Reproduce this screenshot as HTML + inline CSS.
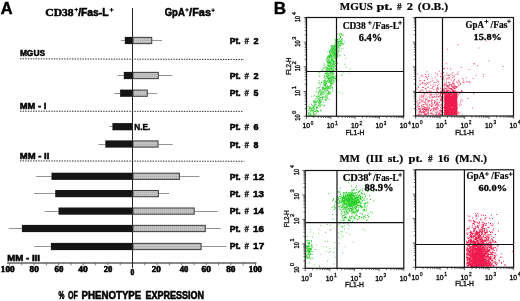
<!DOCTYPE html>
<html><head><meta charset="utf-8"><style>
html,body{margin:0;padding:0;background:#fff;}
body{width:520px;height:301px;overflow:hidden;position:relative;}
svg{position:absolute;left:0;top:0;filter:blur(0.3px);}
text{white-space:pre;}
</style></head><body>
<svg width="520" height="301" viewBox="0 0 520 301">
<defs><pattern id="hatch" width="2" height="2" patternUnits="userSpaceOnUse"><rect width="2" height="2" fill="#c4c4c4"/><rect width="1" height="1" fill="#acacac"/></pattern></defs>
<line x1="20" y1="58.8" x2="244" y2="59.5" stroke="#2a2a2a" stroke-width="1" stroke-dasharray="1.4 1.2"/>
<line x1="20" y1="111.2" x2="243.5" y2="111.4" stroke="#2a2a2a" stroke-width="1" stroke-dasharray="1.4 1.2"/>
<line x1="20" y1="160.9" x2="244.2" y2="161.3" stroke="#2a2a2a" stroke-width="1" stroke-dasharray="1.4 1.2"/>
<line x1="120.8" y1="40.5" x2="124.8" y2="40.5" stroke="#7a7a7a" stroke-width="0.8"/>
<line x1="152.2" y1="40.5" x2="162.0" y2="40.5" stroke="#7a7a7a" stroke-width="0.8"/>
<rect x="124.8" y="36.9" width="7.700000000000003" height="7.2" fill="#151515"/>
<rect x="133.0" y="37.4" width="18.69999999999999" height="6.2" fill="url(#hatch)" stroke="#484848" stroke-width="1.1"/>
<line x1="117.4" y1="75.5" x2="123.8" y2="75.5" stroke="#7a7a7a" stroke-width="0.8"/>
<line x1="158.8" y1="75.5" x2="172.3" y2="75.5" stroke="#7a7a7a" stroke-width="0.8"/>
<rect x="123.8" y="71.9" width="8.700000000000003" height="7.2" fill="#151515"/>
<rect x="133.0" y="72.4" width="25.30000000000001" height="6.2" fill="url(#hatch)" stroke="#484848" stroke-width="1.1"/>
<line x1="114.2" y1="93.5" x2="120.1" y2="93.5" stroke="#7a7a7a" stroke-width="0.8"/>
<line x1="147.8" y1="93.5" x2="157.2" y2="93.5" stroke="#7a7a7a" stroke-width="0.8"/>
<rect x="120.1" y="89.60000000000001" width="12.400000000000006" height="7.2" fill="#151515"/>
<rect x="133.0" y="90.10000000000001" width="14.300000000000011" height="6.2" fill="url(#hatch)" stroke="#484848" stroke-width="1.1"/>
<line x1="109.2" y1="126.5" x2="112.4" y2="126.5" stroke="#7a7a7a" stroke-width="0.8"/>
<rect x="112.4" y="123.10000000000001" width="20.099999999999994" height="7.2" fill="#151515"/>
<line x1="98.4" y1="144.5" x2="105.3" y2="144.5" stroke="#7a7a7a" stroke-width="0.8"/>
<line x1="158.5" y1="144.5" x2="172.7" y2="144.5" stroke="#7a7a7a" stroke-width="0.8"/>
<rect x="105.3" y="140.4" width="27.200000000000003" height="7.2" fill="#151515"/>
<rect x="133.0" y="140.9" width="25.0" height="6.2" fill="url(#hatch)" stroke="#484848" stroke-width="1.1"/>
<line x1="36.2" y1="176.5" x2="51.5" y2="176.5" stroke="#7a7a7a" stroke-width="0.8"/>
<line x1="179.9" y1="176.5" x2="199.5" y2="176.5" stroke="#7a7a7a" stroke-width="0.8"/>
<rect x="51.5" y="172.70000000000002" width="81.0" height="7.2" fill="#151515"/>
<rect x="133.0" y="173.20000000000002" width="46.400000000000006" height="6.2" fill="url(#hatch)" stroke="#484848" stroke-width="1.1"/>
<line x1="34.1" y1="193.5" x2="55.2" y2="193.5" stroke="#7a7a7a" stroke-width="0.8"/>
<line x1="158.9" y1="193.5" x2="169.3" y2="193.5" stroke="#7a7a7a" stroke-width="0.8"/>
<rect x="55.2" y="190.0" width="77.3" height="7.2" fill="#151515"/>
<rect x="133.0" y="190.5" width="25.400000000000006" height="6.2" fill="url(#hatch)" stroke="#484848" stroke-width="1.1"/>
<line x1="44.6" y1="211.5" x2="58.5" y2="211.5" stroke="#7a7a7a" stroke-width="0.8"/>
<line x1="194.7" y1="211.5" x2="217.8" y2="211.5" stroke="#7a7a7a" stroke-width="0.8"/>
<rect x="58.5" y="207.5" width="74.0" height="7.2" fill="#151515"/>
<rect x="133.0" y="208.0" width="61.19999999999999" height="6.2" fill="url(#hatch)" stroke="#484848" stroke-width="1.1"/>
<line x1="8.7" y1="228.5" x2="21.9" y2="228.5" stroke="#7a7a7a" stroke-width="0.8"/>
<line x1="205.8" y1="228.5" x2="220.8" y2="228.5" stroke="#7a7a7a" stroke-width="0.8"/>
<rect x="21.9" y="224.9" width="110.6" height="7.2" fill="#151515"/>
<rect x="133.0" y="225.4" width="72.30000000000001" height="6.2" fill="url(#hatch)" stroke="#484848" stroke-width="1.1"/>
<line x1="34.3" y1="246.5" x2="50.9" y2="246.5" stroke="#7a7a7a" stroke-width="0.8"/>
<line x1="201.6" y1="246.5" x2="226.5" y2="246.5" stroke="#7a7a7a" stroke-width="0.8"/>
<rect x="50.9" y="242.9" width="81.6" height="7.2" fill="#151515"/>
<rect x="133.0" y="243.4" width="68.1" height="6.2" fill="url(#hatch)" stroke="#484848" stroke-width="1.1"/>
<line x1="132.5" y1="8" x2="132.5" y2="268" stroke="#222" stroke-width="1"/>
<line x1="7" y1="263" x2="256.5" y2="263" stroke="#111" stroke-width="1.15"/>
<line x1="9.5" y1="263" x2="9.5" y2="265.3" stroke="#555" stroke-width="0.8"/>
<line x1="21.8" y1="263" x2="21.8" y2="265.3" stroke="#555" stroke-width="0.8"/>
<line x1="34.1" y1="263" x2="34.1" y2="265.3" stroke="#555" stroke-width="0.8"/>
<line x1="46.4" y1="263" x2="46.4" y2="265.3" stroke="#555" stroke-width="0.8"/>
<line x1="58.7" y1="263" x2="58.7" y2="265.3" stroke="#555" stroke-width="0.8"/>
<line x1="71.0" y1="263" x2="71.0" y2="265.3" stroke="#555" stroke-width="0.8"/>
<line x1="83.3" y1="263" x2="83.3" y2="265.3" stroke="#555" stroke-width="0.8"/>
<line x1="95.6" y1="263" x2="95.6" y2="265.3" stroke="#555" stroke-width="0.8"/>
<line x1="107.9" y1="263" x2="107.9" y2="265.3" stroke="#555" stroke-width="0.8"/>
<line x1="120.2" y1="263" x2="120.2" y2="265.3" stroke="#555" stroke-width="0.8"/>
<line x1="144.8" y1="263" x2="144.8" y2="265.3" stroke="#555" stroke-width="0.8"/>
<line x1="157.1" y1="263" x2="157.1" y2="265.3" stroke="#555" stroke-width="0.8"/>
<line x1="169.4" y1="263" x2="169.4" y2="265.3" stroke="#555" stroke-width="0.8"/>
<line x1="181.7" y1="263" x2="181.7" y2="265.3" stroke="#555" stroke-width="0.8"/>
<line x1="194.0" y1="263" x2="194.0" y2="265.3" stroke="#555" stroke-width="0.8"/>
<line x1="206.3" y1="263" x2="206.3" y2="265.3" stroke="#555" stroke-width="0.8"/>
<line x1="218.6" y1="263" x2="218.6" y2="265.3" stroke="#555" stroke-width="0.8"/>
<line x1="230.9" y1="263" x2="230.9" y2="265.3" stroke="#555" stroke-width="0.8"/>
<line x1="243.2" y1="263" x2="243.2" y2="265.3" stroke="#555" stroke-width="0.8"/>
<line x1="255.5" y1="263" x2="255.5" y2="265.3" stroke="#555" stroke-width="0.8"/>
<text x="0.84" y="14.40" fill="#000" style="font-family:'Liberation Sans',sans-serif;font-size:17.3px;font-weight:bold;stroke:#000;stroke-width:0.5px;" textLength="11.84" lengthAdjust="spacingAndGlyphs">A</text>
<text x="45.39" y="16.20" fill="#000" style="font-family:'Liberation Serif',serif;font-size:10.5px;font-weight:bold;stroke:#000;stroke-width:0.5px;" textLength="28.14" lengthAdjust="spacingAndGlyphs">CD38</text>
<path d="M74.50 9.60H78.10M76.30 7.80V11.40" stroke="#000" stroke-width="1.0"/>
<text x="78.15" y="16.20" fill="#000" style="font-family:'Liberation Sans',sans-serif;font-size:10px;font-weight:bold;stroke:#000;stroke-width:0.5px;" textLength="30.42" lengthAdjust="spacingAndGlyphs">/Fas-L</text>
<path d="M109.70 9.90H113.50M111.60 8.00V11.80" stroke="#000" stroke-width="1.0"/>
<text x="164.66" y="16.20" fill="#000" style="font-family:'Liberation Sans',sans-serif;font-size:10px;font-weight:bold;stroke:#000;stroke-width:0.5px;" textLength="20.14" lengthAdjust="spacingAndGlyphs">GpA</text>
<path d="M185.20 9.90H188.80M187.00 8.10V11.70" stroke="#000" stroke-width="1.0"/>
<text x="189.14" y="16.20" fill="#000" style="font-family:'Liberation Sans',sans-serif;font-size:10px;font-weight:bold;stroke:#000;stroke-width:0.5px;" textLength="21.85" lengthAdjust="spacingAndGlyphs">/Fas</text>
<path d="M211.30 10.20H214.90M213.10 8.40V12.00" stroke="#000" stroke-width="1.0"/>
<text x="229.68" y="44.00" fill="#000" style="font-family:'Liberation Sans',sans-serif;font-size:8.7px;font-weight:bold;stroke:#000;stroke-width:0.5px;" textLength="10.96" lengthAdjust="spacingAndGlyphs">Pt.</text>
<text x="244.51" y="44.00" fill="#000" style="font-family:'Liberation Sans',sans-serif;font-size:8.7px;font-weight:bold;stroke:#000;stroke-width:0.3px;" textLength="4.47" lengthAdjust="spacingAndGlyphs">#</text>
<text x="253.43" y="44.00" fill="#000" style="font-family:'Liberation Sans',sans-serif;font-size:8.7px;font-weight:bold;stroke:#000;stroke-width:0.5px;" textLength="5.08" lengthAdjust="spacingAndGlyphs">2</text>
<text x="229.68" y="78.80" fill="#000" style="font-family:'Liberation Sans',sans-serif;font-size:8.7px;font-weight:bold;stroke:#000;stroke-width:0.5px;" textLength="10.96" lengthAdjust="spacingAndGlyphs">Pt.</text>
<text x="244.51" y="78.80" fill="#000" style="font-family:'Liberation Sans',sans-serif;font-size:8.7px;font-weight:bold;stroke:#000;stroke-width:0.3px;" textLength="4.47" lengthAdjust="spacingAndGlyphs">#</text>
<text x="253.43" y="78.80" fill="#000" style="font-family:'Liberation Sans',sans-serif;font-size:8.7px;font-weight:bold;stroke:#000;stroke-width:0.5px;" textLength="5.08" lengthAdjust="spacingAndGlyphs">2</text>
<text x="229.68" y="96.00" fill="#000" style="font-family:'Liberation Sans',sans-serif;font-size:8.7px;font-weight:bold;stroke:#000;stroke-width:0.5px;" textLength="10.96" lengthAdjust="spacingAndGlyphs">Pt.</text>
<text x="244.51" y="96.00" fill="#000" style="font-family:'Liberation Sans',sans-serif;font-size:8.7px;font-weight:bold;stroke:#000;stroke-width:0.3px;" textLength="4.47" lengthAdjust="spacingAndGlyphs">#</text>
<text x="253.48" y="96.00" fill="#000" style="font-family:'Liberation Sans',sans-serif;font-size:8.7px;font-weight:bold;stroke:#000;stroke-width:0.5px;" textLength="4.92" lengthAdjust="spacingAndGlyphs">5</text>
<text x="229.68" y="129.50" fill="#000" style="font-family:'Liberation Sans',sans-serif;font-size:8.7px;font-weight:bold;stroke:#000;stroke-width:0.5px;" textLength="10.96" lengthAdjust="spacingAndGlyphs">Pt.</text>
<text x="244.51" y="129.50" fill="#000" style="font-family:'Liberation Sans',sans-serif;font-size:8.7px;font-weight:bold;stroke:#000;stroke-width:0.3px;" textLength="4.47" lengthAdjust="spacingAndGlyphs">#</text>
<text x="253.42" y="129.50" fill="#000" style="font-family:'Liberation Sans',sans-serif;font-size:8.7px;font-weight:bold;stroke:#000;stroke-width:0.5px;" textLength="5.06" lengthAdjust="spacingAndGlyphs">6</text>
<text x="134.35" y="130.40" fill="#000" style="font-family:'Liberation Sans',sans-serif;font-size:8.7px;font-weight:bold;stroke:#000;stroke-width:0.4px;" textLength="15.91" lengthAdjust="spacingAndGlyphs">N.E.</text>
<text x="229.68" y="147.70" fill="#000" style="font-family:'Liberation Sans',sans-serif;font-size:8.7px;font-weight:bold;stroke:#000;stroke-width:0.5px;" textLength="10.96" lengthAdjust="spacingAndGlyphs">Pt.</text>
<text x="244.51" y="147.70" fill="#000" style="font-family:'Liberation Sans',sans-serif;font-size:8.7px;font-weight:bold;stroke:#000;stroke-width:0.3px;" textLength="4.47" lengthAdjust="spacingAndGlyphs">#</text>
<text x="253.47" y="147.70" fill="#000" style="font-family:'Liberation Sans',sans-serif;font-size:8.7px;font-weight:bold;stroke:#000;stroke-width:0.5px;" textLength="4.96" lengthAdjust="spacingAndGlyphs">8</text>
<text x="229.68" y="179.50" fill="#000" style="font-family:'Liberation Sans',sans-serif;font-size:8.7px;font-weight:bold;stroke:#000;stroke-width:0.5px;" textLength="10.96" lengthAdjust="spacingAndGlyphs">Pt.</text>
<text x="244.51" y="179.50" fill="#000" style="font-family:'Liberation Sans',sans-serif;font-size:8.7px;font-weight:bold;stroke:#000;stroke-width:0.3px;" textLength="4.47" lengthAdjust="spacingAndGlyphs">#</text>
<text x="253.13" y="179.50" fill="#000" style="font-family:'Liberation Sans',sans-serif;font-size:8.7px;font-weight:bold;stroke:#000;stroke-width:0.5px;" textLength="11.02" lengthAdjust="spacingAndGlyphs">12</text>
<text x="229.68" y="197.20" fill="#000" style="font-family:'Liberation Sans',sans-serif;font-size:8.7px;font-weight:bold;stroke:#000;stroke-width:0.5px;" textLength="10.96" lengthAdjust="spacingAndGlyphs">Pt.</text>
<text x="244.51" y="197.20" fill="#000" style="font-family:'Liberation Sans',sans-serif;font-size:8.7px;font-weight:bold;stroke:#000;stroke-width:0.3px;" textLength="4.47" lengthAdjust="spacingAndGlyphs">#</text>
<text x="253.13" y="197.20" fill="#000" style="font-family:'Liberation Sans',sans-serif;font-size:8.7px;font-weight:bold;stroke:#000;stroke-width:0.5px;" textLength="10.98" lengthAdjust="spacingAndGlyphs">13</text>
<text x="229.68" y="214.40" fill="#000" style="font-family:'Liberation Sans',sans-serif;font-size:8.7px;font-weight:bold;stroke:#000;stroke-width:0.5px;" textLength="10.96" lengthAdjust="spacingAndGlyphs">Pt.</text>
<text x="244.51" y="214.40" fill="#000" style="font-family:'Liberation Sans',sans-serif;font-size:8.7px;font-weight:bold;stroke:#000;stroke-width:0.3px;" textLength="4.47" lengthAdjust="spacingAndGlyphs">#</text>
<text x="253.15" y="214.40" fill="#000" style="font-family:'Liberation Sans',sans-serif;font-size:8.7px;font-weight:bold;stroke:#000;stroke-width:0.5px;" textLength="10.65" lengthAdjust="spacingAndGlyphs">14</text>
<text x="229.68" y="231.60" fill="#000" style="font-family:'Liberation Sans',sans-serif;font-size:8.7px;font-weight:bold;stroke:#000;stroke-width:0.5px;" textLength="10.96" lengthAdjust="spacingAndGlyphs">Pt.</text>
<text x="244.51" y="231.60" fill="#000" style="font-family:'Liberation Sans',sans-serif;font-size:8.7px;font-weight:bold;stroke:#000;stroke-width:0.3px;" textLength="4.47" lengthAdjust="spacingAndGlyphs">#</text>
<text x="253.13" y="231.60" fill="#000" style="font-family:'Liberation Sans',sans-serif;font-size:8.7px;font-weight:bold;stroke:#000;stroke-width:0.5px;" textLength="10.98" lengthAdjust="spacingAndGlyphs">16</text>
<text x="229.68" y="249.00" fill="#000" style="font-family:'Liberation Sans',sans-serif;font-size:8.7px;font-weight:bold;stroke:#000;stroke-width:0.5px;" textLength="10.96" lengthAdjust="spacingAndGlyphs">Pt.</text>
<text x="244.51" y="249.00" fill="#000" style="font-family:'Liberation Sans',sans-serif;font-size:8.7px;font-weight:bold;stroke:#000;stroke-width:0.3px;" textLength="4.47" lengthAdjust="spacingAndGlyphs">#</text>
<text x="253.12" y="249.00" fill="#000" style="font-family:'Liberation Sans',sans-serif;font-size:8.7px;font-weight:bold;stroke:#000;stroke-width:0.5px;" textLength="11.06" lengthAdjust="spacingAndGlyphs">17</text>
<text x="19.89" y="56.30" fill="#000" style="font-family:'Liberation Sans',sans-serif;font-size:8.7px;font-weight:bold;stroke:#000;stroke-width:0.5px;" textLength="25.19" lengthAdjust="spacingAndGlyphs">MGUS</text>
<text x="19.83" y="108.60" fill="#000" style="font-family:'Liberation Sans',sans-serif;font-size:8.7px;font-weight:bold;stroke:#000;stroke-width:0.5px;" textLength="26.45" lengthAdjust="spacingAndGlyphs">MM - I</text>
<text x="19.81" y="158.60" fill="#000" style="font-family:'Liberation Sans',sans-serif;font-size:8.7px;font-weight:bold;stroke:#000;stroke-width:0.5px;" textLength="29.57" lengthAdjust="spacingAndGlyphs">MM - II</text>
<text x="7.33" y="261.00" fill="#000" style="font-family:'Liberation Sans',sans-serif;font-size:8.9px;font-weight:bold;stroke:#000;stroke-width:0.55px;" textLength="32.64" lengthAdjust="spacingAndGlyphs">MM - III</text>
<text x="0.76" y="271.60" fill="#000" style="font-family:'Liberation Serif',serif;font-size:8.8px;font-weight:bold;stroke:#000;stroke-width:0.6px;" textLength="13.89" lengthAdjust="spacingAndGlyphs">100</text>
<text x="29.60" y="271.60" fill="#000" style="font-family:'Liberation Serif',serif;font-size:8.8px;font-weight:bold;stroke:#000;stroke-width:0.6px;" textLength="9.15" lengthAdjust="spacingAndGlyphs">80</text>
<text x="54.50" y="271.60" fill="#000" style="font-family:'Liberation Serif',serif;font-size:8.8px;font-weight:bold;stroke:#000;stroke-width:0.6px;" textLength="8.84" lengthAdjust="spacingAndGlyphs">60</text>
<text x="78.37" y="271.60" fill="#000" style="font-family:'Liberation Serif',serif;font-size:8.8px;font-weight:bold;stroke:#000;stroke-width:0.6px;" textLength="9.39" lengthAdjust="spacingAndGlyphs">40</text>
<text x="103.74" y="271.60" fill="#000" style="font-family:'Liberation Serif',serif;font-size:8.8px;font-weight:bold;stroke:#000;stroke-width:0.6px;" textLength="8.59" lengthAdjust="spacingAndGlyphs">20</text>
<text x="151.72" y="271.60" fill="#000" style="font-family:'Liberation Serif',serif;font-size:8.8px;font-weight:bold;stroke:#000;stroke-width:0.6px;" textLength="9.13" lengthAdjust="spacingAndGlyphs">20</text>
<text x="179.68" y="271.60" fill="#000" style="font-family:'Liberation Serif',serif;font-size:8.8px;font-weight:bold;stroke:#000;stroke-width:0.6px;" textLength="8.54" lengthAdjust="spacingAndGlyphs">40</text>
<text x="201.48" y="271.60" fill="#000" style="font-family:'Liberation Serif',serif;font-size:8.8px;font-weight:bold;stroke:#000;stroke-width:0.6px;" textLength="9.38" lengthAdjust="spacingAndGlyphs">60</text>
<text x="226.19" y="271.60" fill="#000" style="font-family:'Liberation Serif',serif;font-size:8.8px;font-weight:bold;stroke:#000;stroke-width:0.6px;" textLength="9.26" lengthAdjust="spacingAndGlyphs">80</text>
<text x="248.79" y="271.60" fill="#000" style="font-family:'Liberation Serif',serif;font-size:8.8px;font-weight:bold;stroke:#000;stroke-width:0.6px;" textLength="13.24" lengthAdjust="spacingAndGlyphs">100</text>
<text x="130.51" y="274.60" fill="#000" style="font-family:'Liberation Serif',serif;font-size:8.8px;font-weight:bold;stroke:#000;stroke-width:0.6px;" textLength="3.78" lengthAdjust="spacingAndGlyphs">0</text>
<text x="58.51" y="298.60" fill="#000" style="font-family:'Liberation Sans',sans-serif;font-size:10.3px;font-weight:bold;stroke:#000;stroke-width:0.55px;" textLength="5.89" lengthAdjust="spacingAndGlyphs">%</text>
<text x="67.99" y="298.60" fill="#000" style="font-family:'Liberation Sans',sans-serif;font-size:10.3px;font-weight:bold;stroke:#000;stroke-width:0.55px;" textLength="9.80" lengthAdjust="spacingAndGlyphs">OF</text>
<text x="81.53" y="298.60" fill="#000" style="font-family:'Liberation Sans',sans-serif;font-size:10.3px;font-weight:bold;stroke:#000;stroke-width:0.55px;" textLength="59.78" lengthAdjust="spacingAndGlyphs">PHENOTYPE</text>
<text x="145.47" y="298.60" fill="#000" style="font-family:'Liberation Sans',sans-serif;font-size:10.3px;font-weight:bold;stroke:#000;stroke-width:0.55px;" textLength="58.66" lengthAdjust="spacingAndGlyphs">EXPRESSION</text>
<path d="M340.8 33.4h1v1h-1zM341.8 34.8h1v1h-1zM339.0 35.2h1v1h-1zM339.2 33.5h1v1h-1zM340.7 34.1h1v1h-1zM340.8 37.7h1v1h-1zM339.3 33.2h1v1h-1zM343.3 34.4h1v1h-1zM340.0 37.1h1v1h-1zM340.1 35.9h1v1h-1zM336.4 40.1h1v1h-1zM340.1 42.9h1v1h-1zM335.8 44.1h1v1h-1zM339.7 40.0h1v1h-1zM342.5 43.3h1v1h-1zM336.6 41.4h1v1h-1zM334.6 42.0h1v1h-1zM339.9 40.2h1v1h-1zM339.0 41.2h1v1h-1zM340.3 44.6h1v1h-1zM338.2 42.9h1v1h-1zM339.3 45.0h1v1h-1zM340.6 42.7h1v1h-1zM335.9 41.2h1v1h-1zM336.4 43.4h1v1h-1zM336.1 39.7h1v1h-1zM338.0 41.1h1v1h-1zM338.6 44.2h1v1h-1zM341.2 40.9h1v1h-1zM337.0 44.2h1v1h-1zM342.0 39.6h1v1h-1zM337.0 41.4h1v1h-1zM339.1 40.9h1v1h-1zM337.7 42.0h1v1h-1zM341.3 42.3h1v1h-1zM338.8 38.4h1v1h-1zM341.6 43.6h1v1h-1zM336.1 40.8h1v1h-1zM335.5 38.5h1v1h-1zM336.2 39.1h1v1h-1zM337.4 39.1h1v1h-1zM335.7 40.5h1v1h-1zM336.0 39.0h1v1h-1zM336.0 40.4h1v1h-1zM338.7 45.0h1v1h-1zM339.3 41.4h1v1h-1zM336.2 39.9h1v1h-1zM341.2 39.1h1v1h-1zM336.1 39.0h1v1h-1zM338.5 38.2h1v1h-1zM340.3 42.9h1v1h-1zM336.6 40.6h1v1h-1zM336.3 43.5h1v1h-1zM336.3 39.6h1v1h-1zM342.2 43.6h1v1h-1zM340.6 43.2h1v1h-1zM335.8 38.2h1v1h-1zM335.1 40.0h1v1h-1zM336.1 41.1h1v1h-1zM339.7 44.9h1v1h-1zM341.3 39.6h1v1h-1zM336.8 39.4h1v1h-1zM340.6 41.4h1v1h-1zM338.7 43.6h1v1h-1zM334.7 43.5h1v1h-1zM332.0 47.7h1v1h-1zM334.0 48.2h1v1h-1zM334.9 49.7h1v1h-1zM335.1 46.1h1v1h-1zM331.7 46.5h1v1h-1zM332.2 47.1h1v1h-1zM331.6 49.6h1v1h-1zM332.5 49.5h1v1h-1zM334.2 49.6h1v1h-1zM333.6 45.1h1v1h-1zM333.9 45.9h1v1h-1zM331.2 47.4h1v1h-1zM335.6 47.8h1v1h-1zM332.3 48.9h1v1h-1zM331.6 47.8h1v1h-1zM332.5 47.5h1v1h-1zM336.3 48.8h1v1h-1zM336.4 47.5h1v1h-1zM335.0 48.5h1v1h-1zM333.3 49.7h1v1h-1zM335.7 49.4h1v1h-1zM337.5 49.7h1v1h-1zM337.9 45.7h1v1h-1zM331.6 46.2h1v1h-1zM331.6 48.3h1v1h-1zM336.9 48.6h1v1h-1zM335.3 45.7h1v1h-1zM337.7 49.8h1v1h-1zM333.7 47.4h1v1h-1zM338.2 47.2h1v1h-1zM334.2 46.7h1v1h-1zM331.8 45.1h1v1h-1zM336.0 47.2h1v1h-1zM330.6 47.6h1v1h-1zM332.4 49.9h1v1h-1zM336.9 46.3h1v1h-1zM331.2 48.9h1v1h-1zM333.5 49.6h1v1h-1zM337.3 46.3h1v1h-1zM333.0 48.5h1v1h-1zM331.1 45.3h1v1h-1zM335.5 49.7h1v1h-1zM335.6 49.0h1v1h-1zM331.8 49.3h1v1h-1zM333.9 46.7h1v1h-1zM335.4 45.6h1v1h-1zM334.4 46.2h1v1h-1zM331.9 46.0h1v1h-1zM333.4 46.5h1v1h-1zM336.1 45.9h1v1h-1zM334.3 45.1h1v1h-1zM334.0 47.8h1v1h-1zM332.5 47.4h1v1h-1zM338.7 47.2h1v1h-1zM335.4 49.2h1v1h-1zM331.6 51.8h1v1h-1zM328.9 51.9h1v1h-1zM332.3 52.5h1v1h-1zM329.0 51.3h1v1h-1zM329.5 50.1h1v1h-1zM331.6 51.2h1v1h-1zM332.4 53.3h1v1h-1zM334.5 54.4h1v1h-1zM331.1 50.7h1v1h-1zM336.8 53.2h1v1h-1zM330.2 53.1h1v1h-1zM333.4 54.1h1v1h-1zM329.2 54.2h1v1h-1zM335.3 54.1h1v1h-1zM334.6 53.5h1v1h-1zM330.1 50.2h1v1h-1zM329.8 54.2h1v1h-1zM333.8 53.1h1v1h-1zM333.6 50.0h1v1h-1zM334.5 53.7h1v1h-1zM331.9 50.3h1v1h-1zM334.6 51.3h1v1h-1zM329.5 51.0h1v1h-1zM336.2 54.9h1v1h-1zM332.3 53.4h1v1h-1zM335.8 53.1h1v1h-1zM334.5 51.3h1v1h-1zM335.2 51.5h1v1h-1zM333.8 51.3h1v1h-1zM334.4 53.5h1v1h-1zM334.2 52.3h1v1h-1zM333.7 50.6h1v1h-1zM336.8 54.7h1v1h-1zM331.2 52.3h1v1h-1zM336.4 51.3h1v1h-1zM330.5 54.7h1v1h-1zM330.3 52.6h1v1h-1zM336.4 50.7h1v1h-1zM333.9 53.5h1v1h-1zM330.8 54.5h1v1h-1zM333.0 52.5h1v1h-1zM332.6 51.5h1v1h-1zM329.7 54.2h1v1h-1zM329.6 53.8h1v1h-1zM337.0 53.6h1v1h-1zM337.5 51.4h1v1h-1zM329.7 52.9h1v1h-1zM333.7 52.1h1v1h-1zM331.6 54.2h1v1h-1zM331.4 54.7h1v1h-1zM330.9 50.9h1v1h-1zM332.9 54.8h1v1h-1zM336.5 54.6h1v1h-1zM335.5 52.7h1v1h-1zM336.0 52.3h1v1h-1zM335.4 53.2h1v1h-1zM333.0 50.6h1v1h-1zM333.3 51.7h1v1h-1zM331.2 51.3h1v1h-1zM332.1 51.5h1v1h-1zM330.4 56.1h1v1h-1zM328.3 56.2h1v1h-1zM328.7 59.2h1v1h-1zM335.5 55.1h1v1h-1zM326.9 57.4h1v1h-1zM330.6 55.0h1v1h-1zM331.9 59.3h1v1h-1zM335.1 56.2h1v1h-1zM328.5 58.4h1v1h-1zM336.3 58.6h1v1h-1zM332.9 57.8h1v1h-1zM326.5 58.9h1v1h-1zM330.1 56.5h1v1h-1zM327.6 56.3h1v1h-1zM332.6 55.4h1v1h-1zM331.3 57.9h1v1h-1zM330.7 55.1h1v1h-1zM330.8 57.3h1v1h-1zM334.6 57.4h1v1h-1zM327.8 56.2h1v1h-1zM335.5 55.1h1v1h-1zM330.8 58.4h1v1h-1zM330.7 59.6h1v1h-1zM330.2 55.2h1v1h-1zM329.0 56.0h1v1h-1zM334.8 58.7h1v1h-1zM332.1 56.6h1v1h-1zM336.4 56.2h1v1h-1zM329.0 59.8h1v1h-1zM330.8 55.9h1v1h-1zM328.0 59.7h1v1h-1zM328.9 57.0h1v1h-1zM329.4 55.3h1v1h-1zM327.5 57.0h1v1h-1zM336.1 60.0h1v1h-1zM334.5 56.6h1v1h-1zM329.9 55.2h1v1h-1zM332.5 56.9h1v1h-1zM330.1 55.0h1v1h-1zM329.9 56.8h1v1h-1zM337.1 56.0h1v1h-1zM331.7 59.1h1v1h-1zM334.2 57.4h1v1h-1zM330.5 59.6h1v1h-1zM327.6 55.2h1v1h-1zM332.0 59.1h1v1h-1zM334.1 55.3h1v1h-1zM335.3 56.3h1v1h-1zM334.3 56.4h1v1h-1zM335.2 58.1h1v1h-1zM329.2 56.4h1v1h-1zM326.4 58.8h1v1h-1zM334.0 55.1h1v1h-1zM327.7 57.4h1v1h-1zM336.4 56.3h1v1h-1zM330.6 57.5h1v1h-1zM335.9 58.7h1v1h-1zM335.7 58.9h1v1h-1zM332.1 56.8h1v1h-1zM334.7 55.4h1v1h-1zM328.8 55.3h1v1h-1zM326.7 57.8h1v1h-1zM331.6 59.9h1v1h-1zM329.2 55.4h1v1h-1zM326.6 57.2h1v1h-1zM333.7 64.6h1v1h-1zM327.2 60.9h1v1h-1zM335.2 62.9h1v1h-1zM333.3 62.2h1v1h-1zM330.2 63.9h1v1h-1zM335.4 63.1h1v1h-1zM329.4 61.8h1v1h-1zM328.3 63.0h1v1h-1zM332.8 61.0h1v1h-1zM326.5 60.9h1v1h-1zM330.6 61.0h1v1h-1zM333.1 60.5h1v1h-1zM330.1 62.8h1v1h-1zM332.5 63.5h1v1h-1zM330.5 61.4h1v1h-1zM330.1 62.8h1v1h-1zM329.7 62.1h1v1h-1zM334.7 61.0h1v1h-1zM332.8 61.0h1v1h-1zM327.7 64.1h1v1h-1zM329.8 64.4h1v1h-1zM330.8 62.8h1v1h-1zM332.2 64.5h1v1h-1zM327.2 62.5h1v1h-1zM327.6 61.4h1v1h-1zM331.5 62.5h1v1h-1zM333.3 64.8h1v1h-1zM329.9 64.9h1v1h-1zM332.2 60.3h1v1h-1zM333.1 63.1h1v1h-1zM334.7 60.8h1v1h-1zM333.4 64.2h1v1h-1zM334.4 60.9h1v1h-1zM328.0 61.9h1v1h-1zM328.6 61.2h1v1h-1zM333.0 62.8h1v1h-1zM332.9 60.2h1v1h-1zM334.5 62.8h1v1h-1zM332.7 61.5h1v1h-1zM329.6 63.3h1v1h-1zM330.2 62.2h1v1h-1zM326.5 61.2h1v1h-1zM332.5 63.9h1v1h-1zM331.1 60.5h1v1h-1zM328.8 62.2h1v1h-1zM326.8 60.2h1v1h-1zM332.4 60.4h1v1h-1zM333.0 60.3h1v1h-1zM330.1 61.9h1v1h-1zM335.6 65.0h1v1h-1zM334.0 64.1h1v1h-1zM329.5 64.8h1v1h-1zM334.2 60.8h1v1h-1zM333.6 61.8h1v1h-1zM332.9 60.8h1v1h-1zM333.9 60.7h1v1h-1zM332.5 64.6h1v1h-1zM328.6 61.6h1v1h-1zM328.2 60.9h1v1h-1zM329.4 64.5h1v1h-1zM328.3 65.0h1v1h-1zM327.0 67.6h1v1h-1zM331.5 70.4h1v1h-1zM327.4 65.1h1v1h-1zM327.2 67.1h1v1h-1zM326.6 68.5h1v1h-1zM331.7 66.2h1v1h-1zM331.2 70.6h1v1h-1zM328.3 65.9h1v1h-1zM325.8 69.7h1v1h-1zM328.4 66.6h1v1h-1zM325.5 67.1h1v1h-1zM331.0 67.7h1v1h-1zM334.4 70.4h1v1h-1zM325.8 68.2h1v1h-1zM329.7 69.7h1v1h-1zM326.4 68.3h1v1h-1zM334.8 68.6h1v1h-1zM331.0 68.8h1v1h-1zM333.6 66.8h1v1h-1zM327.0 70.3h1v1h-1zM333.0 70.1h1v1h-1zM332.6 67.8h1v1h-1zM332.1 65.6h1v1h-1zM328.3 65.2h1v1h-1zM329.0 70.1h1v1h-1zM331.2 66.6h1v1h-1zM329.7 68.1h1v1h-1zM328.9 68.9h1v1h-1zM335.0 65.1h1v1h-1zM330.0 66.4h1v1h-1zM333.9 67.0h1v1h-1zM333.5 67.0h1v1h-1zM329.1 69.2h1v1h-1zM331.4 70.9h1v1h-1zM330.9 70.1h1v1h-1zM328.9 69.3h1v1h-1zM330.9 68.7h1v1h-1zM327.2 70.5h1v1h-1zM327.7 70.6h1v1h-1zM329.2 65.9h1v1h-1zM327.4 68.8h1v1h-1zM332.6 69.4h1v1h-1zM326.0 69.9h1v1h-1zM333.0 70.3h1v1h-1zM327.8 70.7h1v1h-1zM325.7 66.2h1v1h-1zM328.5 69.9h1v1h-1zM332.0 70.0h1v1h-1zM331.6 65.6h1v1h-1zM333.2 66.2h1v1h-1zM328.7 66.5h1v1h-1zM328.6 69.3h1v1h-1zM328.4 68.0h1v1h-1zM335.5 68.7h1v1h-1zM325.5 69.6h1v1h-1zM329.6 69.2h1v1h-1zM331.2 65.5h1v1h-1zM334.9 66.0h1v1h-1zM326.4 70.9h1v1h-1zM327.3 67.9h1v1h-1zM330.6 68.0h1v1h-1zM328.6 70.0h1v1h-1zM329.0 66.3h1v1h-1zM332.1 68.0h1v1h-1zM324.6 73.1h1v1h-1zM327.3 73.7h1v1h-1zM332.3 72.4h1v1h-1zM327.1 73.9h1v1h-1zM330.6 72.7h1v1h-1zM335.4 77.6h1v1h-1zM326.4 74.5h1v1h-1zM334.8 78.2h1v1h-1zM331.8 76.7h1v1h-1zM326.3 72.9h1v1h-1zM329.7 78.1h1v1h-1zM332.1 75.5h1v1h-1zM330.9 76.4h1v1h-1zM329.1 77.7h1v1h-1zM333.1 77.7h1v1h-1zM329.7 73.1h1v1h-1zM333.2 77.3h1v1h-1zM332.6 77.1h1v1h-1zM330.8 76.7h1v1h-1zM326.2 74.8h1v1h-1zM332.6 73.3h1v1h-1zM328.1 75.1h1v1h-1zM330.2 79.4h1v1h-1zM327.5 76.9h1v1h-1zM332.1 79.8h1v1h-1zM326.0 75.9h1v1h-1zM327.0 75.7h1v1h-1zM324.1 76.2h1v1h-1zM330.2 76.8h1v1h-1zM332.4 75.7h1v1h-1zM329.6 77.2h1v1h-1zM328.7 77.9h1v1h-1zM327.0 71.5h1v1h-1zM327.7 74.6h1v1h-1zM324.4 77.3h1v1h-1zM328.9 73.4h1v1h-1zM327.1 75.7h1v1h-1zM325.3 78.2h1v1h-1zM329.0 78.0h1v1h-1zM333.5 76.7h1v1h-1zM329.2 79.7h1v1h-1zM328.3 76.7h1v1h-1zM333.6 73.6h1v1h-1zM329.7 72.1h1v1h-1zM332.4 73.4h1v1h-1zM330.0 73.3h1v1h-1zM329.3 77.5h1v1h-1zM327.9 73.2h1v1h-1zM327.2 76.7h1v1h-1zM331.7 74.3h1v1h-1zM334.5 78.5h1v1h-1zM333.8 78.1h1v1h-1zM327.0 71.1h1v1h-1zM324.1 79.6h1v1h-1zM331.6 72.3h1v1h-1zM327.7 78.0h1v1h-1zM329.5 78.1h1v1h-1zM328.1 79.0h1v1h-1zM331.3 79.0h1v1h-1zM331.7 78.5h1v1h-1zM326.6 77.7h1v1h-1zM328.5 78.9h1v1h-1zM330.5 72.3h1v1h-1zM330.5 71.5h1v1h-1zM330.2 75.5h1v1h-1zM331.1 78.8h1v1h-1zM325.6 76.1h1v1h-1zM330.9 78.6h1v1h-1zM327.0 71.7h1v1h-1zM332.4 76.7h1v1h-1zM324.3 79.4h1v1h-1zM327.5 79.8h1v1h-1zM328.4 71.3h1v1h-1zM332.3 76.6h1v1h-1zM328.9 75.3h1v1h-1zM329.7 77.9h1v1h-1zM326.3 76.0h1v1h-1zM333.6 73.6h1v1h-1zM332.5 73.4h1v1h-1zM330.6 79.8h1v1h-1zM331.7 73.9h1v1h-1zM327.3 76.3h1v1h-1zM331.4 77.5h1v1h-1zM333.6 75.9h1v1h-1zM325.5 72.7h1v1h-1zM323.8 80.1h1v1h-1zM321.9 87.7h1v1h-1zM322.6 87.0h1v1h-1zM324.7 81.9h1v1h-1zM330.2 81.5h1v1h-1zM322.7 86.8h1v1h-1zM328.8 80.7h1v1h-1zM328.7 87.5h1v1h-1zM323.9 87.7h1v1h-1zM330.0 85.2h1v1h-1zM331.0 80.6h1v1h-1zM325.4 86.9h1v1h-1zM326.9 80.5h1v1h-1zM325.3 85.4h1v1h-1zM323.2 86.4h1v1h-1zM325.3 83.3h1v1h-1zM325.4 86.3h1v1h-1zM332.6 82.3h1v1h-1zM321.7 87.8h1v1h-1zM330.1 84.8h1v1h-1zM332.1 86.7h1v1h-1zM328.3 87.1h1v1h-1zM326.9 85.5h1v1h-1zM329.8 82.3h1v1h-1zM321.1 82.1h1v1h-1zM325.4 87.1h1v1h-1zM321.7 86.7h1v1h-1zM331.6 82.2h1v1h-1zM330.6 86.5h1v1h-1zM330.2 80.7h1v1h-1zM327.7 86.4h1v1h-1zM324.2 81.9h1v1h-1zM326.8 85.4h1v1h-1zM327.3 86.0h1v1h-1zM331.3 83.7h1v1h-1zM323.4 81.9h1v1h-1zM327.1 87.2h1v1h-1zM330.8 84.7h1v1h-1zM324.0 81.5h1v1h-1zM323.8 84.5h1v1h-1zM325.7 84.1h1v1h-1zM326.3 83.0h1v1h-1zM323.9 85.1h1v1h-1zM331.3 82.8h1v1h-1zM328.6 80.2h1v1h-1zM324.0 83.9h1v1h-1zM328.1 82.1h1v1h-1zM328.8 86.1h1v1h-1zM331.9 87.7h1v1h-1zM325.3 81.4h1v1h-1zM323.0 80.4h1v1h-1zM328.7 87.6h1v1h-1zM331.4 80.5h1v1h-1zM328.3 87.7h1v1h-1zM325.1 84.5h1v1h-1zM330.2 83.1h1v1h-1zM326.6 81.3h1v1h-1zM333.2 80.3h1v1h-1zM324.8 82.8h1v1h-1zM333.2 80.4h1v1h-1zM329.8 85.7h1v1h-1zM329.4 81.2h1v1h-1zM330.3 87.5h1v1h-1zM329.1 86.1h1v1h-1zM324.2 82.6h1v1h-1zM325.5 81.3h1v1h-1zM325.3 81.1h1v1h-1zM330.7 81.6h1v1h-1zM322.5 87.4h1v1h-1zM325.9 87.1h1v1h-1zM322.9 83.6h1v1h-1zM324.5 85.0h1v1h-1zM326.3 82.7h1v1h-1zM329.9 81.1h1v1h-1zM324.6 80.5h1v1h-1zM326.6 88.5h1v1h-1zM325.6 91.0h1v1h-1zM321.6 92.2h1v1h-1zM328.8 91.5h1v1h-1zM321.6 90.4h1v1h-1zM327.2 88.3h1v1h-1zM326.9 93.2h1v1h-1zM325.2 88.1h1v1h-1zM327.3 89.6h1v1h-1zM320.5 93.0h1v1h-1zM322.8 91.6h1v1h-1zM318.7 91.1h1v1h-1zM322.9 92.3h1v1h-1zM327.8 93.2h1v1h-1zM321.7 92.5h1v1h-1zM318.0 93.2h1v1h-1zM328.5 91.2h1v1h-1zM324.5 88.1h1v1h-1zM329.7 88.6h1v1h-1zM321.5 92.9h1v1h-1zM319.4 89.2h1v1h-1zM318.9 91.6h1v1h-1zM323.7 88.6h1v1h-1zM328.3 92.3h1v1h-1zM319.2 91.0h1v1h-1zM322.0 88.7h1v1h-1zM323.6 93.2h1v1h-1zM320.6 91.4h1v1h-1zM327.7 93.6h1v1h-1zM323.9 90.5h1v1h-1zM327.3 93.6h1v1h-1zM327.2 90.0h1v1h-1zM320.4 93.9h1v1h-1zM328.4 93.5h1v1h-1zM327.9 91.1h1v1h-1zM329.3 93.6h1v1h-1zM320.0 90.2h1v1h-1zM324.9 88.4h1v1h-1zM323.0 88.8h1v1h-1zM329.6 92.7h1v1h-1zM328.3 93.3h1v1h-1zM327.5 88.2h1v1h-1zM325.6 89.6h1v1h-1zM325.7 93.5h1v1h-1zM325.5 90.6h1v1h-1zM316.1 96.1h1v1h-1zM324.6 96.9h1v1h-1zM319.2 99.9h1v1h-1zM318.3 94.4h1v1h-1zM324.1 96.6h1v1h-1zM315.0 98.4h1v1h-1zM316.8 95.4h1v1h-1zM325.5 96.0h1v1h-1zM318.4 98.1h1v1h-1zM322.7 97.1h1v1h-1zM321.9 98.5h1v1h-1zM322.0 98.3h1v1h-1zM325.3 94.8h1v1h-1zM325.9 97.5h1v1h-1zM320.5 99.8h1v1h-1zM320.1 99.2h1v1h-1zM322.4 96.3h1v1h-1zM318.7 95.8h1v1h-1zM319.6 97.3h1v1h-1zM318.6 99.1h1v1h-1zM321.8 96.7h1v1h-1zM316.9 97.5h1v1h-1zM321.8 94.5h1v1h-1zM324.4 99.0h1v1h-1zM326.9 95.2h1v1h-1zM319.8 94.3h1v1h-1zM321.2 97.0h1v1h-1zM325.3 100.0h1v1h-1zM319.7 97.1h1v1h-1zM322.0 97.6h1v1h-1zM319.3 99.7h1v1h-1zM322.1 96.2h1v1h-1zM319.4 97.4h1v1h-1zM322.8 96.9h1v1h-1zM318.4 97.7h1v1h-1zM325.4 98.9h1v1h-1zM317.7 95.9h1v1h-1zM319.7 103.3h1v1h-1zM315.8 103.9h1v1h-1zM318.9 102.5h1v1h-1zM313.3 100.9h1v1h-1zM320.6 101.0h1v1h-1zM318.0 104.9h1v1h-1zM318.8 100.1h1v1h-1zM320.2 101.9h1v1h-1zM319.6 101.6h1v1h-1zM313.5 105.4h1v1h-1zM317.9 102.3h1v1h-1zM313.3 105.3h1v1h-1zM319.2 103.7h1v1h-1zM314.5 100.3h1v1h-1zM322.7 105.4h1v1h-1zM320.4 101.8h1v1h-1zM319.5 105.7h1v1h-1zM314.4 102.3h1v1h-1zM320.0 105.3h1v1h-1zM318.0 104.8h1v1h-1zM315.0 101.1h1v1h-1zM323.4 101.7h1v1h-1zM318.9 102.3h1v1h-1zM317.1 100.4h1v1h-1zM313.7 101.5h1v1h-1zM313.4 101.7h1v1h-1zM315.8 102.0h1v1h-1zM314.0 104.2h1v1h-1zM312.8 100.8h1v1h-1zM318.4 105.0h1v1h-1zM321.3 104.3h1v1h-1zM316.8 105.8h1v1h-1zM315.2 101.4h1v1h-1zM316.7 100.8h1v1h-1zM319.7 103.5h1v1h-1zM317.8 101.5h1v1h-1zM319.1 100.7h1v1h-1zM311.9 107.7h1v1h-1zM308.8 108.1h1v1h-1zM312.1 110.0h1v1h-1zM316.0 108.1h1v1h-1zM316.8 107.1h1v1h-1zM311.3 110.3h1v1h-1zM308.7 106.2h1v1h-1zM310.8 108.3h1v1h-1zM310.0 107.9h1v1h-1zM316.0 109.4h1v1h-1zM317.5 107.5h1v1h-1zM313.1 106.0h1v1h-1zM316.7 110.7h1v1h-1zM313.4 109.6h1v1h-1zM309.9 107.5h1v1h-1zM310.3 111.5h1v1h-1zM316.0 106.5h1v1h-1zM314.9 111.0h1v1h-1zM312.6 106.5h1v1h-1zM316.8 110.1h1v1h-1zM317.2 111.0h1v1h-1zM315.0 110.2h1v1h-1zM313.4 109.1h1v1h-1zM319.2 106.3h1v1h-1zM317.0 110.8h1v1h-1zM309.6 109.8h1v1h-1zM313.8 107.5h1v1h-1zM309.1 107.2h1v1h-1zM312.7 106.8h1v1h-1zM315.8 107.5h1v1h-1zM313.6 108.7h1v1h-1zM318.0 111.3h1v1h-1zM311.0 109.4h1v1h-1zM312.7 110.6h1v1h-1zM309.8 110.0h1v1h-1zM313.7 111.0h1v1h-1zM310.5 107.7h1v1h-1zM312.7 107.7h1v1h-1zM313.6 114.2h1v1h-1zM308.7 114.6h1v1h-1zM308.1 112.6h1v1h-1zM313.3 113.9h1v1h-1zM310.6 114.9h1v1h-1zM309.9 114.2h1v1h-1zM313.8 114.5h1v1h-1zM315.1 113.7h1v1h-1zM307.9 113.0h1v1h-1zM312.7 112.6h1v1h-1zM308.6 112.7h1v1h-1zM313.0 112.0h1v1h-1zM314.6 113.5h1v1h-1zM308.2 114.3h1v1h-1zM310.5 113.5h1v1h-1zM312.7 114.9h1v1h-1zM314.6 113.6h1v1h-1z" fill="#2ad02a"/>
<path d="M341.5 34.9h1v1h-1zM340.8 33.3h1v1h-1zM337.4 34.0h1v1h-1zM341.8 35.1h1v1h-1zM341.3 41.3h1v1h-1zM335.0 43.5h1v1h-1zM336.7 43.6h1v1h-1zM343.7 40.8h1v1h-1zM337.4 44.6h1v1h-1zM341.0 39.2h1v1h-1zM334.4 39.1h1v1h-1zM343.0 43.6h1v1h-1zM334.6 43.8h1v1h-1zM343.8 42.6h1v1h-1zM334.5 47.5h1v1h-1zM338.6 49.9h1v1h-1zM333.8 49.2h1v1h-1zM338.9 48.2h1v1h-1zM334.7 46.7h1v1h-1zM329.8 45.6h1v1h-1zM330.0 48.7h1v1h-1zM332.6 45.8h1v1h-1zM330.2 49.2h1v1h-1zM341.2 48.4h1v1h-1zM332.9 46.2h1v1h-1zM333.1 47.3h1v1h-1zM331.2 47.2h1v1h-1zM332.7 49.8h1v1h-1zM342.6 47.7h1v1h-1zM334.4 52.0h1v1h-1zM328.5 50.8h1v1h-1zM329.1 54.5h1v1h-1zM333.5 51.1h1v1h-1zM339.6 55.0h1v1h-1zM332.7 50.7h1v1h-1zM328.9 50.5h1v1h-1zM331.1 50.5h1v1h-1zM329.6 51.3h1v1h-1zM334.5 54.4h1v1h-1zM337.2 52.1h1v1h-1zM332.2 52.6h1v1h-1zM331.7 51.7h1v1h-1zM326.9 51.4h1v1h-1zM340.5 50.6h1v1h-1zM326.7 57.1h1v1h-1zM332.9 58.4h1v1h-1zM335.0 59.2h1v1h-1zM333.6 55.6h1v1h-1zM336.5 56.5h1v1h-1zM332.1 56.9h1v1h-1zM334.8 56.0h1v1h-1zM327.0 56.2h1v1h-1zM325.5 59.4h1v1h-1zM332.3 56.6h1v1h-1zM329.3 60.0h1v1h-1zM331.1 56.2h1v1h-1zM335.9 58.3h1v1h-1zM338.9 55.5h1v1h-1zM330.6 59.1h1v1h-1zM324.5 63.9h1v1h-1zM323.7 62.7h1v1h-1zM331.5 61.8h1v1h-1zM335.1 62.8h1v1h-1zM330.7 64.4h1v1h-1zM323.6 65.0h1v1h-1zM331.4 62.0h1v1h-1zM334.0 61.3h1v1h-1zM336.9 62.9h1v1h-1zM327.4 63.8h1v1h-1zM328.6 60.9h1v1h-1zM333.2 60.2h1v1h-1zM334.3 61.3h1v1h-1zM331.6 64.9h1v1h-1zM330.8 63.3h1v1h-1zM321.9 68.8h1v1h-1zM321.4 69.7h1v1h-1zM331.9 69.7h1v1h-1zM330.7 67.1h1v1h-1zM326.8 67.4h1v1h-1zM335.1 65.5h1v1h-1zM335.1 65.2h1v1h-1zM323.5 66.6h1v1h-1zM335.3 68.0h1v1h-1zM326.4 70.3h1v1h-1zM324.0 67.8h1v1h-1zM329.0 69.5h1v1h-1zM332.8 68.9h1v1h-1zM325.9 67.0h1v1h-1zM322.6 70.1h1v1h-1zM331.3 69.5h1v1h-1zM322.9 67.6h1v1h-1zM333.1 68.5h1v1h-1zM335.5 76.5h1v1h-1zM330.5 78.1h1v1h-1zM335.3 76.5h1v1h-1zM329.7 76.6h1v1h-1zM331.2 76.4h1v1h-1zM330.9 72.9h1v1h-1zM330.7 75.1h1v1h-1zM332.5 71.9h1v1h-1zM321.4 71.3h1v1h-1zM332.7 79.2h1v1h-1zM330.5 74.3h1v1h-1zM333.6 78.1h1v1h-1zM328.7 73.3h1v1h-1zM323.7 74.8h1v1h-1zM324.1 74.9h1v1h-1zM330.2 79.4h1v1h-1zM319.0 76.1h1v1h-1zM318.7 72.1h1v1h-1zM333.4 76.2h1v1h-1zM335.5 75.0h1v1h-1zM318.3 74.5h1v1h-1zM329.2 79.4h1v1h-1zM336.6 75.3h1v1h-1zM325.8 71.9h1v1h-1zM330.2 72.9h1v1h-1zM330.3 84.4h1v1h-1zM318.9 87.0h1v1h-1zM321.3 83.3h1v1h-1zM319.1 82.2h1v1h-1zM332.8 82.7h1v1h-1zM319.4 83.9h1v1h-1zM322.4 87.2h1v1h-1zM318.3 87.8h1v1h-1zM317.1 87.2h1v1h-1zM329.4 81.7h1v1h-1zM325.5 82.3h1v1h-1zM321.2 81.6h1v1h-1zM323.3 87.9h1v1h-1zM336.0 87.4h1v1h-1zM318.0 82.3h1v1h-1zM333.9 80.5h1v1h-1zM330.5 82.3h1v1h-1zM335.6 80.1h1v1h-1zM332.1 82.7h1v1h-1zM318.8 80.0h1v1h-1zM332.6 84.2h1v1h-1zM319.7 83.5h1v1h-1zM334.2 81.7h1v1h-1zM327.4 81.1h1v1h-1zM319.6 86.2h1v1h-1zM332.1 89.7h1v1h-1zM319.8 91.9h1v1h-1zM316.3 91.6h1v1h-1zM332.2 91.1h1v1h-1zM319.1 90.8h1v1h-1zM324.1 88.9h1v1h-1zM316.4 88.8h1v1h-1zM319.6 90.4h1v1h-1zM319.5 89.5h1v1h-1zM315.7 91.3h1v1h-1zM330.0 91.7h1v1h-1zM324.8 91.9h1v1h-1zM317.8 92.3h1v1h-1zM322.8 91.3h1v1h-1zM325.6 90.8h1v1h-1zM319.9 89.5h1v1h-1zM318.2 91.1h1v1h-1zM321.3 91.5h1v1h-1zM328.6 99.0h1v1h-1zM320.2 94.7h1v1h-1zM327.1 98.1h1v1h-1zM325.8 99.9h1v1h-1zM327.0 96.5h1v1h-1zM313.8 95.7h1v1h-1zM320.2 97.0h1v1h-1zM314.4 95.1h1v1h-1zM322.3 97.6h1v1h-1zM317.4 100.0h1v1h-1zM322.5 94.3h1v1h-1zM318.4 98.7h1v1h-1zM316.5 98.1h1v1h-1zM311.1 95.8h1v1h-1zM326.2 97.5h1v1h-1zM317.7 103.3h1v1h-1zM313.6 104.6h1v1h-1zM315.5 103.9h1v1h-1zM318.7 101.9h1v1h-1zM315.6 100.5h1v1h-1zM312.0 105.1h1v1h-1zM314.5 104.0h1v1h-1zM310.9 103.4h1v1h-1zM315.1 103.0h1v1h-1zM314.0 100.4h1v1h-1zM314.3 101.4h1v1h-1zM311.1 104.3h1v1h-1zM313.8 102.4h1v1h-1zM324.5 104.6h1v1h-1zM324.0 105.2h1v1h-1zM309.8 110.2h1v1h-1zM313.3 106.7h1v1h-1zM311.5 108.8h1v1h-1zM312.1 107.0h1v1h-1zM308.0 106.1h1v1h-1zM320.9 110.5h1v1h-1zM308.2 110.3h1v1h-1zM320.7 109.4h1v1h-1zM308.5 108.9h1v1h-1zM313.1 107.1h1v1h-1zM314.6 106.0h1v1h-1zM319.9 109.9h1v1h-1zM315.8 111.6h1v1h-1zM316.1 107.5h1v1h-1zM310.4 106.8h1v1h-1zM313.2 113.2h1v1h-1zM309.1 112.3h1v1h-1zM310.6 113.6h1v1h-1zM317.6 114.2h1v1h-1zM315.9 112.2h1v1h-1zM314.4 114.1h1v1h-1zM340.9 74.3h1v1h-1zM349.4 68.8h1v1h-1zM345.4 58.0h1v1h-1zM341.5 93.1h1v1h-1zM337.4 51.3h1v1h-1zM345.8 66.8h1v1h-1zM338.1 79.6h1v1h-1zM341.8 74.8h1v1h-1zM342.4 71.8h1v1h-1zM344.3 63.8h1v1h-1zM338.5 50.8h1v1h-1zM348.6 72.9h1v1h-1zM338.5 91.7h1v1h-1zM340.3 45.7h1v1h-1zM343.9 55.1h1v1h-1z" fill="#6cd46c"/>
<rect x="306.5" y="17.5" width="97.19999999999999" height="98.7" fill="none" stroke="#111" stroke-width="1.2"/>
<line x1="336.5" y1="17.5" x2="336.5" y2="116.2" stroke="#111" stroke-width="1.2"/>
<line x1="306.5" y1="71.5" x2="403.7" y2="71.5" stroke="#111" stroke-width="1.2"/>
<path d="M306.50 116.2v2.8M313.82 116.2v1.8M318.09 116.2v1.8M321.13 116.2v1.8M323.48 116.2v1.8M325.41 116.2v1.8M327.04 116.2v1.8M328.45 116.2v1.8M329.69 116.2v1.8M330.80 116.2v2.8M338.12 116.2v1.8M342.39 116.2v1.8M345.43 116.2v1.8M347.78 116.2v1.8M349.71 116.2v1.8M351.34 116.2v1.8M352.75 116.2v1.8M353.99 116.2v1.8M355.10 116.2v2.8M362.42 116.2v1.8M366.69 116.2v1.8M369.73 116.2v1.8M372.08 116.2v1.8M374.01 116.2v1.8M375.64 116.2v1.8M377.05 116.2v1.8M378.29 116.2v1.8M379.40 116.2v2.8M386.72 116.2v1.8M390.99 116.2v1.8M394.03 116.2v1.8M396.38 116.2v1.8M398.31 116.2v1.8M399.94 116.2v1.8M401.35 116.2v1.8M402.59 116.2v1.8M403.70 116.2v2.8M306.5 116.20h-2.8M306.5 108.77h-1.8M306.5 104.43h-1.8M306.5 101.34h-1.8M306.5 98.95h-1.8M306.5 97.00h-1.8M306.5 95.35h-1.8M306.5 93.92h-1.8M306.5 92.65h-1.8M306.5 91.53h-2.8M306.5 84.10h-1.8M306.5 79.75h-1.8M306.5 76.67h-1.8M306.5 74.28h-1.8M306.5 72.32h-1.8M306.5 70.67h-1.8M306.5 69.24h-1.8M306.5 67.98h-1.8M306.5 66.85h-2.8M306.5 59.42h-1.8M306.5 55.08h-1.8M306.5 51.99h-1.8M306.5 49.60h-1.8M306.5 47.65h-1.8M306.5 46.00h-1.8M306.5 44.57h-1.8M306.5 43.30h-1.8M306.5 42.17h-2.8M306.5 34.75h-1.8M306.5 30.40h-1.8M306.5 27.32h-1.8M306.5 24.93h-1.8M306.5 22.97h-1.8M306.5 21.32h-1.8M306.5 19.89h-1.8M306.5 18.63h-1.8M306.5 17.50h-2.8" stroke="#222" stroke-width="0.7"/>
<text x="302.48" y="128.40" fill="#111" style="font-family:'Liberation Sans',sans-serif;font-size:7px;font-weight:normal;stroke:#111;stroke-width:0.4px;" textLength="7.59" lengthAdjust="spacingAndGlyphs">10</text>
<text x="310.87" y="124.50" fill="#111" style="font-family:'Liberation Sans',sans-serif;font-size:5.2px;font-weight:normal;stroke:#111;stroke-width:0.3px;" textLength="2.56" lengthAdjust="spacingAndGlyphs">0</text>
<text x="326.78" y="128.40" fill="#111" style="font-family:'Liberation Sans',sans-serif;font-size:7px;font-weight:normal;stroke:#111;stroke-width:0.4px;" textLength="7.59" lengthAdjust="spacingAndGlyphs">10</text>
<text x="334.96" y="124.50" fill="#111" style="font-family:'Liberation Sans',sans-serif;font-size:5.2px;font-weight:normal;stroke:#111;stroke-width:0.3px;" textLength="2.84" lengthAdjust="spacingAndGlyphs">1</text>
<text x="351.08" y="128.40" fill="#111" style="font-family:'Liberation Sans',sans-serif;font-size:7px;font-weight:normal;stroke:#111;stroke-width:0.4px;" textLength="7.59" lengthAdjust="spacingAndGlyphs">10</text>
<text x="359.41" y="124.50" fill="#111" style="font-family:'Liberation Sans',sans-serif;font-size:5.2px;font-weight:normal;stroke:#111;stroke-width:0.3px;" textLength="2.69" lengthAdjust="spacingAndGlyphs">2</text>
<text x="375.38" y="128.40" fill="#111" style="font-family:'Liberation Sans',sans-serif;font-size:7px;font-weight:normal;stroke:#111;stroke-width:0.4px;" textLength="7.59" lengthAdjust="spacingAndGlyphs">10</text>
<text x="383.77" y="124.50" fill="#111" style="font-family:'Liberation Sans',sans-serif;font-size:5.2px;font-weight:normal;stroke:#111;stroke-width:0.3px;" textLength="2.58" lengthAdjust="spacingAndGlyphs">3</text>
<text x="399.68" y="128.40" fill="#111" style="font-family:'Liberation Sans',sans-serif;font-size:7px;font-weight:normal;stroke:#111;stroke-width:0.4px;" textLength="7.59" lengthAdjust="spacingAndGlyphs">10</text>
<text x="408.15" y="124.50" fill="#111" style="font-family:'Liberation Sans',sans-serif;font-size:5.2px;font-weight:normal;stroke:#111;stroke-width:0.3px;" textLength="2.43" lengthAdjust="spacingAndGlyphs">4</text>
<text x="345.72" y="135.00" fill="#111" style="font-family:'Liberation Sans',sans-serif;font-size:6.5px;font-weight:normal;stroke:#111;stroke-width:0.35px;" textLength="18.65" lengthAdjust="spacingAndGlyphs">FL1-H</text>
<g transform="translate(300.0,120.5) rotate(-90)">
<text x="-0.23" y="0.00" fill="#111" style="font-family:'Liberation Sans',sans-serif;font-size:6.6px;font-weight:normal;stroke:#111;stroke-width:0.4px;" textLength="6.25" lengthAdjust="spacingAndGlyphs">10</text>
<text x="6.73" y="-4.40" fill="#111" style="font-family:'Liberation Sans',sans-serif;font-size:5.2px;font-weight:normal;stroke:#111;stroke-width:0.3px;" textLength="3.14" lengthAdjust="spacingAndGlyphs">0</text>
</g>
<g transform="translate(300.0,95.8) rotate(-90)">
<text x="-0.23" y="0.00" fill="#111" style="font-family:'Liberation Sans',sans-serif;font-size:6.6px;font-weight:normal;stroke:#111;stroke-width:0.4px;" textLength="6.25" lengthAdjust="spacingAndGlyphs">10</text>
<text x="6.47" y="-4.40" fill="#111" style="font-family:'Liberation Sans',sans-serif;font-size:5.2px;font-weight:normal;stroke:#111;stroke-width:0.3px;" textLength="3.48" lengthAdjust="spacingAndGlyphs">1</text>
</g>
<g transform="translate(300.0,71.1) rotate(-90)">
<text x="-0.23" y="0.00" fill="#111" style="font-family:'Liberation Sans',sans-serif;font-size:6.6px;font-weight:normal;stroke:#111;stroke-width:0.4px;" textLength="6.25" lengthAdjust="spacingAndGlyphs">10</text>
<text x="6.65" y="-4.40" fill="#111" style="font-family:'Liberation Sans',sans-serif;font-size:5.2px;font-weight:normal;stroke:#111;stroke-width:0.3px;" textLength="3.30" lengthAdjust="spacingAndGlyphs">2</text>
</g>
<g transform="translate(300.0,46.5) rotate(-90)">
<text x="-0.23" y="0.00" fill="#111" style="font-family:'Liberation Sans',sans-serif;font-size:6.6px;font-weight:normal;stroke:#111;stroke-width:0.4px;" textLength="6.25" lengthAdjust="spacingAndGlyphs">10</text>
<text x="6.73" y="-4.40" fill="#111" style="font-family:'Liberation Sans',sans-serif;font-size:5.2px;font-weight:normal;stroke:#111;stroke-width:0.3px;" textLength="3.17" lengthAdjust="spacingAndGlyphs">3</text>
</g>
<g transform="translate(300.0,21.8) rotate(-90)">
<text x="-0.23" y="0.00" fill="#111" style="font-family:'Liberation Sans',sans-serif;font-size:6.6px;font-weight:normal;stroke:#111;stroke-width:0.4px;" textLength="6.25" lengthAdjust="spacingAndGlyphs">10</text>
<text x="6.83" y="-4.40" fill="#111" style="font-family:'Liberation Sans',sans-serif;font-size:5.2px;font-weight:normal;stroke:#111;stroke-width:0.3px;" textLength="2.98" lengthAdjust="spacingAndGlyphs">4</text>
</g>
<g transform="translate(290.5,74.8) rotate(-90)">
<text x="0.15" y="0.00" fill="#111" style="font-family:'Liberation Sans',sans-serif;font-size:6.4px;font-weight:normal;stroke:#111;stroke-width:0.3px;" textLength="17.00" lengthAdjust="spacingAndGlyphs">FL2-H</text>
</g>
<path d="M450.1 106.0h1v1h-1zM446.8 106.4h1v1h-1zM445.4 105.0h1v1h-1zM451.4 95.3h1v1h-1zM449.1 95.2h1v1h-1zM449.5 112.9h1v1h-1zM450.9 109.6h1v1h-1zM453.5 96.1h1v1h-1zM456.4 109.7h1v1h-1zM445.3 112.2h1v1h-1zM448.9 97.4h1v1h-1zM456.0 106.2h1v1h-1zM453.7 96.6h1v1h-1zM453.7 94.8h1v1h-1zM447.0 101.9h1v1h-1zM444.2 106.9h1v1h-1zM446.7 100.2h1v1h-1zM452.8 103.1h1v1h-1zM455.1 107.5h1v1h-1zM454.9 106.2h1v1h-1zM455.5 113.1h1v1h-1zM446.1 110.3h1v1h-1zM448.3 110.7h1v1h-1zM452.5 112.1h1v1h-1zM445.5 101.9h1v1h-1zM453.0 94.5h1v1h-1zM451.5 95.7h1v1h-1zM450.9 111.6h1v1h-1zM445.4 114.3h1v1h-1zM452.4 99.2h1v1h-1zM446.4 103.6h1v1h-1zM454.5 106.6h1v1h-1zM445.4 94.0h1v1h-1zM445.4 111.5h1v1h-1zM446.3 106.0h1v1h-1zM447.6 109.0h1v1h-1zM448.8 96.7h1v1h-1zM454.9 105.6h1v1h-1zM452.6 111.7h1v1h-1zM455.9 93.8h1v1h-1zM448.3 96.9h1v1h-1zM450.3 113.1h1v1h-1zM454.0 94.3h1v1h-1zM446.3 111.9h1v1h-1zM452.5 102.3h1v1h-1zM449.9 97.1h1v1h-1zM454.6 102.4h1v1h-1zM454.9 107.2h1v1h-1zM444.9 100.9h1v1h-1zM446.7 113.6h1v1h-1zM451.4 94.5h1v1h-1zM446.1 101.6h1v1h-1zM449.8 106.5h1v1h-1zM448.8 101.5h1v1h-1zM444.1 106.5h1v1h-1zM448.2 94.0h1v1h-1zM444.6 96.8h1v1h-1zM452.4 99.6h1v1h-1zM447.4 104.8h1v1h-1zM447.3 106.3h1v1h-1zM456.4 94.3h1v1h-1zM451.0 110.8h1v1h-1zM454.9 110.9h1v1h-1zM451.9 107.8h1v1h-1zM448.5 99.8h1v1h-1zM453.9 113.1h1v1h-1zM455.7 108.8h1v1h-1zM447.8 110.7h1v1h-1zM453.2 105.0h1v1h-1zM451.9 101.4h1v1h-1zM450.9 102.6h1v1h-1zM444.8 101.1h1v1h-1zM450.0 101.8h1v1h-1zM447.0 98.8h1v1h-1zM448.4 96.6h1v1h-1zM444.1 113.1h1v1h-1zM449.7 103.5h1v1h-1zM451.1 100.3h1v1h-1zM446.1 95.0h1v1h-1zM447.8 100.4h1v1h-1zM453.1 105.9h1v1h-1zM455.7 101.2h1v1h-1zM455.5 106.6h1v1h-1zM445.0 97.5h1v1h-1zM448.5 110.9h1v1h-1zM449.4 113.0h1v1h-1zM444.8 104.4h1v1h-1zM455.2 99.7h1v1h-1zM447.2 94.0h1v1h-1zM446.1 99.5h1v1h-1zM452.8 98.4h1v1h-1zM449.0 98.0h1v1h-1zM451.5 112.9h1v1h-1zM452.1 97.9h1v1h-1zM451.5 95.3h1v1h-1zM454.1 113.2h1v1h-1zM448.3 96.6h1v1h-1zM446.4 105.6h1v1h-1zM454.9 107.9h1v1h-1zM455.5 98.3h1v1h-1zM448.1 110.4h1v1h-1zM452.1 102.6h1v1h-1zM452.5 101.1h1v1h-1zM444.7 102.8h1v1h-1zM444.6 107.6h1v1h-1zM448.2 104.6h1v1h-1zM451.5 99.3h1v1h-1zM449.8 93.8h1v1h-1zM455.6 106.2h1v1h-1zM456.3 94.8h1v1h-1zM451.7 109.8h1v1h-1zM448.1 95.6h1v1h-1zM446.0 96.7h1v1h-1zM453.6 95.5h1v1h-1zM454.2 103.0h1v1h-1zM450.7 106.7h1v1h-1zM450.9 108.3h1v1h-1zM451.5 100.9h1v1h-1zM453.3 99.3h1v1h-1zM452.9 110.7h1v1h-1zM453.7 100.5h1v1h-1zM449.7 99.8h1v1h-1zM445.6 93.7h1v1h-1zM449.9 108.2h1v1h-1zM453.7 101.7h1v1h-1zM456.4 98.6h1v1h-1zM453.5 95.5h1v1h-1zM444.3 96.5h1v1h-1zM444.8 104.8h1v1h-1zM450.9 97.6h1v1h-1zM455.7 101.7h1v1h-1zM445.9 97.5h1v1h-1zM453.2 114.2h1v1h-1zM446.0 94.2h1v1h-1zM453.7 99.0h1v1h-1zM456.3 104.7h1v1h-1zM452.0 101.2h1v1h-1zM454.0 103.9h1v1h-1zM448.0 113.8h1v1h-1zM445.3 110.0h1v1h-1zM444.8 108.0h1v1h-1zM449.0 112.9h1v1h-1zM444.7 106.2h1v1h-1zM449.1 114.2h1v1h-1zM455.8 107.6h1v1h-1zM446.8 99.2h1v1h-1zM447.3 103.3h1v1h-1zM446.9 98.1h1v1h-1zM453.5 108.0h1v1h-1zM446.7 106.3h1v1h-1zM446.0 112.9h1v1h-1zM454.9 99.5h1v1h-1zM453.4 112.0h1v1h-1zM447.5 101.0h1v1h-1zM450.1 113.5h1v1h-1zM446.0 108.9h1v1h-1zM451.5 103.7h1v1h-1zM451.2 113.4h1v1h-1zM446.6 113.4h1v1h-1zM448.5 111.0h1v1h-1zM454.8 97.6h1v1h-1zM447.7 94.0h1v1h-1zM444.1 114.0h1v1h-1zM445.9 110.1h1v1h-1zM445.2 97.3h1v1h-1zM452.5 95.5h1v1h-1zM448.2 114.2h1v1h-1zM453.0 113.3h1v1h-1zM456.2 94.2h1v1h-1zM446.9 111.3h1v1h-1zM452.6 94.4h1v1h-1zM450.3 98.7h1v1h-1zM449.4 95.9h1v1h-1zM448.0 113.3h1v1h-1zM445.5 104.5h1v1h-1zM445.7 103.1h1v1h-1zM446.2 108.9h1v1h-1zM445.8 110.1h1v1h-1zM450.3 96.0h1v1h-1zM448.4 104.7h1v1h-1zM455.5 101.4h1v1h-1zM455.0 110.0h1v1h-1zM447.4 97.5h1v1h-1zM447.3 95.1h1v1h-1zM444.5 104.9h1v1h-1zM449.1 106.0h1v1h-1zM448.5 93.7h1v1h-1zM452.6 108.2h1v1h-1zM450.8 105.8h1v1h-1zM454.9 109.6h1v1h-1zM449.0 100.7h1v1h-1zM448.8 102.2h1v1h-1zM449.1 96.7h1v1h-1zM456.5 93.6h1v1h-1zM451.6 114.3h1v1h-1zM447.2 107.2h1v1h-1zM448.7 98.9h1v1h-1zM446.5 96.1h1v1h-1zM454.5 111.1h1v1h-1zM455.4 94.6h1v1h-1zM452.7 100.8h1v1h-1zM452.1 105.9h1v1h-1zM444.0 110.3h1v1h-1zM454.7 105.0h1v1h-1zM446.9 107.7h1v1h-1zM453.3 102.0h1v1h-1zM452.9 102.4h1v1h-1zM450.6 107.3h1v1h-1zM452.5 100.7h1v1h-1zM451.9 105.7h1v1h-1zM446.8 107.3h1v1h-1zM447.3 113.9h1v1h-1zM449.9 109.7h1v1h-1zM450.5 104.2h1v1h-1zM446.8 96.7h1v1h-1zM455.6 105.4h1v1h-1zM450.5 105.4h1v1h-1zM454.2 98.9h1v1h-1zM446.2 112.0h1v1h-1zM449.8 107.9h1v1h-1zM454.3 113.6h1v1h-1zM454.8 94.5h1v1h-1zM448.8 112.2h1v1h-1zM454.2 96.3h1v1h-1zM445.9 99.2h1v1h-1zM445.3 101.5h1v1h-1zM454.0 105.2h1v1h-1zM449.7 95.5h1v1h-1zM452.7 103.6h1v1h-1zM450.0 111.5h1v1h-1zM453.5 96.9h1v1h-1zM452.5 101.8h1v1h-1zM450.5 98.8h1v1h-1zM448.6 101.2h1v1h-1zM448.8 93.9h1v1h-1zM446.5 106.3h1v1h-1zM444.7 97.5h1v1h-1zM453.0 99.7h1v1h-1zM448.1 98.9h1v1h-1zM454.4 95.6h1v1h-1zM452.0 112.8h1v1h-1zM446.5 103.0h1v1h-1zM453.9 107.4h1v1h-1zM448.6 94.5h1v1h-1zM449.5 101.8h1v1h-1zM452.9 100.1h1v1h-1zM449.1 108.1h1v1h-1zM454.1 101.4h1v1h-1zM448.8 106.5h1v1h-1zM455.6 97.8h1v1h-1zM456.1 109.5h1v1h-1zM448.7 108.5h1v1h-1zM448.1 95.1h1v1h-1zM453.5 102.0h1v1h-1zM450.6 104.7h1v1h-1zM455.3 110.5h1v1h-1zM444.3 106.8h1v1h-1zM449.8 103.9h1v1h-1zM454.5 102.8h1v1h-1zM449.9 113.5h1v1h-1zM449.5 104.6h1v1h-1zM450.4 112.1h1v1h-1zM452.4 110.2h1v1h-1zM449.0 94.4h1v1h-1zM452.5 106.0h1v1h-1zM453.6 110.8h1v1h-1zM445.5 98.5h1v1h-1zM445.0 111.9h1v1h-1zM445.3 95.5h1v1h-1zM453.4 106.2h1v1h-1zM444.7 108.8h1v1h-1zM452.9 104.4h1v1h-1zM444.7 109.0h1v1h-1zM449.2 106.6h1v1h-1zM456.5 111.9h1v1h-1zM454.9 96.8h1v1h-1zM448.2 105.2h1v1h-1zM447.4 99.4h1v1h-1zM447.9 99.2h1v1h-1zM454.7 106.0h1v1h-1zM450.4 103.0h1v1h-1zM444.6 100.4h1v1h-1zM454.8 111.5h1v1h-1zM454.7 99.3h1v1h-1zM446.5 94.7h1v1h-1zM450.7 101.9h1v1h-1zM449.8 104.5h1v1h-1zM451.3 101.7h1v1h-1zM454.0 98.0h1v1h-1zM455.5 106.0h1v1h-1zM444.6 100.6h1v1h-1zM450.7 102.7h1v1h-1zM451.1 100.8h1v1h-1zM447.4 111.4h1v1h-1zM447.6 109.5h1v1h-1zM454.0 106.8h1v1h-1zM449.6 113.3h1v1h-1zM444.7 103.3h1v1h-1zM452.0 94.6h1v1h-1zM454.8 95.1h1v1h-1zM451.5 97.6h1v1h-1zM455.5 106.1h1v1h-1zM454.0 104.7h1v1h-1zM452.4 108.7h1v1h-1zM447.7 98.2h1v1h-1zM454.5 96.8h1v1h-1zM455.5 98.2h1v1h-1zM445.3 95.6h1v1h-1zM449.2 108.3h1v1h-1zM447.2 113.9h1v1h-1zM452.6 97.0h1v1h-1zM444.7 109.2h1v1h-1zM444.5 112.3h1v1h-1zM447.7 98.7h1v1h-1zM451.3 100.7h1v1h-1zM451.0 97.0h1v1h-1zM455.4 100.8h1v1h-1zM454.5 96.9h1v1h-1zM448.9 94.2h1v1h-1zM448.7 107.9h1v1h-1zM446.8 105.8h1v1h-1zM445.2 104.0h1v1h-1zM453.1 103.2h1v1h-1zM452.5 96.1h1v1h-1zM454.4 96.2h1v1h-1zM455.7 105.3h1v1h-1zM447.6 101.3h1v1h-1zM453.4 104.7h1v1h-1zM455.6 95.6h1v1h-1zM450.1 112.9h1v1h-1zM451.5 105.7h1v1h-1zM445.1 96.6h1v1h-1zM447.4 113.6h1v1h-1zM454.6 98.6h1v1h-1zM455.6 94.2h1v1h-1zM452.2 94.6h1v1h-1zM448.2 103.6h1v1h-1zM447.1 110.2h1v1h-1zM446.2 111.2h1v1h-1zM447.7 95.1h1v1h-1zM451.0 95.7h1v1h-1zM450.9 111.2h1v1h-1zM451.4 103.9h1v1h-1zM444.4 105.1h1v1h-1zM445.2 108.1h1v1h-1zM445.6 106.5h1v1h-1zM448.4 101.9h1v1h-1zM452.3 97.2h1v1h-1zM448.1 112.5h1v1h-1zM454.9 104.3h1v1h-1zM445.9 95.6h1v1h-1zM455.0 96.1h1v1h-1zM450.2 105.6h1v1h-1zM445.5 104.0h1v1h-1zM446.1 105.5h1v1h-1zM450.3 101.8h1v1h-1zM446.5 102.6h1v1h-1zM446.5 96.4h1v1h-1zM447.0 113.1h1v1h-1zM450.3 113.5h1v1h-1zM450.1 111.3h1v1h-1zM451.1 109.0h1v1h-1zM446.9 110.4h1v1h-1zM445.9 99.4h1v1h-1zM444.4 102.3h1v1h-1zM450.5 100.1h1v1h-1zM455.1 95.4h1v1h-1zM451.2 98.8h1v1h-1zM451.4 111.1h1v1h-1zM452.9 94.9h1v1h-1zM447.1 107.0h1v1h-1zM456.3 94.4h1v1h-1zM451.7 109.1h1v1h-1zM454.2 101.2h1v1h-1zM454.1 103.9h1v1h-1zM455.5 93.7h1v1h-1zM455.8 102.8h1v1h-1zM449.1 95.5h1v1h-1zM447.1 110.0h1v1h-1zM452.5 96.9h1v1h-1zM448.3 96.7h1v1h-1zM446.5 98.4h1v1h-1zM456.5 111.3h1v1h-1zM450.0 104.7h1v1h-1zM453.7 113.9h1v1h-1zM453.4 107.8h1v1h-1zM446.5 107.6h1v1h-1zM454.6 111.2h1v1h-1zM445.2 109.6h1v1h-1zM448.4 97.2h1v1h-1zM456.1 108.6h1v1h-1zM453.3 96.5h1v1h-1zM455.3 110.3h1v1h-1zM454.4 111.5h1v1h-1zM451.4 103.3h1v1h-1zM454.3 111.1h1v1h-1zM454.9 100.2h1v1h-1zM456.0 105.5h1v1h-1zM455.8 96.1h1v1h-1zM456.1 111.2h1v1h-1zM447.2 112.4h1v1h-1zM446.9 98.0h1v1h-1zM449.7 98.8h1v1h-1zM450.2 113.9h1v1h-1zM452.6 109.5h1v1h-1zM448.9 111.1h1v1h-1zM453.9 108.9h1v1h-1zM455.8 112.1h1v1h-1zM449.1 95.5h1v1h-1zM452.2 112.3h1v1h-1zM448.2 106.9h1v1h-1zM454.5 111.3h1v1h-1zM444.1 104.5h1v1h-1zM444.2 96.0h1v1h-1zM454.2 102.9h1v1h-1zM451.6 103.8h1v1h-1zM448.2 98.3h1v1h-1zM448.4 112.5h1v1h-1zM451.7 100.1h1v1h-1zM445.1 99.6h1v1h-1zM452.8 103.4h1v1h-1zM452.3 111.7h1v1h-1zM445.5 108.9h1v1h-1zM444.5 112.0h1v1h-1zM446.3 99.6h1v1h-1zM456.0 101.7h1v1h-1zM446.8 113.5h1v1h-1zM451.6 113.6h1v1h-1zM448.9 104.7h1v1h-1zM455.9 104.9h1v1h-1zM456.4 97.8h1v1h-1zM454.4 97.1h1v1h-1zM450.6 93.5h1v1h-1zM449.7 111.7h1v1h-1zM447.1 101.4h1v1h-1zM445.3 105.9h1v1h-1zM454.8 105.1h1v1h-1zM448.7 114.4h1v1h-1zM455.2 108.5h1v1h-1zM444.9 107.5h1v1h-1zM448.5 108.4h1v1h-1zM451.9 102.0h1v1h-1zM450.5 108.7h1v1h-1zM455.3 104.7h1v1h-1zM444.7 112.3h1v1h-1zM452.5 106.0h1v1h-1zM449.6 110.4h1v1h-1zM455.1 109.9h1v1h-1zM453.4 94.3h1v1h-1zM448.1 96.6h1v1h-1zM455.9 113.6h1v1h-1zM445.8 106.7h1v1h-1zM451.2 94.6h1v1h-1zM448.9 110.3h1v1h-1zM452.0 99.8h1v1h-1zM453.5 100.1h1v1h-1zM450.8 103.0h1v1h-1zM456.2 108.1h1v1h-1zM454.1 108.7h1v1h-1zM452.9 109.0h1v1h-1zM447.5 97.1h1v1h-1zM451.2 112.1h1v1h-1zM453.9 101.3h1v1h-1zM445.7 105.1h1v1h-1zM455.0 97.1h1v1h-1zM453.2 97.3h1v1h-1zM447.9 94.7h1v1h-1zM447.7 102.1h1v1h-1zM446.3 100.5h1v1h-1zM455.8 97.9h1v1h-1zM448.0 103.4h1v1h-1zM445.4 99.4h1v1h-1zM448.9 102.2h1v1h-1zM456.0 99.5h1v1h-1zM446.5 113.9h1v1h-1zM449.6 112.3h1v1h-1zM452.0 111.0h1v1h-1zM447.9 96.9h1v1h-1zM453.5 104.1h1v1h-1zM451.0 108.6h1v1h-1zM453.4 99.7h1v1h-1zM448.5 114.1h1v1h-1zM450.6 100.0h1v1h-1zM451.9 99.3h1v1h-1zM453.6 94.4h1v1h-1zM454.3 106.2h1v1h-1zM447.3 99.0h1v1h-1zM444.9 105.8h1v1h-1zM453.4 108.8h1v1h-1zM449.2 111.7h1v1h-1zM445.4 100.4h1v1h-1zM451.9 109.1h1v1h-1zM453.7 102.4h1v1h-1zM455.8 110.2h1v1h-1zM448.3 102.3h1v1h-1zM454.1 101.4h1v1h-1zM446.3 113.1h1v1h-1zM450.6 105.2h1v1h-1zM452.4 113.8h1v1h-1zM445.7 101.1h1v1h-1zM444.8 102.8h1v1h-1zM450.3 112.7h1v1h-1zM452.3 106.5h1v1h-1zM449.0 106.4h1v1h-1zM447.4 112.5h1v1h-1zM453.9 112.4h1v1h-1zM445.9 108.6h1v1h-1zM453.4 104.8h1v1h-1zM455.2 113.7h1v1h-1zM453.3 112.0h1v1h-1zM452.1 113.3h1v1h-1zM445.6 109.3h1v1h-1zM452.8 107.3h1v1h-1zM447.4 95.0h1v1h-1zM451.5 112.0h1v1h-1zM447.4 98.3h1v1h-1zM446.8 95.6h1v1h-1zM454.0 101.6h1v1h-1zM452.7 95.1h1v1h-1zM454.5 100.8h1v1h-1zM444.0 107.7h1v1h-1zM445.7 99.7h1v1h-1zM444.7 103.5h1v1h-1zM450.9 111.7h1v1h-1zM444.5 112.1h1v1h-1zM445.4 98.6h1v1h-1zM451.9 101.2h1v1h-1zM448.1 106.3h1v1h-1zM446.7 111.4h1v1h-1zM446.6 112.4h1v1h-1zM454.1 105.6h1v1h-1zM444.4 111.0h1v1h-1zM444.4 104.9h1v1h-1zM449.3 94.9h1v1h-1zM451.9 109.8h1v1h-1zM451.3 102.5h1v1h-1zM450.4 106.7h1v1h-1zM446.8 113.0h1v1h-1zM456.4 111.6h1v1h-1zM456.0 100.9h1v1h-1zM456.3 95.1h1v1h-1zM450.0 96.5h1v1h-1zM449.7 108.9h1v1h-1zM452.9 103.7h1v1h-1zM448.3 97.8h1v1h-1zM449.0 99.9h1v1h-1zM446.4 110.1h1v1h-1zM450.5 103.4h1v1h-1zM446.5 109.3h1v1h-1zM446.5 99.5h1v1h-1zM451.0 109.3h1v1h-1zM456.2 110.3h1v1h-1zM455.9 114.2h1v1h-1zM453.0 109.7h1v1h-1zM444.8 98.1h1v1h-1zM444.2 112.9h1v1h-1zM453.0 107.7h1v1h-1zM447.3 101.5h1v1h-1zM446.0 107.7h1v1h-1zM456.4 100.4h1v1h-1zM444.6 97.4h1v1h-1zM448.4 113.7h1v1h-1zM454.1 103.7h1v1h-1zM445.3 95.9h1v1h-1zM445.9 111.0h1v1h-1zM455.4 111.4h1v1h-1zM450.0 112.0h1v1h-1zM445.6 95.9h1v1h-1zM451.0 104.9h1v1h-1zM446.6 99.2h1v1h-1zM444.3 113.9h1v1h-1zM456.3 103.3h1v1h-1zM453.2 102.1h1v1h-1zM454.1 112.4h1v1h-1zM445.7 93.8h1v1h-1zM446.7 106.7h1v1h-1zM448.7 93.7h1v1h-1zM454.4 111.2h1v1h-1zM449.8 94.5h1v1h-1zM455.1 105.5h1v1h-1zM444.9 100.8h1v1h-1zM451.8 113.4h1v1h-1zM450.1 107.9h1v1h-1zM446.6 99.0h1v1h-1zM455.3 102.1h1v1h-1zM445.3 106.8h1v1h-1zM445.6 98.0h1v1h-1zM449.7 106.7h1v1h-1zM452.0 109.4h1v1h-1zM449.5 95.0h1v1h-1zM453.1 94.7h1v1h-1zM449.9 102.5h1v1h-1zM452.4 109.6h1v1h-1zM447.0 108.1h1v1h-1zM452.7 104.1h1v1h-1zM445.8 114.0h1v1h-1zM451.5 94.9h1v1h-1zM446.9 102.3h1v1h-1zM453.9 112.0h1v1h-1zM451.9 110.2h1v1h-1zM444.5 95.6h1v1h-1zM456.2 111.6h1v1h-1zM444.5 94.6h1v1h-1zM447.0 114.4h1v1h-1zM446.7 108.6h1v1h-1zM455.6 107.9h1v1h-1zM455.5 99.4h1v1h-1zM445.9 93.9h1v1h-1zM453.5 95.8h1v1h-1zM456.2 109.5h1v1h-1zM446.3 111.7h1v1h-1zM446.0 105.0h1v1h-1zM445.3 111.2h1v1h-1zM455.1 114.1h1v1h-1zM444.0 112.7h1v1h-1zM450.9 112.0h1v1h-1zM450.3 107.4h1v1h-1zM451.4 111.5h1v1h-1zM445.0 94.7h1v1h-1zM450.8 100.0h1v1h-1zM449.0 93.7h1v1h-1zM453.3 94.0h1v1h-1zM454.4 111.8h1v1h-1zM449.7 96.2h1v1h-1zM452.1 98.2h1v1h-1zM449.4 96.0h1v1h-1zM456.2 105.8h1v1h-1zM448.4 95.6h1v1h-1zM453.1 112.6h1v1h-1zM454.6 95.8h1v1h-1zM448.6 100.3h1v1h-1zM453.5 96.8h1v1h-1zM453.6 93.7h1v1h-1zM444.9 96.1h1v1h-1zM452.7 107.0h1v1h-1zM450.5 103.8h1v1h-1zM449.1 107.2h1v1h-1zM452.1 114.1h1v1h-1zM453.2 111.4h1v1h-1zM455.4 112.3h1v1h-1zM453.0 94.2h1v1h-1zM452.5 112.6h1v1h-1zM449.4 113.3h1v1h-1zM449.5 109.4h1v1h-1zM447.2 100.3h1v1h-1zM448.4 100.8h1v1h-1zM445.2 103.5h1v1h-1zM456.3 108.2h1v1h-1zM455.7 110.7h1v1h-1zM453.4 99.7h1v1h-1zM447.1 102.8h1v1h-1zM444.3 98.7h1v1h-1zM455.1 114.2h1v1h-1zM448.1 110.8h1v1h-1zM453.7 113.5h1v1h-1zM453.9 105.5h1v1h-1zM445.3 112.1h1v1h-1zM447.9 107.6h1v1h-1zM448.6 105.6h1v1h-1zM456.1 97.1h1v1h-1zM450.6 108.1h1v1h-1zM449.1 114.1h1v1h-1zM445.1 98.3h1v1h-1zM447.6 113.9h1v1h-1zM444.2 99.4h1v1h-1zM446.2 103.4h1v1h-1zM452.6 109.0h1v1h-1zM453.3 110.4h1v1h-1zM447.1 99.3h1v1h-1zM444.3 109.1h1v1h-1zM446.6 99.3h1v1h-1zM456.1 108.0h1v1h-1zM451.4 108.3h1v1h-1zM451.5 109.1h1v1h-1zM447.8 94.9h1v1h-1zM444.8 93.8h1v1h-1zM448.5 96.7h1v1h-1zM445.4 104.6h1v1h-1zM456.1 109.0h1v1h-1zM447.4 110.8h1v1h-1zM446.2 95.8h1v1h-1zM447.8 102.7h1v1h-1zM452.6 103.5h1v1h-1zM453.1 95.6h1v1h-1zM455.7 101.2h1v1h-1zM454.4 94.2h1v1h-1zM454.4 98.6h1v1h-1zM454.7 111.6h1v1h-1zM452.4 99.7h1v1h-1zM444.1 97.8h1v1h-1zM455.3 97.1h1v1h-1zM452.2 106.7h1v1h-1zM452.3 97.6h1v1h-1zM445.8 95.7h1v1h-1zM456.3 102.1h1v1h-1zM452.2 106.3h1v1h-1zM446.8 95.0h1v1h-1zM444.2 112.7h1v1h-1zM448.5 109.8h1v1h-1zM445.7 111.2h1v1h-1zM447.1 101.7h1v1h-1zM450.5 96.0h1v1h-1zM447.1 111.4h1v1h-1zM447.6 102.1h1v1h-1zM453.6 98.5h1v1h-1zM446.4 98.4h1v1h-1zM448.8 101.7h1v1h-1zM452.0 104.1h1v1h-1zM454.9 94.6h1v1h-1zM452.3 112.3h1v1h-1zM446.9 94.2h1v1h-1zM449.5 96.1h1v1h-1zM449.7 109.5h1v1h-1zM445.2 96.1h1v1h-1zM450.0 97.4h1v1h-1zM446.9 103.4h1v1h-1zM445.5 95.0h1v1h-1zM448.5 104.1h1v1h-1zM455.7 106.0h1v1h-1zM444.9 98.5h1v1h-1zM453.3 106.2h1v1h-1zM454.7 96.0h1v1h-1zM455.8 105.3h1v1h-1zM447.0 97.3h1v1h-1zM454.8 98.3h1v1h-1zM445.0 99.5h1v1h-1zM455.6 103.9h1v1h-1zM453.1 95.2h1v1h-1zM449.7 100.7h1v1h-1zM446.6 108.4h1v1h-1zM448.5 96.2h1v1h-1zM456.3 104.3h1v1h-1zM446.2 93.7h1v1h-1zM452.2 105.1h1v1h-1zM444.3 104.1h1v1h-1zM453.3 105.6h1v1h-1zM446.9 104.7h1v1h-1zM451.6 108.2h1v1h-1zM445.8 111.6h1v1h-1zM455.8 110.2h1v1h-1zM454.7 101.8h1v1h-1zM455.3 97.6h1v1h-1zM446.8 107.0h1v1h-1zM455.3 95.3h1v1h-1zM446.7 94.3h1v1h-1zM449.5 96.7h1v1h-1zM446.4 110.4h1v1h-1zM449.0 108.8h1v1h-1zM446.9 104.2h1v1h-1zM451.8 98.4h1v1h-1zM454.4 98.0h1v1h-1zM456.5 103.8h1v1h-1zM448.0 102.7h1v1h-1zM448.3 108.5h1v1h-1zM444.3 101.9h1v1h-1zM446.0 112.1h1v1h-1zM444.0 107.2h1v1h-1zM447.2 103.7h1v1h-1zM451.0 109.5h1v1h-1zM445.7 98.9h1v1h-1zM445.9 96.6h1v1h-1zM450.5 106.6h1v1h-1zM455.1 94.8h1v1h-1zM446.9 97.3h1v1h-1zM451.3 103.7h1v1h-1zM449.1 113.5h1v1h-1zM452.3 112.9h1v1h-1zM456.0 99.6h1v1h-1zM455.8 102.7h1v1h-1zM444.6 114.1h1v1h-1zM445.3 93.9h1v1h-1zM447.6 100.0h1v1h-1zM456.1 113.1h1v1h-1zM449.3 105.4h1v1h-1zM454.6 111.7h1v1h-1zM452.2 105.0h1v1h-1zM445.5 99.0h1v1h-1zM452.2 106.7h1v1h-1zM454.0 113.7h1v1h-1zM456.0 97.8h1v1h-1zM445.0 113.7h1v1h-1zM451.1 97.6h1v1h-1zM452.7 99.3h1v1h-1zM447.0 101.7h1v1h-1zM450.5 108.7h1v1h-1zM444.9 110.2h1v1h-1zM451.8 104.1h1v1h-1zM452.4 111.5h1v1h-1zM444.1 104.2h1v1h-1zM452.5 109.5h1v1h-1zM452.1 97.6h1v1h-1zM456.0 111.2h1v1h-1zM446.9 103.2h1v1h-1zM456.0 98.2h1v1h-1zM455.3 98.7h1v1h-1zM453.2 101.6h1v1h-1zM452.3 110.8h1v1h-1zM445.6 98.5h1v1h-1zM446.7 99.5h1v1h-1zM444.4 96.6h1v1h-1zM449.1 103.0h1v1h-1zM445.0 106.6h1v1h-1zM455.8 106.5h1v1h-1zM448.4 109.3h1v1h-1zM449.5 97.4h1v1h-1zM450.0 93.9h1v1h-1zM452.4 97.1h1v1h-1zM453.6 112.3h1v1h-1zM452.0 107.8h1v1h-1zM446.5 110.7h1v1h-1zM447.8 99.3h1v1h-1zM454.3 107.0h1v1h-1zM454.6 113.2h1v1h-1zM451.4 98.0h1v1h-1zM444.2 105.5h1v1h-1zM453.1 99.6h1v1h-1zM444.9 93.6h1v1h-1zM446.2 109.2h1v1h-1zM444.0 98.7h1v1h-1zM447.3 109.5h1v1h-1zM456.3 93.9h1v1h-1zM456.1 96.8h1v1h-1zM448.2 105.3h1v1h-1zM448.0 102.9h1v1h-1zM450.0 99.3h1v1h-1zM444.7 95.4h1v1h-1zM446.0 95.6h1v1h-1zM451.8 109.2h1v1h-1zM447.3 111.3h1v1h-1zM453.1 101.2h1v1h-1zM450.1 97.7h1v1h-1zM455.6 106.1h1v1h-1zM444.6 97.0h1v1h-1zM452.7 102.2h1v1h-1zM453.0 98.7h1v1h-1zM454.0 111.5h1v1h-1zM445.2 106.7h1v1h-1zM446.4 109.4h1v1h-1zM454.1 111.3h1v1h-1zM446.9 95.6h1v1h-1zM452.3 106.2h1v1h-1zM445.7 97.8h1v1h-1zM451.3 95.9h1v1h-1zM451.9 98.9h1v1h-1zM447.2 103.0h1v1h-1zM450.7 109.8h1v1h-1zM444.4 109.8h1v1h-1zM446.8 100.0h1v1h-1zM452.0 109.1h1v1h-1zM451.7 113.8h1v1h-1zM446.6 100.5h1v1h-1zM452.3 99.4h1v1h-1zM446.0 98.6h1v1h-1zM453.6 112.1h1v1h-1zM453.9 100.5h1v1h-1zM447.9 109.7h1v1h-1zM444.7 107.2h1v1h-1zM445.1 94.6h1v1h-1zM450.4 96.9h1v1h-1zM455.6 113.2h1v1h-1zM449.8 97.9h1v1h-1zM445.5 104.9h1v1h-1zM450.5 101.7h1v1h-1zM453.0 105.4h1v1h-1zM453.7 95.9h1v1h-1zM444.9 102.2h1v1h-1zM450.0 99.2h1v1h-1zM452.4 98.5h1v1h-1zM448.0 104.2h1v1h-1zM452.9 110.8h1v1h-1zM448.6 103.6h1v1h-1zM451.7 95.9h1v1h-1zM449.7 107.8h1v1h-1zM447.5 94.3h1v1h-1zM456.3 114.0h1v1h-1zM445.6 104.0h1v1h-1zM451.7 100.2h1v1h-1zM444.9 110.4h1v1h-1zM453.6 103.3h1v1h-1zM445.1 102.4h1v1h-1zM444.6 100.0h1v1h-1zM453.6 96.5h1v1h-1zM445.3 95.1h1v1h-1zM446.0 105.5h1v1h-1zM454.4 97.3h1v1h-1zM446.2 110.7h1v1h-1zM449.3 101.1h1v1h-1zM445.5 99.0h1v1h-1zM456.1 96.1h1v1h-1zM447.2 110.2h1v1h-1zM455.1 113.8h1v1h-1zM451.6 100.0h1v1h-1zM449.8 109.6h1v1h-1zM453.2 96.4h1v1h-1zM445.3 111.8h1v1h-1zM448.2 99.1h1v1h-1zM447.2 104.1h1v1h-1zM456.4 96.8h1v1h-1zM454.7 100.7h1v1h-1zM446.2 110.3h1v1h-1zM448.3 97.7h1v1h-1zM449.2 112.0h1v1h-1zM454.8 106.4h1v1h-1zM444.1 110.7h1v1h-1zM451.6 113.7h1v1h-1zM455.9 100.9h1v1h-1zM454.6 111.9h1v1h-1zM447.3 101.7h1v1h-1zM448.7 101.4h1v1h-1zM448.7 96.0h1v1h-1zM446.8 114.0h1v1h-1zM449.1 107.8h1v1h-1zM455.1 110.5h1v1h-1zM447.1 114.2h1v1h-1zM453.1 110.5h1v1h-1zM454.2 99.2h1v1h-1zM452.2 102.1h1v1h-1zM454.5 96.5h1v1h-1zM450.7 101.1h1v1h-1zM454.3 101.3h1v1h-1zM454.5 112.6h1v1h-1zM455.0 96.6h1v1h-1zM455.7 110.2h1v1h-1zM452.5 108.2h1v1h-1zM444.6 113.1h1v1h-1zM450.8 103.8h1v1h-1zM448.2 111.1h1v1h-1zM453.8 113.1h1v1h-1zM446.7 101.2h1v1h-1zM447.1 95.8h1v1h-1zM448.1 94.1h1v1h-1zM454.0 98.6h1v1h-1zM444.9 95.0h1v1h-1zM453.3 98.0h1v1h-1zM449.8 102.5h1v1h-1zM447.9 107.7h1v1h-1zM455.2 104.1h1v1h-1zM455.2 110.0h1v1h-1zM447.9 113.2h1v1h-1zM451.2 95.9h1v1h-1zM451.3 112.2h1v1h-1zM450.5 104.4h1v1h-1zM449.2 113.3h1v1h-1zM452.3 98.2h1v1h-1zM448.5 101.7h1v1h-1zM456.0 109.2h1v1h-1zM445.6 114.1h1v1h-1zM444.4 106.8h1v1h-1zM449.4 109.6h1v1h-1zM449.4 95.6h1v1h-1zM450.5 112.0h1v1h-1zM453.9 101.5h1v1h-1zM446.8 110.3h1v1h-1zM454.0 98.4h1v1h-1zM449.4 102.1h1v1h-1zM452.9 114.4h1v1h-1zM446.5 100.3h1v1h-1zM448.1 110.0h1v1h-1zM446.3 105.8h1v1h-1zM450.3 108.5h1v1h-1zM456.5 106.1h1v1h-1zM453.9 97.6h1v1h-1zM455.4 105.9h1v1h-1zM453.5 113.0h1v1h-1zM448.5 114.3h1v1h-1zM446.6 94.0h1v1h-1zM450.3 113.7h1v1h-1zM450.4 114.5h1v1h-1zM451.0 96.7h1v1h-1zM451.9 111.6h1v1h-1zM449.3 107.0h1v1h-1zM447.2 99.7h1v1h-1zM449.3 105.0h1v1h-1zM449.9 95.6h1v1h-1zM444.1 101.2h1v1h-1zM453.0 110.3h1v1h-1zM447.0 99.3h1v1h-1zM450.5 97.4h1v1h-1zM451.5 113.8h1v1h-1zM446.5 106.7h1v1h-1zM453.0 110.4h1v1h-1zM452.9 109.5h1v1h-1zM447.4 112.4h1v1h-1zM455.6 94.7h1v1h-1zM455.8 103.5h1v1h-1zM445.1 95.1h1v1h-1zM454.0 108.7h1v1h-1zM445.8 103.8h1v1h-1zM448.2 110.7h1v1h-1zM447.1 98.0h1v1h-1zM446.0 102.7h1v1h-1zM451.7 100.3h1v1h-1zM446.0 98.4h1v1h-1zM445.1 97.8h1v1h-1zM447.9 104.9h1v1h-1zM446.3 104.3h1v1h-1zM449.9 98.0h1v1h-1zM451.4 96.8h1v1h-1zM446.1 95.1h1v1h-1zM449.0 101.5h1v1h-1zM449.3 101.4h1v1h-1zM452.6 102.3h1v1h-1zM445.9 112.9h1v1h-1zM451.2 93.6h1v1h-1zM454.6 109.9h1v1h-1zM448.4 107.7h1v1h-1zM455.5 102.5h1v1h-1zM449.4 100.2h1v1h-1zM450.9 108.4h1v1h-1zM445.8 101.7h1v1h-1zM454.6 111.3h1v1h-1zM451.4 108.7h1v1h-1zM450.9 102.6h1v1h-1zM446.3 96.1h1v1h-1zM455.2 111.5h1v1h-1zM444.3 100.8h1v1h-1zM450.0 104.7h1v1h-1zM448.5 113.6h1v1h-1zM448.4 105.5h1v1h-1zM455.6 107.9h1v1h-1zM450.0 101.0h1v1h-1zM448.8 107.2h1v1h-1zM453.8 99.4h1v1h-1zM448.6 102.2h1v1h-1zM448.5 114.0h1v1h-1zM450.7 99.7h1v1h-1zM448.2 112.0h1v1h-1zM446.0 109.0h1v1h-1zM444.3 97.8h1v1h-1zM444.7 111.6h1v1h-1zM445.8 98.6h1v1h-1zM444.7 99.4h1v1h-1zM453.2 109.7h1v1h-1zM450.9 114.2h1v1h-1zM445.1 114.3h1v1h-1zM449.4 97.8h1v1h-1zM453.4 112.8h1v1h-1zM448.8 95.6h1v1h-1zM454.9 110.5h1v1h-1zM444.5 94.8h1v1h-1zM445.6 94.0h1v1h-1zM452.9 107.7h1v1h-1zM445.4 97.1h1v1h-1zM446.3 107.2h1v1h-1zM449.4 102.3h1v1h-1zM447.2 98.7h1v1h-1zM452.8 97.4h1v1h-1zM446.2 96.9h1v1h-1zM448.4 110.1h1v1h-1zM444.7 105.4h1v1h-1zM452.5 94.3h1v1h-1zM449.5 111.3h1v1h-1zM451.2 103.7h1v1h-1zM455.0 107.0h1v1h-1zM448.2 102.4h1v1h-1zM455.8 112.8h1v1h-1zM455.4 106.1h1v1h-1zM445.8 97.4h1v1h-1zM448.8 109.0h1v1h-1zM444.1 111.5h1v1h-1zM453.8 105.1h1v1h-1zM444.1 111.5h1v1h-1zM449.2 108.6h1v1h-1zM451.1 109.9h1v1h-1zM455.9 114.4h1v1h-1zM451.7 100.6h1v1h-1zM448.7 99.6h1v1h-1zM455.3 111.3h1v1h-1zM453.9 112.0h1v1h-1zM456.4 109.0h1v1h-1zM448.0 110.5h1v1h-1zM447.3 107.2h1v1h-1zM446.0 112.8h1v1h-1zM450.1 99.7h1v1h-1zM455.5 95.4h1v1h-1zM455.6 110.5h1v1h-1zM445.9 110.6h1v1h-1zM451.2 113.9h1v1h-1zM451.3 103.1h1v1h-1zM455.7 95.5h1v1h-1zM453.7 95.8h1v1h-1zM447.5 96.1h1v1h-1zM454.9 103.4h1v1h-1zM453.1 99.3h1v1h-1zM453.1 108.1h1v1h-1zM445.2 104.6h1v1h-1zM453.0 98.3h1v1h-1zM452.2 99.8h1v1h-1zM448.6 114.2h1v1h-1zM449.3 106.4h1v1h-1zM454.1 110.6h1v1h-1zM449.7 112.9h1v1h-1zM449.9 96.2h1v1h-1zM453.4 96.8h1v1h-1zM452.5 94.7h1v1h-1zM456.4 105.7h1v1h-1zM453.3 96.5h1v1h-1zM452.0 102.0h1v1h-1zM447.1 111.8h1v1h-1zM444.4 104.3h1v1h-1zM445.1 112.7h1v1h-1zM455.2 94.3h1v1h-1zM449.8 104.1h1v1h-1zM453.0 109.9h1v1h-1zM448.3 114.5h1v1h-1zM446.3 96.6h1v1h-1zM454.2 96.2h1v1h-1zM446.3 104.8h1v1h-1zM448.2 97.2h1v1h-1zM455.6 104.2h1v1h-1zM453.8 99.1h1v1h-1zM455.4 98.5h1v1h-1zM455.3 107.3h1v1h-1zM456.1 110.9h1v1h-1zM451.9 105.5h1v1h-1zM454.7 103.5h1v1h-1zM445.2 114.1h1v1h-1zM454.1 108.8h1v1h-1zM453.3 98.7h1v1h-1zM449.8 112.0h1v1h-1zM456.0 114.3h1v1h-1zM446.0 108.9h1v1h-1zM450.9 102.6h1v1h-1zM446.1 96.6h1v1h-1zM449.9 104.6h1v1h-1zM447.3 101.8h1v1h-1zM450.9 110.6h1v1h-1zM451.4 97.1h1v1h-1zM455.1 101.8h1v1h-1zM445.8 106.6h1v1h-1zM456.1 102.2h1v1h-1zM450.8 100.6h1v1h-1zM444.4 98.1h1v1h-1zM445.5 99.9h1v1h-1zM451.9 106.2h1v1h-1zM455.9 108.9h1v1h-1zM451.9 105.7h1v1h-1zM454.8 108.6h1v1h-1zM448.5 107.1h1v1h-1zM444.8 93.7h1v1h-1zM450.9 98.1h1v1h-1zM450.3 96.2h1v1h-1zM454.5 108.6h1v1h-1zM452.6 114.4h1v1h-1zM456.4 108.8h1v1h-1zM452.9 93.5h1v1h-1zM444.6 103.1h1v1h-1zM456.1 100.5h1v1h-1zM451.1 93.7h1v1h-1zM449.2 113.8h1v1h-1zM451.4 112.0h1v1h-1zM444.2 98.1h1v1h-1zM446.2 112.2h1v1h-1zM445.3 114.5h1v1h-1zM447.3 113.3h1v1h-1zM450.4 100.8h1v1h-1zM456.1 102.6h1v1h-1zM452.7 95.0h1v1h-1zM445.4 110.3h1v1h-1zM447.4 96.8h1v1h-1zM448.6 108.4h1v1h-1zM456.4 107.5h1v1h-1zM452.2 97.1h1v1h-1zM453.1 105.9h1v1h-1zM448.5 113.8h1v1h-1zM447.2 96.7h1v1h-1zM446.0 96.9h1v1h-1zM451.4 111.5h1v1h-1zM446.0 104.8h1v1h-1zM451.2 106.1h1v1h-1zM449.2 105.7h1v1h-1zM444.2 94.8h1v1h-1zM449.3 98.8h1v1h-1zM453.5 98.9h1v1h-1zM454.3 98.9h1v1h-1zM445.2 104.2h1v1h-1zM448.8 101.0h1v1h-1zM453.6 98.5h1v1h-1zM452.4 112.3h1v1h-1zM449.7 104.8h1v1h-1zM455.5 107.1h1v1h-1zM446.3 95.1h1v1h-1zM445.0 101.0h1v1h-1zM445.1 108.1h1v1h-1zM449.3 100.4h1v1h-1zM447.1 97.0h1v1h-1zM447.8 100.8h1v1h-1zM455.4 109.4h1v1h-1zM449.4 97.2h1v1h-1zM444.6 96.3h1v1h-1zM454.6 108.1h1v1h-1zM446.0 107.6h1v1h-1zM444.7 104.9h1v1h-1zM448.2 95.8h1v1h-1zM453.3 109.6h1v1h-1zM450.4 97.3h1v1h-1zM452.4 103.2h1v1h-1zM452.3 95.6h1v1h-1zM455.3 93.6h1v1h-1zM446.8 102.5h1v1h-1zM446.5 95.5h1v1h-1zM448.2 99.5h1v1h-1zM452.4 98.5h1v1h-1zM449.0 109.0h1v1h-1zM449.4 97.0h1v1h-1zM444.9 105.7h1v1h-1zM456.4 114.2h1v1h-1zM445.2 104.8h1v1h-1zM450.1 97.9h1v1h-1zM452.4 104.7h1v1h-1zM453.6 85.2h1v1h-1zM447.0 85.1h1v1h-1zM461.3 90.3h1v1h-1zM453.6 92.8h1v1h-1zM454.5 87.7h1v1h-1zM447.9 74.8h1v1h-1zM443.8 93.3h1v1h-1zM448.1 92.9h1v1h-1zM441.2 91.6h1v1h-1zM456.2 87.1h1v1h-1zM452.2 91.4h1v1h-1zM448.4 87.3h1v1h-1zM445.5 91.9h1v1h-1zM455.3 93.5h1v1h-1zM449.3 93.0h1v1h-1zM448.5 88.4h1v1h-1zM440.1 92.7h1v1h-1zM455.5 92.9h1v1h-1zM444.3 91.1h1v1h-1zM449.8 93.3h1v1h-1zM449.6 91.3h1v1h-1zM461.8 91.6h1v1h-1zM438.1 81.5h1v1h-1zM452.2 89.1h1v1h-1zM440.2 76.1h1v1h-1zM442.5 89.3h1v1h-1zM440.4 92.4h1v1h-1zM444.3 91.4h1v1h-1zM449.3 91.2h1v1h-1zM443.4 92.2h1v1h-1zM449.6 91.9h1v1h-1zM444.1 90.8h1v1h-1zM449.9 88.0h1v1h-1zM452.4 91.9h1v1h-1zM455.7 86.2h1v1h-1zM447.5 89.9h1v1h-1zM441.7 92.1h1v1h-1zM455.3 91.1h1v1h-1zM447.3 91.8h1v1h-1zM443.6 85.0h1v1h-1zM454.5 90.2h1v1h-1zM449.6 90.5h1v1h-1zM446.6 91.3h1v1h-1zM448.4 86.5h1v1h-1zM454.4 86.9h1v1h-1zM451.0 85.8h1v1h-1zM453.5 88.2h1v1h-1zM446.8 87.6h1v1h-1zM443.6 91.9h1v1h-1zM454.4 93.3h1v1h-1zM451.8 77.2h1v1h-1zM442.6 76.5h1v1h-1zM448.8 85.3h1v1h-1zM450.6 92.9h1v1h-1zM454.5 85.6h1v1h-1zM449.5 91.2h1v1h-1zM444.2 91.9h1v1h-1zM442.1 82.2h1v1h-1zM450.6 84.1h1v1h-1zM453.6 90.8h1v1h-1zM446.0 91.6h1v1h-1zM453.1 92.6h1v1h-1zM449.5 91.9h1v1h-1zM458.6 91.5h1v1h-1zM445.4 84.0h1v1h-1zM454.1 92.4h1v1h-1zM446.7 86.1h1v1h-1zM448.2 81.8h1v1h-1zM451.8 90.6h1v1h-1zM444.6 92.0h1v1h-1zM454.0 93.4h1v1h-1zM446.2 93.4h1v1h-1zM453.1 91.2h1v1h-1zM450.3 87.8h1v1h-1zM445.5 88.6h1v1h-1zM450.4 87.9h1v1h-1zM450.9 88.8h1v1h-1zM449.1 83.8h1v1h-1zM453.2 81.5h1v1h-1zM450.7 89.2h1v1h-1zM456.6 91.6h1v1h-1zM454.3 88.3h1v1h-1zM451.0 88.9h1v1h-1zM447.5 92.3h1v1h-1zM449.8 91.6h1v1h-1zM445.9 81.9h1v1h-1zM452.4 92.9h1v1h-1zM453.7 83.8h1v1h-1zM449.7 92.1h1v1h-1zM445.8 93.3h1v1h-1zM447.5 85.5h1v1h-1zM451.5 86.0h1v1h-1zM446.3 90.2h1v1h-1zM451.7 91.1h1v1h-1zM449.9 92.2h1v1h-1zM443.9 84.3h1v1h-1zM443.9 89.5h1v1h-1zM443.2 92.9h1v1h-1zM455.8 92.0h1v1h-1zM450.1 68.7h1v1h-1zM444.6 93.0h1v1h-1zM446.6 93.5h1v1h-1zM450.8 93.0h1v1h-1zM454.0 90.7h1v1h-1zM452.6 90.0h1v1h-1zM448.1 89.9h1v1h-1zM457.5 73.5h1v1h-1zM452.9 90.1h1v1h-1zM455.2 91.2h1v1h-1zM452.2 83.0h1v1h-1zM447.4 91.3h1v1h-1zM446.5 89.4h1v1h-1zM455.9 91.8h1v1h-1zM460.7 91.2h1v1h-1zM456.3 92.9h1v1h-1zM446.6 91.5h1v1h-1zM444.9 91.5h1v1h-1zM452.6 90.8h1v1h-1zM446.2 77.8h1v1h-1zM446.7 92.6h1v1h-1zM453.9 88.1h1v1h-1zM447.2 90.9h1v1h-1zM445.3 92.2h1v1h-1zM451.4 84.6h1v1h-1zM444.6 91.2h1v1h-1zM449.9 92.3h1v1h-1zM448.8 77.3h1v1h-1zM446.9 90.1h1v1h-1zM443.2 90.3h1v1h-1zM451.0 88.3h1v1h-1zM422.0 108.3h1v1h-1zM427.8 108.8h1v1h-1zM420.8 111.6h1v1h-1zM419.5 109.6h1v1h-1zM426.7 112.9h1v1h-1zM433.4 110.3h1v1h-1zM427.9 110.3h1v1h-1zM440.7 111.5h1v1h-1zM431.8 113.4h1v1h-1zM435.3 109.0h1v1h-1zM418.4 107.7h1v1h-1zM436.0 113.8h1v1h-1zM427.8 111.9h1v1h-1zM419.1 108.6h1v1h-1zM432.6 107.9h1v1h-1zM428.5 106.6h1v1h-1zM433.5 107.2h1v1h-1zM441.9 113.7h1v1h-1zM427.5 110.5h1v1h-1zM420.2 110.3h1v1h-1zM441.9 113.8h1v1h-1zM418.7 113.9h1v1h-1zM418.8 108.8h1v1h-1zM432.7 108.0h1v1h-1zM438.9 113.5h1v1h-1zM424.2 111.1h1v1h-1zM438.6 110.4h1v1h-1zM418.8 110.9h1v1h-1zM437.3 114.5h1v1h-1zM426.3 110.4h1v1h-1zM424.2 109.0h1v1h-1zM437.6 108.0h1v1h-1zM423.6 114.2h1v1h-1zM425.4 108.4h1v1h-1zM436.3 107.3h1v1h-1zM434.0 107.9h1v1h-1zM422.5 111.2h1v1h-1zM418.8 106.0h1v1h-1zM430.0 109.7h1v1h-1zM420.6 113.7h1v1h-1zM422.8 106.0h1v1h-1zM442.4 106.7h1v1h-1zM425.3 114.2h1v1h-1zM430.5 113.0h1v1h-1zM440.8 114.0h1v1h-1zM430.9 108.8h1v1h-1zM421.0 112.0h1v1h-1zM439.7 114.2h1v1h-1zM430.4 112.8h1v1h-1zM425.3 114.2h1v1h-1zM422.8 106.1h1v1h-1zM424.7 112.9h1v1h-1zM440.3 113.4h1v1h-1zM425.9 114.1h1v1h-1zM440.8 110.4h1v1h-1zM424.9 109.4h1v1h-1zM430.3 110.4h1v1h-1zM436.7 109.3h1v1h-1zM441.2 108.0h1v1h-1zM419.7 111.2h1v1h-1zM417.5 114.5h1v1h-1zM419.9 108.2h1v1h-1zM427.3 107.8h1v1h-1zM435.7 111.7h1v1h-1zM425.3 106.9h1v1h-1zM426.0 108.9h1v1h-1zM435.5 107.4h1v1h-1zM428.1 114.5h1v1h-1zM422.9 109.8h1v1h-1zM441.1 109.9h1v1h-1zM432.8 108.4h1v1h-1zM424.3 113.8h1v1h-1zM423.1 107.7h1v1h-1zM426.7 106.6h1v1h-1zM423.3 112.6h1v1h-1zM425.1 110.0h1v1h-1zM421.7 109.1h1v1h-1zM423.6 109.0h1v1h-1zM423.0 111.4h1v1h-1z" fill="#ee1c4c"/>
<path d="M458.4 83.9h1v1h-1zM456.4 86.0h1v1h-1zM455.3 86.0h1v1h-1zM452.3 85.4h1v1h-1zM453.4 87.1h1v1h-1zM451.6 80.4h1v1h-1zM444.9 88.0h1v1h-1zM457.8 79.7h1v1h-1zM455.5 74.0h1v1h-1zM454.0 85.9h1v1h-1zM450.6 73.4h1v1h-1zM453.9 75.6h1v1h-1zM448.9 84.6h1v1h-1zM488.5 60.5h1v1h-1zM456.8 86.2h1v1h-1zM455.3 87.4h1v1h-1zM478.3 47.4h1v1h-1zM459.9 83.3h1v1h-1zM467.3 81.7h1v1h-1zM465.9 77.4h1v1h-1zM443.2 72.0h1v1h-1zM450.5 73.4h1v1h-1zM458.2 79.8h1v1h-1zM468.8 80.9h1v1h-1zM472.7 77.9h1v1h-1zM443.3 88.2h1v1h-1zM443.9 91.0h1v1h-1zM455.7 86.4h1v1h-1zM445.3 88.1h1v1h-1zM447.2 67.8h1v1h-1zM473.7 62.9h1v1h-1zM502.6 65.9h1v1h-1zM463.7 81.8h1v1h-1zM476.9 65.1h1v1h-1zM460.1 83.7h1v1h-1zM444.2 68.2h1v1h-1zM453.4 79.8h1v1h-1zM468.7 81.6h1v1h-1zM458.6 80.9h1v1h-1zM463.0 79.5h1v1h-1zM445.8 62.8h1v1h-1zM447.3 78.2h1v1h-1zM466.1 81.3h1v1h-1zM458.4 82.1h1v1h-1zM446.3 88.6h1v1h-1zM483.0 73.9h1v1h-1zM452.3 82.5h1v1h-1zM443.4 79.3h1v1h-1zM460.8 67.0h1v1h-1zM448.7 87.9h1v1h-1zM448.5 78.2h1v1h-1zM456.9 82.4h1v1h-1zM452.7 87.1h1v1h-1zM475.6 74.8h1v1h-1zM452.2 74.9h1v1h-1zM445.9 79.5h1v1h-1zM448.7 75.0h1v1h-1zM444.3 88.6h1v1h-1zM456.1 81.5h1v1h-1zM449.1 82.1h1v1h-1zM446.2 85.7h1v1h-1zM443.0 77.6h1v1h-1zM446.8 74.7h1v1h-1zM453.4 80.1h1v1h-1zM455.8 86.3h1v1h-1zM462.5 82.1h1v1h-1zM468.8 69.1h1v1h-1zM457.7 71.6h1v1h-1zM450.5 79.3h1v1h-1zM482.7 76.2h1v1h-1zM444.4 86.7h1v1h-1zM452.3 87.3h1v1h-1zM446.2 72.7h1v1h-1zM449.4 88.3h1v1h-1zM445.6 83.3h1v1h-1zM445.7 85.2h1v1h-1zM453.0 83.3h1v1h-1zM452.1 72.5h1v1h-1zM443.2 68.0h1v1h-1zM445.9 90.6h1v1h-1zM462.0 77.8h1v1h-1zM453.0 86.3h1v1h-1zM462.7 81.8h1v1h-1zM459.9 83.8h1v1h-1zM454.1 78.7h1v1h-1zM449.0 84.0h1v1h-1zM443.9 82.4h1v1h-1zM458.3 85.2h1v1h-1zM453.4 76.5h1v1h-1zM444.4 75.1h1v1h-1zM469.6 82.2h1v1h-1zM446.7 89.9h1v1h-1zM446.8 89.9h1v1h-1zM451.7 86.3h1v1h-1zM447.6 84.8h1v1h-1zM426.0 104.3h1v1h-1zM437.1 111.4h1v1h-1zM421.6 107.6h1v1h-1zM427.1 83.3h1v1h-1zM426.6 108.3h1v1h-1zM429.8 113.0h1v1h-1zM427.0 78.6h1v1h-1zM433.8 100.1h1v1h-1zM431.1 103.1h1v1h-1zM422.6 90.6h1v1h-1zM439.3 109.7h1v1h-1zM439.8 99.2h1v1h-1zM438.8 96.3h1v1h-1zM428.7 95.7h1v1h-1zM435.2 104.5h1v1h-1zM435.7 103.6h1v1h-1zM433.8 107.9h1v1h-1zM416.6 88.5h1v1h-1zM432.1 99.4h1v1h-1zM424.3 108.1h1v1h-1zM430.7 101.6h1v1h-1zM417.8 112.5h1v1h-1zM416.7 106.7h1v1h-1zM429.5 97.1h1v1h-1zM424.1 107.2h1v1h-1zM426.3 110.8h1v1h-1zM442.2 102.8h1v1h-1zM423.5 106.1h1v1h-1zM419.0 98.6h1v1h-1zM439.6 94.9h1v1h-1zM427.5 100.0h1v1h-1zM422.4 76.5h1v1h-1zM431.1 99.9h1v1h-1zM418.9 114.2h1v1h-1zM419.4 96.7h1v1h-1zM421.3 104.5h1v1h-1zM438.2 105.2h1v1h-1zM418.6 77.8h1v1h-1zM432.1 96.7h1v1h-1zM418.7 109.0h1v1h-1zM431.9 87.7h1v1h-1zM435.5 104.0h1v1h-1zM423.6 92.9h1v1h-1zM423.4 101.5h1v1h-1zM418.3 107.4h1v1h-1zM429.7 93.8h1v1h-1zM426.1 84.1h1v1h-1zM442.7 107.6h1v1h-1zM422.9 98.3h1v1h-1zM421.5 105.2h1v1h-1zM442.9 90.7h1v1h-1zM431.1 94.2h1v1h-1zM418.1 86.8h1v1h-1zM418.8 114.0h1v1h-1zM436.0 94.2h1v1h-1zM433.6 94.1h1v1h-1zM429.9 94.8h1v1h-1zM421.1 101.0h1v1h-1zM442.8 93.3h1v1h-1zM428.6 99.8h1v1h-1zM435.3 108.1h1v1h-1zM441.3 103.4h1v1h-1zM423.2 95.4h1v1h-1zM437.3 80.4h1v1h-1zM425.9 98.9h1v1h-1zM438.8 113.3h1v1h-1zM420.6 99.3h1v1h-1zM420.2 91.3h1v1h-1zM425.1 103.4h1v1h-1zM424.9 113.1h1v1h-1zM438.9 102.1h1v1h-1zM427.8 101.1h1v1h-1zM426.1 113.7h1v1h-1zM435.2 100.9h1v1h-1zM422.6 95.4h1v1h-1zM423.7 104.3h1v1h-1zM442.7 97.0h1v1h-1zM419.4 112.4h1v1h-1zM437.9 113.6h1v1h-1zM430.8 112.6h1v1h-1zM423.2 111.5h1v1h-1zM426.8 105.3h1v1h-1zM431.5 104.7h1v1h-1zM437.0 86.7h1v1h-1zM440.9 97.3h1v1h-1zM437.9 96.5h1v1h-1zM441.1 99.8h1v1h-1zM441.1 100.4h1v1h-1zM433.4 88.9h1v1h-1zM437.0 91.4h1v1h-1zM428.0 75.9h1v1h-1zM424.6 83.2h1v1h-1zM440.1 110.5h1v1h-1zM419.4 101.9h1v1h-1zM425.0 100.7h1v1h-1zM441.6 98.4h1v1h-1zM437.4 94.3h1v1h-1zM418.1 103.8h1v1h-1zM441.8 95.5h1v1h-1zM429.3 89.9h1v1h-1zM429.6 93.2h1v1h-1zM424.7 98.4h1v1h-1zM425.1 76.1h1v1h-1zM442.1 112.2h1v1h-1zM431.7 102.2h1v1h-1zM432.8 104.4h1v1h-1zM417.8 105.6h1v1h-1zM429.3 97.3h1v1h-1zM419.1 111.8h1v1h-1zM432.2 80.3h1v1h-1zM436.5 75.5h1v1h-1zM417.2 73.4h1v1h-1zM423.5 94.6h1v1h-1zM440.8 95.5h1v1h-1zM422.7 96.5h1v1h-1zM431.6 78.3h1v1h-1zM436.6 103.9h1v1h-1zM432.6 104.4h1v1h-1zM441.1 103.7h1v1h-1zM431.3 94.2h1v1h-1zM442.8 93.9h1v1h-1zM416.8 102.6h1v1h-1zM435.6 91.4h1v1h-1zM432.8 109.7h1v1h-1zM430.4 87.9h1v1h-1zM441.6 112.1h1v1h-1zM439.7 98.5h1v1h-1zM437.6 87.6h1v1h-1zM432.4 111.4h1v1h-1zM424.8 85.1h1v1h-1zM437.0 73.5h1v1h-1zM441.7 90.2h1v1h-1zM437.7 91.9h1v1h-1zM436.9 104.4h1v1h-1zM441.3 93.2h1v1h-1zM429.3 100.2h1v1h-1zM420.4 114.1h1v1h-1zM430.8 105.1h1v1h-1zM441.1 99.1h1v1h-1zM420.2 99.6h1v1h-1zM429.7 90.9h1v1h-1zM438.2 92.9h1v1h-1zM421.9 87.0h1v1h-1zM422.2 82.1h1v1h-1zM418.6 90.9h1v1h-1zM436.7 88.3h1v1h-1zM442.6 111.9h1v1h-1zM424.9 88.0h1v1h-1zM424.5 93.3h1v1h-1zM434.5 77.1h1v1h-1zM431.3 100.4h1v1h-1zM423.4 80.4h1v1h-1zM440.0 91.0h1v1h-1zM437.0 85.1h1v1h-1zM436.8 99.0h1v1h-1zM420.3 80.0h1v1h-1zM433.9 103.0h1v1h-1zM427.0 108.5h1v1h-1zM435.3 114.4h1v1h-1zM419.4 110.7h1v1h-1zM426.4 91.9h1v1h-1zM421.8 111.7h1v1h-1zM424.8 100.3h1v1h-1zM429.0 107.9h1v1h-1zM426.3 76.9h1v1h-1zM428.1 74.3h1v1h-1zM431.3 93.6h1v1h-1zM429.6 104.3h1v1h-1zM429.0 104.4h1v1h-1zM440.1 87.7h1v1h-1zM426.2 90.2h1v1h-1zM436.0 95.7h1v1h-1zM440.9 96.1h1v1h-1zM423.8 106.8h1v1h-1zM428.0 101.5h1v1h-1zM440.5 72.8h1v1h-1zM428.9 107.2h1v1h-1zM440.9 105.3h1v1h-1zM439.6 113.6h1v1h-1zM438.9 70.8h1v1h-1zM438.1 84.2h1v1h-1zM421.8 89.6h1v1h-1zM436.3 89.3h1v1h-1zM421.3 95.8h1v1h-1zM435.7 111.9h1v1h-1zM426.1 76.6h1v1h-1zM427.2 86.7h1v1h-1zM441.5 78.7h1v1h-1zM433.1 96.6h1v1h-1zM428.1 108.9h1v1h-1zM425.5 95.5h1v1h-1zM430.7 91.2h1v1h-1zM431.2 94.6h1v1h-1zM440.0 109.6h1v1h-1zM430.4 81.3h1v1h-1zM434.6 108.9h1v1h-1zM433.7 100.7h1v1h-1zM432.9 110.1h1v1h-1zM420.9 94.6h1v1h-1zM425.4 107.2h1v1h-1zM437.8 95.9h1v1h-1zM426.6 92.0h1v1h-1zM431.2 99.5h1v1h-1zM434.1 96.3h1v1h-1zM433.2 86.0h1v1h-1zM422.2 101.4h1v1h-1zM438.8 105.4h1v1h-1zM439.5 94.4h1v1h-1zM435.4 114.2h1v1h-1zM424.1 111.4h1v1h-1zM435.5 102.2h1v1h-1zM431.5 96.1h1v1h-1zM438.0 88.6h1v1h-1zM442.6 96.6h1v1h-1zM426.5 91.3h1v1h-1zM424.5 111.3h1v1h-1zM436.4 106.9h1v1h-1zM429.2 82.2h1v1h-1zM421.9 82.6h1v1h-1zM433.2 114.3h1v1h-1zM428.0 86.4h1v1h-1zM432.1 86.4h1v1h-1zM418.6 102.8h1v1h-1zM431.6 97.2h1v1h-1zM420.7 89.7h1v1h-1zM439.9 100.2h1v1h-1zM441.6 85.2h1v1h-1zM424.3 112.5h1v1h-1zM419.2 102.3h1v1h-1zM428.0 109.5h1v1h-1zM424.2 102.3h1v1h-1zM435.5 82.0h1v1h-1zM419.6 91.2h1v1h-1zM418.7 95.4h1v1h-1zM441.0 98.0h1v1h-1zM422.4 112.0h1v1h-1zM438.5 112.6h1v1h-1zM434.0 102.1h1v1h-1zM421.2 97.0h1v1h-1zM442.5 101.3h1v1h-1zM421.1 101.0h1v1h-1zM418.6 99.7h1v1h-1zM432.8 84.3h1v1h-1zM441.9 105.4h1v1h-1zM425.3 98.8h1v1h-1zM421.4 74.8h1v1h-1zM441.4 107.2h1v1h-1zM436.9 87.2h1v1h-1zM436.2 89.9h1v1h-1zM418.8 108.6h1v1h-1zM435.5 110.6h1v1h-1zM427.1 103.5h1v1h-1zM436.3 88.3h1v1h-1zM426.4 71.2h1v1h-1zM437.7 103.5h1v1h-1zM424.1 80.0h1v1h-1zM416.7 109.5h1v1h-1zM434.3 107.9h1v1h-1zM435.0 72.5h1v1h-1zM435.6 99.5h1v1h-1zM427.8 113.2h1v1h-1zM438.0 113.8h1v1h-1zM421.7 83.2h1v1h-1zM419.5 102.5h1v1h-1zM427.2 93.2h1v1h-1zM435.8 79.2h1v1h-1zM417.1 105.0h1v1h-1zM429.8 94.0h1v1h-1zM427.3 112.6h1v1h-1zM423.2 105.9h1v1h-1zM431.4 114.5h1v1h-1zM440.0 93.9h1v1h-1zM442.7 92.1h1v1h-1zM416.9 100.7h1v1h-1zM439.7 95.8h1v1h-1zM434.8 105.0h1v1h-1zM421.6 82.6h1v1h-1zM436.9 90.7h1v1h-1zM442.4 99.7h1v1h-1zM419.2 83.7h1v1h-1zM436.1 113.6h1v1h-1zM437.0 106.8h1v1h-1zM440.9 90.4h1v1h-1zM433.7 113.4h1v1h-1zM436.4 96.2h1v1h-1zM431.5 103.6h1v1h-1zM427.4 101.5h1v1h-1zM427.7 100.7h1v1h-1zM426.6 98.4h1v1h-1zM422.5 100.0h1v1h-1zM423.7 82.8h1v1h-1zM428.6 82.3h1v1h-1zM438.6 112.9h1v1h-1zM428.7 104.6h1v1h-1zM426.5 82.2h1v1h-1zM439.2 112.3h1v1h-1zM419.1 80.4h1v1h-1zM428.4 91.5h1v1h-1zM419.9 83.7h1v1h-1zM417.9 85.9h1v1h-1zM437.8 104.0h1v1h-1zM440.1 104.5h1v1h-1zM441.2 96.5h1v1h-1zM427.4 109.2h1v1h-1zM431.5 105.9h1v1h-1zM420.9 106.3h1v1h-1zM435.4 96.8h1v1h-1zM441.7 92.7h1v1h-1zM424.8 73.9h1v1h-1zM425.2 110.0h1v1h-1zM431.1 105.9h1v1h-1zM429.9 84.4h1v1h-1zM422.9 86.9h1v1h-1zM437.1 102.2h1v1h-1zM420.5 75.5h1v1h-1zM421.2 99.6h1v1h-1zM436.5 105.8h1v1h-1zM426.7 97.3h1v1h-1zM436.9 103.1h1v1h-1zM440.9 98.7h1v1h-1zM422.8 104.0h1v1h-1zM434.4 91.8h1v1h-1zM425.7 88.5h1v1h-1zM434.9 84.8h1v1h-1zM421.6 92.3h1v1h-1zM435.2 93.2h1v1h-1zM430.9 112.9h1v1h-1zM425.4 102.6h1v1h-1zM439.9 107.1h1v1h-1zM433.7 81.9h1v1h-1zM459.5 111.7h1v1h-1zM460.0 102.3h1v1h-1zM462.1 100.2h1v1h-1zM457.7 112.3h1v1h-1zM457.0 107.7h1v1h-1zM458.3 113.3h1v1h-1zM457.9 94.4h1v1h-1zM457.4 111.3h1v1h-1zM471.9 107.4h1v1h-1zM461.1 98.8h1v1h-1zM457.8 94.1h1v1h-1zM473.2 93.0h1v1h-1zM460.3 100.4h1v1h-1zM457.3 102.5h1v1h-1zM467.2 97.9h1v1h-1zM457.2 107.1h1v1h-1zM460.8 104.3h1v1h-1zM457.3 113.0h1v1h-1zM457.0 96.2h1v1h-1zM457.6 104.3h1v1h-1zM459.1 105.3h1v1h-1zM461.7 113.5h1v1h-1zM459.0 93.0h1v1h-1zM485.7 40.6h1v1h-1zM457.5 44.3h1v1h-1zM473.1 63.5h1v1h-1zM447.1 48.8h1v1h-1z" fill="#ee5478"/>
<rect x="415.6" y="17.5" width="97.89999999999998" height="98.5" fill="none" stroke="#111" stroke-width="1.2"/>
<line x1="442.5" y1="17.5" x2="442.5" y2="116.0" stroke="#111" stroke-width="1.2"/>
<line x1="415.6" y1="92.5" x2="513.5" y2="92.5" stroke="#111" stroke-width="1.2"/>
<path d="M415.60 116.0v2.8M422.97 116.0v1.8M427.28 116.0v1.8M430.34 116.0v1.8M432.71 116.0v1.8M434.65 116.0v1.8M436.28 116.0v1.8M437.70 116.0v1.8M438.96 116.0v1.8M440.08 116.0v2.8M447.44 116.0v1.8M451.75 116.0v1.8M454.81 116.0v1.8M457.18 116.0v1.8M459.12 116.0v1.8M460.76 116.0v1.8M462.18 116.0v1.8M463.43 116.0v1.8M464.55 116.0v2.8M471.92 116.0v1.8M476.23 116.0v1.8M479.29 116.0v1.8M481.66 116.0v1.8M483.60 116.0v1.8M485.23 116.0v1.8M486.65 116.0v1.8M487.91 116.0v1.8M489.02 116.0v2.8M496.39 116.0v1.8M500.70 116.0v1.8M503.76 116.0v1.8M506.13 116.0v1.8M508.07 116.0v1.8M509.71 116.0v1.8M511.13 116.0v1.8M512.38 116.0v1.8M513.50 116.0v2.8M415.6 116.00h-2.8M415.6 108.59h-1.8M415.6 104.25h-1.8M415.6 101.17h-1.8M415.6 98.79h-1.8M415.6 96.84h-1.8M415.6 95.19h-1.8M415.6 93.76h-1.8M415.6 92.50h-1.8M415.6 91.38h-2.8M415.6 83.96h-1.8M415.6 79.63h-1.8M415.6 76.55h-1.8M415.6 74.16h-1.8M415.6 72.21h-1.8M415.6 70.56h-1.8M415.6 69.14h-1.8M415.6 67.88h-1.8M415.6 66.75h-2.8M415.6 59.34h-1.8M415.6 55.00h-1.8M415.6 51.92h-1.8M415.6 49.54h-1.8M415.6 47.59h-1.8M415.6 45.94h-1.8M415.6 44.51h-1.8M415.6 43.25h-1.8M415.6 42.12h-2.8M415.6 34.71h-1.8M415.6 30.38h-1.8M415.6 27.30h-1.8M415.6 24.91h-1.8M415.6 22.96h-1.8M415.6 21.31h-1.8M415.6 19.89h-1.8M415.6 18.63h-1.8M415.6 17.50h-2.8" stroke="#222" stroke-width="0.7"/>
<text x="411.58" y="128.20" fill="#111" style="font-family:'Liberation Sans',sans-serif;font-size:7px;font-weight:normal;stroke:#111;stroke-width:0.4px;" textLength="7.59" lengthAdjust="spacingAndGlyphs">10</text>
<text x="419.97" y="124.30" fill="#111" style="font-family:'Liberation Sans',sans-serif;font-size:5.2px;font-weight:normal;stroke:#111;stroke-width:0.3px;" textLength="2.56" lengthAdjust="spacingAndGlyphs">0</text>
<text x="436.06" y="128.20" fill="#111" style="font-family:'Liberation Sans',sans-serif;font-size:7px;font-weight:normal;stroke:#111;stroke-width:0.4px;" textLength="7.59" lengthAdjust="spacingAndGlyphs">10</text>
<text x="444.24" y="124.30" fill="#111" style="font-family:'Liberation Sans',sans-serif;font-size:5.2px;font-weight:normal;stroke:#111;stroke-width:0.3px;" textLength="2.84" lengthAdjust="spacingAndGlyphs">1</text>
<text x="460.53" y="128.20" fill="#111" style="font-family:'Liberation Sans',sans-serif;font-size:7px;font-weight:normal;stroke:#111;stroke-width:0.4px;" textLength="7.59" lengthAdjust="spacingAndGlyphs">10</text>
<text x="468.86" y="124.30" fill="#111" style="font-family:'Liberation Sans',sans-serif;font-size:5.2px;font-weight:normal;stroke:#111;stroke-width:0.3px;" textLength="2.69" lengthAdjust="spacingAndGlyphs">2</text>
<text x="485.01" y="128.20" fill="#111" style="font-family:'Liberation Sans',sans-serif;font-size:7px;font-weight:normal;stroke:#111;stroke-width:0.4px;" textLength="7.59" lengthAdjust="spacingAndGlyphs">10</text>
<text x="493.40" y="124.30" fill="#111" style="font-family:'Liberation Sans',sans-serif;font-size:5.2px;font-weight:normal;stroke:#111;stroke-width:0.3px;" textLength="2.58" lengthAdjust="spacingAndGlyphs">3</text>
<text x="509.48" y="128.20" fill="#111" style="font-family:'Liberation Sans',sans-serif;font-size:7px;font-weight:normal;stroke:#111;stroke-width:0.4px;" textLength="7.59" lengthAdjust="spacingAndGlyphs">10</text>
<text x="517.95" y="124.30" fill="#111" style="font-family:'Liberation Sans',sans-serif;font-size:5.2px;font-weight:normal;stroke:#111;stroke-width:0.3px;" textLength="2.43" lengthAdjust="spacingAndGlyphs">4</text>
<text x="455.17" y="134.80" fill="#111" style="font-family:'Liberation Sans',sans-serif;font-size:6.5px;font-weight:normal;stroke:#111;stroke-width:0.35px;" textLength="18.65" lengthAdjust="spacingAndGlyphs">FL1-H</text>
<path d="M350.7 203.4h1v1h-1zM342.1 204.5h1v1h-1zM355.3 201.1h1v1h-1zM343.6 203.1h1v1h-1zM356.8 199.1h1v1h-1zM352.4 202.0h1v1h-1zM354.7 202.6h1v1h-1zM353.7 195.4h1v1h-1zM347.1 194.4h1v1h-1zM355.6 202.9h1v1h-1zM352.3 206.9h1v1h-1zM344.6 205.7h1v1h-1zM344.6 193.5h1v1h-1zM347.1 198.3h1v1h-1zM348.2 199.9h1v1h-1zM352.2 202.4h1v1h-1zM345.8 196.1h1v1h-1zM353.6 204.8h1v1h-1zM355.1 201.9h1v1h-1zM339.2 202.4h1v1h-1zM345.9 203.9h1v1h-1zM357.5 198.7h1v1h-1zM344.1 198.8h1v1h-1zM352.4 202.1h1v1h-1zM343.7 201.3h1v1h-1zM344.4 198.0h1v1h-1zM356.0 199.8h1v1h-1zM337.1 196.5h1v1h-1zM356.9 193.8h1v1h-1zM356.3 200.3h1v1h-1zM341.9 198.0h1v1h-1zM353.1 205.1h1v1h-1zM342.4 199.5h1v1h-1zM351.9 203.3h1v1h-1zM364.1 206.7h1v1h-1zM352.2 195.3h1v1h-1zM348.1 196.2h1v1h-1zM348.0 198.5h1v1h-1zM348.6 201.6h1v1h-1zM348.2 203.7h1v1h-1zM356.4 195.6h1v1h-1zM341.1 196.9h1v1h-1zM336.5 200.5h1v1h-1zM349.8 200.5h1v1h-1zM359.9 202.7h1v1h-1zM355.5 200.3h1v1h-1zM346.0 192.0h1v1h-1zM347.3 199.9h1v1h-1zM343.5 197.0h1v1h-1zM350.1 206.4h1v1h-1zM346.9 198.6h1v1h-1zM344.9 199.5h1v1h-1zM342.6 201.1h1v1h-1zM344.1 204.2h1v1h-1zM343.3 195.3h1v1h-1zM351.9 201.6h1v1h-1zM342.6 200.4h1v1h-1zM349.3 204.8h1v1h-1zM343.8 192.6h1v1h-1zM350.3 202.0h1v1h-1zM353.9 198.4h1v1h-1zM338.6 191.5h1v1h-1zM363.3 199.3h1v1h-1zM348.0 201.1h1v1h-1zM351.2 197.0h1v1h-1zM347.2 199.7h1v1h-1zM356.0 207.3h1v1h-1zM355.7 202.6h1v1h-1zM343.0 196.9h1v1h-1zM351.3 197.2h1v1h-1zM346.2 209.4h1v1h-1zM347.2 199.0h1v1h-1zM338.4 201.7h1v1h-1zM350.9 198.9h1v1h-1zM352.1 190.2h1v1h-1zM357.7 204.9h1v1h-1zM336.4 200.5h1v1h-1zM353.7 203.0h1v1h-1zM350.2 204.4h1v1h-1zM352.1 198.2h1v1h-1zM358.0 195.2h1v1h-1zM346.5 198.1h1v1h-1zM358.8 197.8h1v1h-1zM340.7 195.8h1v1h-1zM350.7 199.8h1v1h-1zM351.2 194.9h1v1h-1zM351.3 202.9h1v1h-1zM360.5 205.4h1v1h-1zM341.4 201.8h1v1h-1zM343.1 201.4h1v1h-1zM353.8 199.1h1v1h-1zM332.2 200.3h1v1h-1zM349.9 197.9h1v1h-1zM353.9 198.5h1v1h-1zM347.8 201.9h1v1h-1zM345.0 202.9h1v1h-1zM346.6 199.2h1v1h-1zM353.0 205.0h1v1h-1zM347.8 200.6h1v1h-1zM347.6 194.0h1v1h-1zM346.9 208.9h1v1h-1zM348.1 202.9h1v1h-1zM353.0 204.7h1v1h-1zM349.4 202.8h1v1h-1zM348.3 209.1h1v1h-1zM351.8 199.6h1v1h-1zM357.2 196.8h1v1h-1zM355.6 208.4h1v1h-1zM343.6 202.1h1v1h-1zM346.3 200.3h1v1h-1zM348.5 192.1h1v1h-1zM356.7 199.9h1v1h-1zM355.2 197.6h1v1h-1zM347.3 198.6h1v1h-1zM341.1 207.1h1v1h-1zM357.1 205.3h1v1h-1zM353.5 198.8h1v1h-1zM352.2 211.7h1v1h-1zM359.4 201.3h1v1h-1zM343.2 202.8h1v1h-1zM334.2 204.2h1v1h-1zM346.2 199.3h1v1h-1zM356.7 206.1h1v1h-1zM348.4 196.5h1v1h-1zM339.4 195.9h1v1h-1zM353.7 201.5h1v1h-1zM346.2 200.5h1v1h-1zM348.5 195.2h1v1h-1zM347.7 205.2h1v1h-1zM360.3 197.7h1v1h-1zM350.9 195.7h1v1h-1zM353.7 199.7h1v1h-1zM349.7 205.0h1v1h-1zM354.7 202.0h1v1h-1zM352.9 202.7h1v1h-1zM338.3 201.7h1v1h-1zM347.0 206.4h1v1h-1zM349.8 197.1h1v1h-1zM346.2 204.0h1v1h-1zM350.2 200.4h1v1h-1zM357.5 202.6h1v1h-1zM349.0 205.2h1v1h-1zM353.7 202.1h1v1h-1zM352.2 189.7h1v1h-1zM356.0 198.5h1v1h-1zM354.2 197.8h1v1h-1zM350.1 195.2h1v1h-1zM354.9 197.0h1v1h-1zM359.1 200.7h1v1h-1zM352.0 197.1h1v1h-1zM344.8 201.6h1v1h-1zM348.1 199.9h1v1h-1zM340.6 198.6h1v1h-1zM351.8 195.1h1v1h-1zM343.0 195.8h1v1h-1zM350.7 198.0h1v1h-1zM341.9 197.8h1v1h-1zM351.3 195.3h1v1h-1zM351.2 209.8h1v1h-1zM337.7 196.8h1v1h-1zM347.6 200.9h1v1h-1zM357.8 199.8h1v1h-1zM345.0 194.7h1v1h-1zM328.4 193.0h1v1h-1zM358.4 194.9h1v1h-1zM352.9 201.7h1v1h-1zM346.5 193.8h1v1h-1zM363.8 203.0h1v1h-1zM351.5 193.8h1v1h-1zM351.0 194.0h1v1h-1zM339.4 199.9h1v1h-1zM349.2 200.9h1v1h-1zM350.2 199.2h1v1h-1zM350.1 194.7h1v1h-1zM348.1 202.2h1v1h-1zM360.8 191.7h1v1h-1zM357.4 196.7h1v1h-1zM356.0 197.1h1v1h-1zM348.3 200.1h1v1h-1zM349.0 200.0h1v1h-1zM354.8 203.3h1v1h-1zM344.7 203.1h1v1h-1zM350.7 194.7h1v1h-1zM342.6 205.1h1v1h-1zM356.1 196.4h1v1h-1zM354.1 196.4h1v1h-1zM352.6 208.5h1v1h-1zM348.7 205.4h1v1h-1zM344.7 199.4h1v1h-1zM346.3 207.0h1v1h-1zM352.0 197.5h1v1h-1zM342.0 198.8h1v1h-1zM353.9 204.1h1v1h-1zM346.0 203.4h1v1h-1zM350.2 199.2h1v1h-1zM351.3 208.1h1v1h-1zM347.7 200.1h1v1h-1zM349.0 198.4h1v1h-1zM350.9 199.0h1v1h-1zM338.7 201.6h1v1h-1zM339.2 200.5h1v1h-1zM350.2 206.1h1v1h-1zM355.9 202.2h1v1h-1zM343.1 200.7h1v1h-1zM361.3 202.5h1v1h-1zM353.2 210.8h1v1h-1zM349.7 194.4h1v1h-1zM354.7 201.6h1v1h-1zM342.0 206.5h1v1h-1zM348.7 208.8h1v1h-1zM342.7 205.5h1v1h-1zM354.4 200.5h1v1h-1zM354.8 193.8h1v1h-1zM364.5 203.8h1v1h-1zM351.9 209.1h1v1h-1zM364.4 194.1h1v1h-1zM349.7 193.6h1v1h-1zM348.2 198.0h1v1h-1zM354.8 199.8h1v1h-1zM340.2 202.5h1v1h-1zM346.2 203.6h1v1h-1zM341.5 196.5h1v1h-1zM346.8 198.6h1v1h-1zM348.5 202.7h1v1h-1zM352.5 200.9h1v1h-1zM350.8 198.7h1v1h-1zM340.0 198.1h1v1h-1zM346.8 198.8h1v1h-1zM338.5 198.0h1v1h-1zM346.6 196.5h1v1h-1zM347.1 199.7h1v1h-1zM352.9 203.6h1v1h-1zM343.1 202.1h1v1h-1zM348.0 199.6h1v1h-1zM356.6 203.0h1v1h-1zM351.3 195.8h1v1h-1zM347.8 204.2h1v1h-1zM345.3 196.7h1v1h-1zM343.4 200.8h1v1h-1zM343.9 210.7h1v1h-1zM349.6 200.5h1v1h-1zM346.5 202.1h1v1h-1zM352.3 198.9h1v1h-1zM346.8 204.4h1v1h-1zM350.4 202.9h1v1h-1zM349.7 198.1h1v1h-1zM352.2 202.9h1v1h-1zM349.6 200.1h1v1h-1zM354.8 196.9h1v1h-1zM352.4 199.7h1v1h-1zM350.6 203.2h1v1h-1zM341.1 199.7h1v1h-1zM349.5 200.9h1v1h-1zM362.3 197.5h1v1h-1zM350.6 203.4h1v1h-1zM338.1 203.2h1v1h-1zM354.4 198.2h1v1h-1zM348.4 197.8h1v1h-1zM357.0 197.5h1v1h-1zM342.0 197.3h1v1h-1zM345.5 200.6h1v1h-1zM350.0 204.0h1v1h-1zM339.3 201.3h1v1h-1zM348.2 200.3h1v1h-1zM345.8 198.6h1v1h-1zM352.8 204.5h1v1h-1zM341.0 201.8h1v1h-1zM344.4 202.7h1v1h-1zM347.7 194.9h1v1h-1zM345.5 200.4h1v1h-1zM355.4 205.5h1v1h-1zM355.8 200.8h1v1h-1zM352.5 199.1h1v1h-1zM357.9 197.0h1v1h-1zM343.9 203.8h1v1h-1zM341.5 201.2h1v1h-1zM356.7 201.4h1v1h-1zM353.4 200.9h1v1h-1zM351.4 195.3h1v1h-1zM359.6 199.1h1v1h-1zM347.4 201.0h1v1h-1zM357.4 199.1h1v1h-1zM349.2 204.1h1v1h-1zM353.8 198.7h1v1h-1zM348.0 200.4h1v1h-1zM345.1 196.0h1v1h-1zM345.6 195.1h1v1h-1zM361.8 196.8h1v1h-1zM353.3 193.0h1v1h-1zM346.6 206.5h1v1h-1zM348.7 194.1h1v1h-1zM347.2 193.8h1v1h-1zM337.9 206.3h1v1h-1zM347.6 201.0h1v1h-1zM357.1 197.4h1v1h-1zM351.1 200.5h1v1h-1zM345.3 198.9h1v1h-1zM342.8 194.7h1v1h-1zM353.7 198.2h1v1h-1zM331.6 206.8h1v1h-1zM349.4 199.5h1v1h-1zM358.4 191.0h1v1h-1zM349.9 196.6h1v1h-1zM351.3 204.2h1v1h-1zM350.6 196.8h1v1h-1zM348.5 203.5h1v1h-1zM353.7 202.1h1v1h-1zM351.1 196.7h1v1h-1zM351.4 195.3h1v1h-1zM349.5 198.4h1v1h-1zM351.6 204.8h1v1h-1zM350.4 203.0h1v1h-1zM348.6 198.0h1v1h-1zM353.7 199.8h1v1h-1zM342.5 200.1h1v1h-1zM348.9 201.7h1v1h-1zM352.5 197.4h1v1h-1zM353.9 192.6h1v1h-1zM359.8 195.4h1v1h-1zM352.4 205.3h1v1h-1zM347.5 194.1h1v1h-1zM343.2 199.5h1v1h-1zM350.9 204.5h1v1h-1zM347.5 198.8h1v1h-1zM348.4 199.9h1v1h-1zM343.7 198.1h1v1h-1zM345.7 203.2h1v1h-1zM346.7 198.7h1v1h-1zM362.0 200.5h1v1h-1zM354.2 189.3h1v1h-1zM350.9 202.0h1v1h-1zM352.2 200.4h1v1h-1zM347.2 194.3h1v1h-1zM354.9 198.4h1v1h-1zM339.1 205.9h1v1h-1zM358.0 195.7h1v1h-1zM358.1 192.1h1v1h-1zM351.7 197.1h1v1h-1zM350.1 202.6h1v1h-1zM355.2 202.2h1v1h-1zM350.6 203.5h1v1h-1zM343.9 201.4h1v1h-1zM346.9 195.8h1v1h-1zM350.3 202.3h1v1h-1zM352.4 205.4h1v1h-1zM345.0 194.8h1v1h-1zM349.0 206.0h1v1h-1zM338.1 199.0h1v1h-1zM348.4 201.6h1v1h-1zM346.9 200.1h1v1h-1zM352.8 195.0h1v1h-1zM348.9 195.9h1v1h-1zM351.2 203.8h1v1h-1zM356.9 196.8h1v1h-1zM348.3 204.5h1v1h-1zM337.2 209.7h1v1h-1zM341.4 203.4h1v1h-1zM352.0 197.2h1v1h-1zM350.9 199.7h1v1h-1zM336.5 202.9h1v1h-1zM355.0 207.8h1v1h-1zM346.9 198.3h1v1h-1zM350.4 195.6h1v1h-1zM351.5 200.5h1v1h-1zM345.7 198.0h1v1h-1zM366.5 205.2h1v1h-1zM350.1 205.2h1v1h-1zM355.1 192.3h1v1h-1zM355.8 201.3h1v1h-1zM361.6 200.2h1v1h-1zM351.4 201.3h1v1h-1zM350.7 192.2h1v1h-1zM359.8 196.3h1v1h-1zM357.0 204.5h1v1h-1zM351.0 198.3h1v1h-1zM348.8 196.4h1v1h-1zM346.4 196.7h1v1h-1zM359.5 199.3h1v1h-1zM346.7 201.0h1v1h-1zM350.7 199.5h1v1h-1zM358.0 209.8h1v1h-1zM346.4 201.3h1v1h-1zM347.2 201.7h1v1h-1zM339.7 187.6h1v1h-1zM352.9 198.5h1v1h-1zM347.7 200.4h1v1h-1zM352.6 195.9h1v1h-1zM344.1 200.3h1v1h-1zM348.8 210.2h1v1h-1zM350.5 199.8h1v1h-1zM354.2 201.2h1v1h-1zM347.3 202.2h1v1h-1zM337.2 195.2h1v1h-1zM346.4 205.2h1v1h-1zM349.8 195.1h1v1h-1zM342.7 198.1h1v1h-1zM349.2 200.9h1v1h-1zM358.1 201.6h1v1h-1zM350.9 200.0h1v1h-1zM360.2 196.6h1v1h-1zM347.9 204.9h1v1h-1zM347.7 200.4h1v1h-1zM357.2 202.2h1v1h-1zM345.0 195.4h1v1h-1zM352.6 205.4h1v1h-1zM348.8 202.1h1v1h-1zM356.7 198.1h1v1h-1zM355.6 199.8h1v1h-1zM348.3 196.7h1v1h-1zM349.3 194.3h1v1h-1zM343.0 194.8h1v1h-1zM351.2 199.3h1v1h-1zM354.0 195.3h1v1h-1zM349.0 201.1h1v1h-1zM359.6 196.4h1v1h-1zM349.5 199.8h1v1h-1zM360.9 207.3h1v1h-1zM341.3 200.0h1v1h-1zM351.8 199.4h1v1h-1zM348.5 203.5h1v1h-1zM342.1 201.1h1v1h-1zM340.4 195.8h1v1h-1zM355.1 201.9h1v1h-1zM353.6 208.6h1v1h-1zM340.0 194.1h1v1h-1zM352.2 191.9h1v1h-1zM356.7 210.2h1v1h-1zM335.7 207.6h1v1h-1zM343.5 218.6h1v1h-1zM342.1 199.4h1v1h-1zM352.8 204.9h1v1h-1zM359.0 191.1h1v1h-1zM347.6 201.6h1v1h-1zM354.4 206.3h1v1h-1zM360.9 205.3h1v1h-1zM362.4 193.6h1v1h-1zM345.4 191.9h1v1h-1zM347.9 210.6h1v1h-1zM341.4 206.0h1v1h-1zM359.0 216.1h1v1h-1zM352.8 209.1h1v1h-1zM354.7 218.1h1v1h-1zM352.1 207.3h1v1h-1zM357.0 218.7h1v1h-1zM361.1 217.0h1v1h-1zM342.7 193.6h1v1h-1zM340.2 204.9h1v1h-1zM353.5 195.3h1v1h-1zM344.6 217.0h1v1h-1zM350.7 192.9h1v1h-1zM350.1 207.7h1v1h-1zM361.0 217.3h1v1h-1zM348.0 194.2h1v1h-1zM346.8 201.0h1v1h-1zM348.8 195.5h1v1h-1zM348.8 210.7h1v1h-1zM351.5 210.4h1v1h-1zM361.6 193.3h1v1h-1zM343.8 217.1h1v1h-1zM334.0 205.8h1v1h-1zM346.3 193.4h1v1h-1zM349.7 220.5h1v1h-1zM346.6 207.2h1v1h-1zM358.1 200.8h1v1h-1zM346.0 210.9h1v1h-1zM348.9 199.3h1v1h-1zM342.9 203.6h1v1h-1zM349.8 195.7h1v1h-1zM345.7 205.5h1v1h-1zM349.5 199.1h1v1h-1zM348.7 220.1h1v1h-1zM349.6 200.2h1v1h-1zM363.8 193.6h1v1h-1zM335.9 214.3h1v1h-1zM352.3 192.4h1v1h-1zM348.0 205.5h1v1h-1zM341.0 210.9h1v1h-1zM346.3 211.9h1v1h-1zM350.3 194.9h1v1h-1zM345.6 208.0h1v1h-1zM364.6 206.3h1v1h-1zM348.8 202.5h1v1h-1zM342.5 207.6h1v1h-1zM357.9 192.2h1v1h-1zM352.0 220.9h1v1h-1zM360.1 195.7h1v1h-1zM345.0 216.7h1v1h-1zM348.2 210.5h1v1h-1zM364.3 209.1h1v1h-1zM350.7 216.0h1v1h-1zM345.1 207.3h1v1h-1zM351.6 198.6h1v1h-1zM336.7 203.3h1v1h-1zM349.1 217.3h1v1h-1zM353.3 211.6h1v1h-1zM341.6 217.4h1v1h-1zM351.6 193.1h1v1h-1zM343.8 207.0h1v1h-1zM359.9 205.9h1v1h-1zM350.7 211.1h1v1h-1zM356.3 201.2h1v1h-1zM365.9 220.1h1v1h-1zM344.8 199.3h1v1h-1zM347.5 201.8h1v1h-1zM350.7 193.2h1v1h-1zM332.2 213.9h1v1h-1zM350.8 201.9h1v1h-1zM348.2 192.6h1v1h-1zM368.1 216.4h1v1h-1zM352.7 219.5h1v1h-1zM348.8 210.4h1v1h-1zM345.0 209.3h1v1h-1zM356.1 206.8h1v1h-1zM361.7 200.8h1v1h-1zM339.2 191.3h1v1h-1zM352.9 210.7h1v1h-1zM340.3 193.2h1v1h-1zM365.3 201.9h1v1h-1zM358.4 205.2h1v1h-1zM355.9 210.1h1v1h-1zM350.2 192.8h1v1h-1zM339.6 195.7h1v1h-1zM346.4 213.8h1v1h-1zM364.8 214.7h1v1h-1zM348.3 219.4h1v1h-1zM349.0 215.7h1v1h-1zM341.8 215.2h1v1h-1zM343.3 196.4h1v1h-1zM342.9 201.2h1v1h-1zM344.2 214.4h1v1h-1zM364.2 199.7h1v1h-1zM353.6 192.8h1v1h-1zM350.9 200.8h1v1h-1zM367.2 201.8h1v1h-1zM359.6 202.6h1v1h-1zM356.7 209.9h1v1h-1zM343.7 204.2h1v1h-1zM332.8 199.3h1v1h-1zM355.7 206.8h1v1h-1zM346.9 195.4h1v1h-1zM351.6 206.2h1v1h-1zM353.4 192.8h1v1h-1zM343.4 219.1h1v1h-1zM361.1 192.4h1v1h-1zM362.8 210.5h1v1h-1zM354.5 203.6h1v1h-1zM355.6 213.7h1v1h-1zM343.8 203.1h1v1h-1zM354.1 206.6h1v1h-1zM347.4 196.7h1v1h-1zM369.2 195.0h1v1h-1zM344.3 212.6h1v1h-1zM348.9 192.2h1v1h-1zM347.8 218.8h1v1h-1zM344.6 200.0h1v1h-1zM345.0 207.0h1v1h-1zM353.7 199.4h1v1h-1zM347.3 212.2h1v1h-1zM344.2 199.7h1v1h-1zM341.8 212.6h1v1h-1zM353.6 210.6h1v1h-1zM348.1 194.4h1v1h-1zM352.4 195.4h1v1h-1zM352.9 210.9h1v1h-1zM355.4 201.2h1v1h-1zM355.6 198.4h1v1h-1zM348.0 196.5h1v1h-1zM358.0 208.4h1v1h-1zM359.9 198.5h1v1h-1zM355.2 203.9h1v1h-1zM340.5 209.2h1v1h-1zM346.5 193.7h1v1h-1zM344.3 201.9h1v1h-1zM357.8 210.2h1v1h-1zM348.6 193.7h1v1h-1zM353.3 202.2h1v1h-1zM336.2 202.2h1v1h-1zM345.3 197.3h1v1h-1zM350.5 194.9h1v1h-1zM347.6 219.7h1v1h-1zM342.7 219.9h1v1h-1zM363.7 216.1h1v1h-1zM338.2 191.7h1v1h-1zM365.1 217.2h1v1h-1zM365.9 209.5h1v1h-1zM345.1 203.7h1v1h-1zM345.5 195.4h1v1h-1zM345.3 194.7h1v1h-1zM349.2 217.1h1v1h-1zM337.3 199.8h1v1h-1zM344.1 208.3h1v1h-1zM348.6 197.3h1v1h-1zM364.9 210.4h1v1h-1zM344.7 193.4h1v1h-1zM348.7 205.6h1v1h-1zM337.3 197.1h1v1h-1zM349.0 196.6h1v1h-1zM346.4 198.0h1v1h-1zM363.7 210.0h1v1h-1zM354.0 212.2h1v1h-1zM351.6 205.9h1v1h-1zM357.4 219.2h1v1h-1zM356.5 202.7h1v1h-1zM343.7 206.2h1v1h-1zM348.3 192.3h1v1h-1zM358.3 201.4h1v1h-1zM344.4 199.5h1v1h-1zM357.7 216.2h1v1h-1zM367.1 202.4h1v1h-1zM343.4 197.0h1v1h-1zM345.3 192.0h1v1h-1zM350.6 207.9h1v1h-1zM346.5 191.5h1v1h-1zM355.4 210.6h1v1h-1zM351.6 209.4h1v1h-1zM362.0 206.7h1v1h-1zM350.4 191.4h1v1h-1zM359.4 216.7h1v1h-1zM348.7 192.3h1v1h-1zM355.3 197.5h1v1h-1zM343.7 203.2h1v1h-1zM359.8 197.6h1v1h-1zM355.5 212.0h1v1h-1zM356.3 209.5h1v1h-1zM361.2 212.4h1v1h-1zM357.0 211.5h1v1h-1zM349.1 202.9h1v1h-1zM362.0 213.9h1v1h-1zM342.3 209.0h1v1h-1zM349.8 220.1h1v1h-1zM367.3 219.5h1v1h-1zM343.7 211.4h1v1h-1zM362.8 216.2h1v1h-1zM353.7 202.9h1v1h-1zM343.2 214.9h1v1h-1zM345.7 217.2h1v1h-1zM343.3 192.0h1v1h-1zM359.4 193.9h1v1h-1zM351.7 216.3h1v1h-1zM364.2 197.8h1v1h-1zM359.2 195.0h1v1h-1zM351.3 203.3h1v1h-1zM339.7 208.9h1v1h-1zM333.7 206.2h1v1h-1zM345.0 207.2h1v1h-1zM343.5 211.7h1v1h-1zM352.8 194.3h1v1h-1zM344.9 213.8h1v1h-1zM334.9 207.3h1v1h-1zM348.9 193.8h1v1h-1zM353.7 207.2h1v1h-1zM362.0 196.5h1v1h-1zM340.7 213.5h1v1h-1zM354.0 216.7h1v1h-1zM343.0 196.6h1v1h-1zM346.4 212.8h1v1h-1zM358.7 204.5h1v1h-1zM346.2 202.8h1v1h-1zM365.3 203.6h1v1h-1zM352.4 212.2h1v1h-1zM359.5 201.9h1v1h-1zM346.4 191.4h1v1h-1zM343.6 219.9h1v1h-1zM348.8 219.8h1v1h-1zM360.2 197.2h1v1h-1zM355.7 195.6h1v1h-1zM353.0 216.5h1v1h-1zM348.8 199.1h1v1h-1zM350.8 206.3h1v1h-1zM353.9 218.1h1v1h-1zM356.7 204.3h1v1h-1zM352.1 194.4h1v1h-1zM361.1 206.6h1v1h-1zM349.1 207.5h1v1h-1zM348.4 200.3h1v1h-1zM350.7 218.3h1v1h-1zM340.6 209.2h1v1h-1zM353.0 212.1h1v1h-1zM355.4 215.3h1v1h-1zM358.2 199.5h1v1h-1zM356.0 185.1h1v1h-1zM356.1 189.2h1v1h-1zM346.0 203.7h1v1h-1zM344.0 196.6h1v1h-1zM345.4 192.1h1v1h-1zM354.0 200.3h1v1h-1zM346.7 205.8h1v1h-1zM347.0 196.2h1v1h-1zM369.9 211.6h1v1h-1zM351.1 205.4h1v1h-1zM351.2 208.8h1v1h-1zM350.1 217.9h1v1h-1zM355.7 210.9h1v1h-1zM366.2 207.6h1v1h-1zM352.2 200.6h1v1h-1zM355.3 194.8h1v1h-1zM353.7 202.2h1v1h-1zM340.4 219.9h1v1h-1zM347.8 212.6h1v1h-1zM371.6 212.2h1v1h-1zM344.1 197.6h1v1h-1zM351.0 200.3h1v1h-1zM358.4 207.1h1v1h-1zM365.0 196.1h1v1h-1zM367.2 187.9h1v1h-1zM343.7 217.9h1v1h-1zM362.1 190.3h1v1h-1zM351.3 204.0h1v1h-1zM367.4 191.0h1v1h-1zM360.9 198.7h1v1h-1zM349.2 198.3h1v1h-1zM367.9 215.7h1v1h-1zM353.4 189.3h1v1h-1zM347.5 198.1h1v1h-1zM362.0 188.2h1v1h-1zM354.4 212.6h1v1h-1zM357.3 202.3h1v1h-1zM365.3 202.6h1v1h-1zM358.8 205.2h1v1h-1zM373.1 190.9h1v1h-1zM367.6 202.3h1v1h-1zM344.1 201.9h1v1h-1zM351.6 214.6h1v1h-1zM346.2 211.3h1v1h-1zM359.9 189.6h1v1h-1zM352.5 198.2h1v1h-1zM373.3 200.5h1v1h-1zM349.3 210.8h1v1h-1zM333.1 198.2h1v1h-1zM366.9 214.9h1v1h-1zM336.1 218.5h1v1h-1zM360.1 203.2h1v1h-1zM370.0 199.1h1v1h-1zM341.7 216.2h1v1h-1zM341.6 225.7h1v1h-1zM351.1 189.9h1v1h-1zM344.8 198.6h1v1h-1zM343.1 192.3h1v1h-1zM352.1 204.5h1v1h-1zM359.6 212.7h1v1h-1zM336.0 198.5h1v1h-1zM337.6 191.3h1v1h-1zM351.2 202.5h1v1h-1zM351.0 180.7h1v1h-1zM361.2 205.8h1v1h-1zM362.8 209.1h1v1h-1zM355.6 204.0h1v1h-1zM349.7 207.9h1v1h-1zM334.9 207.7h1v1h-1zM346.3 210.9h1v1h-1zM348.0 182.0h1v1h-1zM359.5 189.9h1v1h-1zM347.8 203.7h1v1h-1zM352.6 202.6h1v1h-1zM356.7 206.1h1v1h-1zM345.2 216.1h1v1h-1zM348.0 208.1h1v1h-1zM366.7 198.4h1v1h-1zM363.1 218.1h1v1h-1zM360.7 205.8h1v1h-1zM339.2 200.0h1v1h-1zM343.5 208.5h1v1h-1zM358.4 202.3h1v1h-1zM339.2 207.4h1v1h-1zM357.6 201.5h1v1h-1zM352.3 212.5h1v1h-1zM355.0 215.6h1v1h-1zM367.6 213.3h1v1h-1zM364.0 205.2h1v1h-1zM343.6 176.0h1v1h-1zM343.9 196.4h1v1h-1zM345.4 209.9h1v1h-1zM350.8 210.4h1v1h-1zM349.6 196.1h1v1h-1zM356.1 192.2h1v1h-1zM335.1 200.9h1v1h-1zM346.1 217.4h1v1h-1zM351.0 185.5h1v1h-1zM351.2 212.5h1v1h-1zM360.4 206.5h1v1h-1zM335.1 201.5h1v1h-1zM348.8 195.9h1v1h-1zM353.1 196.0h1v1h-1zM345.7 192.2h1v1h-1zM355.4 186.9h1v1h-1zM340.9 201.6h1v1h-1zM359.9 204.8h1v1h-1zM356.5 214.8h1v1h-1zM333.8 209.0h1v1h-1zM358.7 217.8h1v1h-1zM340.7 230.9h1v1h-1zM347.8 201.9h1v1h-1zM355.5 203.0h1v1h-1zM363.8 209.9h1v1h-1zM352.7 189.6h1v1h-1zM354.6 205.6h1v1h-1zM356.2 201.1h1v1h-1zM355.8 206.0h1v1h-1zM355.2 208.7h1v1h-1zM332.4 218.7h1v1h-1zM307.2 253.9h1v1h-1zM309.1 246.4h1v1h-1zM310.6 251.0h1v1h-1zM306.4 253.2h1v1h-1zM306.5 257.4h1v1h-1zM308.2 251.8h1v1h-1zM306.3 247.6h1v1h-1zM307.2 245.4h1v1h-1zM309.4 250.2h1v1h-1zM308.9 252.1h1v1h-1zM311.1 243.8h1v1h-1zM308.9 248.1h1v1h-1zM306.6 256.7h1v1h-1zM309.0 242.2h1v1h-1zM306.3 240.3h1v1h-1zM306.2 245.2h1v1h-1zM306.4 245.7h1v1h-1zM306.2 256.2h1v1h-1zM306.1 255.5h1v1h-1zM309.0 251.2h1v1h-1zM309.0 243.2h1v1h-1zM307.7 243.1h1v1h-1zM306.8 245.2h1v1h-1zM311.0 239.9h1v1h-1zM306.4 248.3h1v1h-1zM307.2 249.2h1v1h-1zM308.3 245.6h1v1h-1zM308.4 244.2h1v1h-1zM314.8 249.0h1v1h-1zM308.5 245.6h1v1h-1zM311.6 253.7h1v1h-1zM309.1 254.7h1v1h-1zM306.6 256.6h1v1h-1zM309.3 248.2h1v1h-1zM307.3 251.5h1v1h-1zM308.5 245.9h1v1h-1zM308.3 247.9h1v1h-1zM311.5 257.6h1v1h-1zM308.2 251.9h1v1h-1zM308.2 253.2h1v1h-1zM306.1 247.7h1v1h-1zM307.4 246.6h1v1h-1zM306.2 246.3h1v1h-1zM308.2 249.7h1v1h-1zM310.0 248.9h1v1h-1zM306.5 254.4h1v1h-1zM309.7 252.8h1v1h-1zM307.5 248.8h1v1h-1zM310.0 258.2h1v1h-1zM311.4 245.5h1v1h-1zM308.7 253.8h1v1h-1zM306.7 235.8h1v1h-1zM309.4 254.0h1v1h-1zM308.7 262.4h1v1h-1zM309.3 249.3h1v1h-1zM310.8 249.5h1v1h-1zM307.6 249.6h1v1h-1zM306.7 247.4h1v1h-1zM306.3 250.8h1v1h-1zM307.5 258.0h1v1h-1zM308.2 246.2h1v1h-1zM312.7 251.1h1v1h-1zM307.2 242.2h1v1h-1zM309.2 257.4h1v1h-1zM308.7 240.0h1v1h-1zM307.3 248.7h1v1h-1zM306.7 256.7h1v1h-1zM308.4 240.2h1v1h-1zM306.2 250.9h1v1h-1zM308.0 252.1h1v1h-1zM310.9 248.6h1v1h-1zM307.4 249.3h1v1h-1zM306.7 245.4h1v1h-1zM306.4 250.3h1v1h-1zM310.1 248.0h1v1h-1zM307.6 257.1h1v1h-1zM307.0 249.2h1v1h-1zM306.3 255.7h1v1h-1zM310.7 245.2h1v1h-1zM308.4 242.2h1v1h-1zM310.8 245.6h1v1h-1zM308.5 250.3h1v1h-1zM309.0 256.3h1v1h-1zM306.7 245.2h1v1h-1zM307.2 246.4h1v1h-1zM307.1 246.0h1v1h-1zM310.0 254.1h1v1h-1zM307.9 251.1h1v1h-1zM307.1 240.5h1v1h-1zM306.4 250.6h1v1h-1z" fill="#2ad02a"/>
<path d="M313.5 264.4h1v1h-1zM325.5 251.4h1v1h-1zM318.3 228.7h1v1h-1zM324.4 241.0h1v1h-1zM333.0 251.9h1v1h-1zM329.4 247.9h1v1h-1zM329.3 229.6h1v1h-1zM335.9 248.4h1v1h-1zM325.1 232.0h1v1h-1zM311.5 253.6h1v1h-1zM328.6 252.0h1v1h-1zM315.9 244.4h1v1h-1zM329.7 250.9h1v1h-1zM333.6 227.7h1v1h-1zM329.9 224.6h1v1h-1zM325.9 246.4h1v1h-1zM311.0 241.6h1v1h-1zM327.0 260.4h1v1h-1zM311.1 245.4h1v1h-1zM330.5 228.9h1v1h-1zM333.1 263.4h1v1h-1zM318.2 232.8h1v1h-1zM312.9 233.2h1v1h-1zM320.3 253.7h1v1h-1zM334.3 247.5h1v1h-1zM334.7 241.9h1v1h-1zM326.8 224.0h1v1h-1zM320.3 225.0h1v1h-1zM312.6 258.0h1v1h-1zM312.1 236.6h1v1h-1zM323.2 246.1h1v1h-1zM309.8 228.6h1v1h-1zM327.3 241.0h1v1h-1zM311.5 244.1h1v1h-1zM319.1 266.0h1v1h-1zM310.3 231.6h1v1h-1zM311.0 247.2h1v1h-1zM334.9 256.7h1v1h-1zM312.0 246.7h1v1h-1zM318.7 265.0h1v1h-1zM347.8 228.5h1v1h-1zM340.4 226.0h1v1h-1zM344.0 225.3h1v1h-1zM344.6 222.7h1v1h-1zM342.4 252.3h1v1h-1zM342.1 226.9h1v1h-1zM349.2 233.7h1v1h-1zM348.7 225.4h1v1h-1zM348.0 223.6h1v1h-1zM345.7 222.1h1v1h-1zM339.7 223.3h1v1h-1zM341.5 231.4h1v1h-1zM338.2 236.6h1v1h-1zM338.8 243.0h1v1h-1zM361.8 228.7h1v1h-1zM352.7 241.8h1v1h-1zM342.8 235.6h1v1h-1zM338.3 232.6h1v1h-1zM346.4 232.5h1v1h-1zM339.3 222.6h1v1h-1zM343.9 228.5h1v1h-1zM347.3 223.4h1v1h-1zM344.7 246.3h1v1h-1zM340.3 234.0h1v1h-1zM363.9 229.8h1v1h-1zM342.6 225.8h1v1h-1zM343.0 222.9h1v1h-1zM338.6 224.3h1v1h-1zM339.5 238.1h1v1h-1zM341.6 236.6h1v1h-1z" fill="#74d474"/>
<rect x="305.2" y="170.5" width="98.60000000000002" height="97.80000000000001" fill="none" stroke="#111" stroke-width="1.2"/>
<line x1="337" y1="170.5" x2="337" y2="268.3" stroke="#111" stroke-width="1.2"/>
<line x1="305.2" y1="222.6" x2="403.8" y2="222.6" stroke="#111" stroke-width="1.2"/>
<path d="M305.20 268.3v2.8M312.62 268.3v1.8M316.96 268.3v1.8M320.04 268.3v1.8M322.43 268.3v1.8M324.38 268.3v1.8M326.03 268.3v1.8M327.46 268.3v1.8M328.72 268.3v1.8M329.85 268.3v2.8M337.27 268.3v1.8M341.61 268.3v1.8M344.69 268.3v1.8M347.08 268.3v1.8M349.03 268.3v1.8M350.68 268.3v1.8M352.11 268.3v1.8M353.37 268.3v1.8M354.50 268.3v2.8M361.92 268.3v1.8M366.26 268.3v1.8M369.34 268.3v1.8M371.73 268.3v1.8M373.68 268.3v1.8M375.33 268.3v1.8M376.76 268.3v1.8M378.02 268.3v1.8M379.15 268.3v2.8M386.57 268.3v1.8M390.91 268.3v1.8M393.99 268.3v1.8M396.38 268.3v1.8M398.33 268.3v1.8M399.98 268.3v1.8M401.41 268.3v1.8M402.67 268.3v1.8M403.80 268.3v2.8M305.2 268.30h-2.8M305.2 260.94h-1.8M305.2 256.63h-1.8M305.2 253.58h-1.8M305.2 251.21h-1.8M305.2 249.27h-1.8M305.2 247.64h-1.8M305.2 246.22h-1.8M305.2 244.97h-1.8M305.2 243.85h-2.8M305.2 236.49h-1.8M305.2 232.18h-1.8M305.2 229.13h-1.8M305.2 226.76h-1.8M305.2 224.82h-1.8M305.2 223.19h-1.8M305.2 221.77h-1.8M305.2 220.52h-1.8M305.2 219.40h-2.8M305.2 212.04h-1.8M305.2 207.73h-1.8M305.2 204.68h-1.8M305.2 202.31h-1.8M305.2 200.37h-1.8M305.2 198.74h-1.8M305.2 197.32h-1.8M305.2 196.07h-1.8M305.2 194.95h-2.8M305.2 187.59h-1.8M305.2 183.28h-1.8M305.2 180.23h-1.8M305.2 177.86h-1.8M305.2 175.92h-1.8M305.2 174.29h-1.8M305.2 172.87h-1.8M305.2 171.62h-1.8M305.2 170.50h-2.8" stroke="#222" stroke-width="0.7"/>
<text x="301.18" y="280.50" fill="#111" style="font-family:'Liberation Sans',sans-serif;font-size:7px;font-weight:normal;stroke:#111;stroke-width:0.4px;" textLength="7.59" lengthAdjust="spacingAndGlyphs">10</text>
<text x="309.57" y="276.60" fill="#111" style="font-family:'Liberation Sans',sans-serif;font-size:5.2px;font-weight:normal;stroke:#111;stroke-width:0.3px;" textLength="2.56" lengthAdjust="spacingAndGlyphs">0</text>
<text x="325.83" y="280.50" fill="#111" style="font-family:'Liberation Sans',sans-serif;font-size:7px;font-weight:normal;stroke:#111;stroke-width:0.4px;" textLength="7.59" lengthAdjust="spacingAndGlyphs">10</text>
<text x="334.01" y="276.60" fill="#111" style="font-family:'Liberation Sans',sans-serif;font-size:5.2px;font-weight:normal;stroke:#111;stroke-width:0.3px;" textLength="2.84" lengthAdjust="spacingAndGlyphs">1</text>
<text x="350.48" y="280.50" fill="#111" style="font-family:'Liberation Sans',sans-serif;font-size:7px;font-weight:normal;stroke:#111;stroke-width:0.4px;" textLength="7.59" lengthAdjust="spacingAndGlyphs">10</text>
<text x="358.81" y="276.60" fill="#111" style="font-family:'Liberation Sans',sans-serif;font-size:5.2px;font-weight:normal;stroke:#111;stroke-width:0.3px;" textLength="2.69" lengthAdjust="spacingAndGlyphs">2</text>
<text x="375.13" y="280.50" fill="#111" style="font-family:'Liberation Sans',sans-serif;font-size:7px;font-weight:normal;stroke:#111;stroke-width:0.4px;" textLength="7.59" lengthAdjust="spacingAndGlyphs">10</text>
<text x="383.52" y="276.60" fill="#111" style="font-family:'Liberation Sans',sans-serif;font-size:5.2px;font-weight:normal;stroke:#111;stroke-width:0.3px;" textLength="2.58" lengthAdjust="spacingAndGlyphs">3</text>
<text x="399.78" y="280.50" fill="#111" style="font-family:'Liberation Sans',sans-serif;font-size:7px;font-weight:normal;stroke:#111;stroke-width:0.4px;" textLength="7.59" lengthAdjust="spacingAndGlyphs">10</text>
<text x="408.25" y="276.60" fill="#111" style="font-family:'Liberation Sans',sans-serif;font-size:5.2px;font-weight:normal;stroke:#111;stroke-width:0.3px;" textLength="2.43" lengthAdjust="spacingAndGlyphs">4</text>
<text x="345.12" y="287.10" fill="#111" style="font-family:'Liberation Sans',sans-serif;font-size:6.5px;font-weight:normal;stroke:#111;stroke-width:0.35px;" textLength="18.65" lengthAdjust="spacingAndGlyphs">FL1-H</text>
<g transform="translate(298.7,272.6) rotate(-90)">
<text x="-0.23" y="0.00" fill="#111" style="font-family:'Liberation Sans',sans-serif;font-size:6.6px;font-weight:normal;stroke:#111;stroke-width:0.4px;" textLength="6.25" lengthAdjust="spacingAndGlyphs">10</text>
<text x="6.73" y="-4.40" fill="#111" style="font-family:'Liberation Sans',sans-serif;font-size:5.2px;font-weight:normal;stroke:#111;stroke-width:0.3px;" textLength="3.14" lengthAdjust="spacingAndGlyphs">0</text>
</g>
<g transform="translate(298.7,248.2) rotate(-90)">
<text x="-0.23" y="0.00" fill="#111" style="font-family:'Liberation Sans',sans-serif;font-size:6.6px;font-weight:normal;stroke:#111;stroke-width:0.4px;" textLength="6.25" lengthAdjust="spacingAndGlyphs">10</text>
<text x="6.47" y="-4.40" fill="#111" style="font-family:'Liberation Sans',sans-serif;font-size:5.2px;font-weight:normal;stroke:#111;stroke-width:0.3px;" textLength="3.48" lengthAdjust="spacingAndGlyphs">1</text>
</g>
<g transform="translate(298.7,223.7) rotate(-90)">
<text x="-0.23" y="0.00" fill="#111" style="font-family:'Liberation Sans',sans-serif;font-size:6.6px;font-weight:normal;stroke:#111;stroke-width:0.4px;" textLength="6.25" lengthAdjust="spacingAndGlyphs">10</text>
<text x="6.65" y="-4.40" fill="#111" style="font-family:'Liberation Sans',sans-serif;font-size:5.2px;font-weight:normal;stroke:#111;stroke-width:0.3px;" textLength="3.30" lengthAdjust="spacingAndGlyphs">2</text>
</g>
<g transform="translate(298.7,199.2) rotate(-90)">
<text x="-0.23" y="0.00" fill="#111" style="font-family:'Liberation Sans',sans-serif;font-size:6.6px;font-weight:normal;stroke:#111;stroke-width:0.4px;" textLength="6.25" lengthAdjust="spacingAndGlyphs">10</text>
<text x="6.73" y="-4.40" fill="#111" style="font-family:'Liberation Sans',sans-serif;font-size:5.2px;font-weight:normal;stroke:#111;stroke-width:0.3px;" textLength="3.17" lengthAdjust="spacingAndGlyphs">3</text>
</g>
<g transform="translate(298.7,174.8) rotate(-90)">
<text x="-0.23" y="0.00" fill="#111" style="font-family:'Liberation Sans',sans-serif;font-size:6.6px;font-weight:normal;stroke:#111;stroke-width:0.4px;" textLength="6.25" lengthAdjust="spacingAndGlyphs">10</text>
<text x="6.83" y="-4.40" fill="#111" style="font-family:'Liberation Sans',sans-serif;font-size:5.2px;font-weight:normal;stroke:#111;stroke-width:0.3px;" textLength="2.98" lengthAdjust="spacingAndGlyphs">4</text>
</g>
<g transform="translate(289.2,227.4) rotate(-90)">
<text x="0.15" y="0.00" fill="#111" style="font-family:'Liberation Sans',sans-serif;font-size:6.4px;font-weight:normal;stroke:#111;stroke-width:0.3px;" textLength="17.00" lengthAdjust="spacingAndGlyphs">FL2-H</text>
</g>
<path d="M470.2 234.5h1v1h-1zM471.2 246.7h1v1h-1zM470.3 256.0h1v1h-1zM478.7 254.5h1v1h-1zM474.6 265.6h1v1h-1zM475.2 257.9h1v1h-1zM472.2 249.4h1v1h-1zM481.2 214.4h1v1h-1zM474.5 241.4h1v1h-1zM490.7 248.0h1v1h-1zM474.7 257.6h1v1h-1zM475.2 263.2h1v1h-1zM469.2 265.1h1v1h-1zM469.4 259.4h1v1h-1zM475.9 262.1h1v1h-1zM477.6 247.9h1v1h-1zM494.8 261.3h1v1h-1zM479.6 262.5h1v1h-1zM478.0 258.4h1v1h-1zM473.9 263.1h1v1h-1zM486.8 265.5h1v1h-1zM476.5 263.1h1v1h-1zM468.0 250.3h1v1h-1zM477.6 252.2h1v1h-1zM477.5 252.8h1v1h-1zM476.1 252.5h1v1h-1zM476.8 250.5h1v1h-1zM466.5 262.5h1v1h-1zM469.2 235.3h1v1h-1zM477.1 259.0h1v1h-1zM480.4 248.3h1v1h-1zM477.7 227.4h1v1h-1zM482.0 252.3h1v1h-1zM474.0 260.0h1v1h-1zM468.5 250.8h1v1h-1zM489.5 257.3h1v1h-1zM480.4 259.4h1v1h-1zM481.2 264.1h1v1h-1zM470.9 265.0h1v1h-1zM483.0 263.4h1v1h-1zM474.3 251.7h1v1h-1zM475.0 249.4h1v1h-1zM488.4 260.0h1v1h-1zM479.5 242.5h1v1h-1zM471.8 225.3h1v1h-1zM480.1 256.5h1v1h-1zM481.6 252.2h1v1h-1zM470.2 238.9h1v1h-1zM475.6 253.5h1v1h-1zM475.9 247.7h1v1h-1zM479.5 250.0h1v1h-1zM485.9 238.5h1v1h-1zM482.6 247.2h1v1h-1zM472.5 237.7h1v1h-1zM475.0 263.8h1v1h-1zM479.8 262.6h1v1h-1zM475.8 232.9h1v1h-1zM469.5 246.1h1v1h-1zM469.8 258.1h1v1h-1zM474.2 243.3h1v1h-1zM482.5 259.6h1v1h-1zM478.1 255.6h1v1h-1zM475.0 265.3h1v1h-1zM491.3 247.2h1v1h-1zM469.1 260.6h1v1h-1zM470.2 250.8h1v1h-1zM479.2 249.6h1v1h-1zM486.5 257.3h1v1h-1zM473.1 265.2h1v1h-1zM472.3 242.2h1v1h-1zM477.5 265.5h1v1h-1zM470.8 240.9h1v1h-1zM476.6 255.6h1v1h-1zM487.7 262.8h1v1h-1zM473.8 252.6h1v1h-1zM473.1 265.5h1v1h-1zM483.7 247.5h1v1h-1zM479.4 249.6h1v1h-1zM468.8 262.2h1v1h-1zM476.0 265.8h1v1h-1zM478.0 248.5h1v1h-1zM474.1 265.1h1v1h-1zM485.5 263.4h1v1h-1zM477.0 233.6h1v1h-1zM473.6 245.5h1v1h-1zM481.3 246.9h1v1h-1zM476.6 254.9h1v1h-1zM468.6 244.0h1v1h-1zM473.2 260.7h1v1h-1zM475.2 261.5h1v1h-1zM471.5 241.5h1v1h-1zM471.1 240.1h1v1h-1zM474.5 252.0h1v1h-1zM474.6 246.6h1v1h-1zM474.8 264.9h1v1h-1zM470.7 246.2h1v1h-1zM469.9 249.1h1v1h-1zM484.2 254.6h1v1h-1zM473.2 248.7h1v1h-1zM475.7 260.9h1v1h-1zM472.3 264.2h1v1h-1zM483.8 262.3h1v1h-1zM473.7 248.1h1v1h-1zM475.9 265.9h1v1h-1zM469.8 251.5h1v1h-1zM478.2 261.3h1v1h-1zM475.7 245.6h1v1h-1zM475.8 264.0h1v1h-1zM483.3 261.8h1v1h-1zM473.5 254.6h1v1h-1zM477.5 244.2h1v1h-1zM472.8 239.9h1v1h-1zM475.7 262.9h1v1h-1zM475.0 257.2h1v1h-1zM470.3 265.7h1v1h-1zM488.0 264.9h1v1h-1zM487.1 236.3h1v1h-1zM477.5 250.3h1v1h-1zM479.6 251.6h1v1h-1zM477.1 264.7h1v1h-1zM487.7 264.0h1v1h-1zM475.3 262.9h1v1h-1zM493.1 265.1h1v1h-1zM482.7 253.5h1v1h-1zM473.8 222.2h1v1h-1zM470.6 259.6h1v1h-1zM480.6 259.2h1v1h-1zM483.7 262.6h1v1h-1zM487.2 263.1h1v1h-1zM475.2 259.8h1v1h-1zM477.6 264.6h1v1h-1zM480.5 253.3h1v1h-1zM479.8 261.7h1v1h-1zM476.0 262.4h1v1h-1zM474.1 240.9h1v1h-1zM467.7 261.0h1v1h-1zM474.5 249.6h1v1h-1zM490.0 258.6h1v1h-1zM481.0 240.5h1v1h-1zM478.6 263.9h1v1h-1zM471.1 240.4h1v1h-1zM477.2 244.3h1v1h-1zM476.9 257.9h1v1h-1zM481.7 251.0h1v1h-1zM480.7 250.0h1v1h-1zM476.8 254.3h1v1h-1zM479.1 260.4h1v1h-1zM479.6 253.6h1v1h-1zM481.3 253.4h1v1h-1zM466.1 250.2h1v1h-1zM477.5 252.3h1v1h-1zM475.9 214.3h1v1h-1zM477.0 254.1h1v1h-1zM492.2 252.0h1v1h-1zM477.7 262.7h1v1h-1zM466.8 258.8h1v1h-1zM469.8 241.1h1v1h-1zM469.0 239.6h1v1h-1zM472.2 248.7h1v1h-1zM477.3 240.4h1v1h-1zM470.7 265.3h1v1h-1zM470.3 260.4h1v1h-1zM471.0 235.5h1v1h-1zM467.2 265.1h1v1h-1zM470.2 257.2h1v1h-1zM483.0 264.5h1v1h-1zM475.9 230.5h1v1h-1zM472.5 235.1h1v1h-1zM482.8 214.8h1v1h-1zM466.3 263.4h1v1h-1zM469.7 243.4h1v1h-1zM486.3 248.5h1v1h-1zM469.2 264.0h1v1h-1zM485.1 251.9h1v1h-1zM476.4 249.2h1v1h-1zM477.5 244.3h1v1h-1zM475.8 231.2h1v1h-1zM474.7 255.1h1v1h-1zM487.8 251.2h1v1h-1zM483.4 242.3h1v1h-1zM472.6 260.0h1v1h-1zM487.0 247.7h1v1h-1zM485.9 243.6h1v1h-1zM477.4 254.2h1v1h-1zM476.9 231.9h1v1h-1zM477.4 243.8h1v1h-1zM475.4 250.7h1v1h-1zM490.6 246.9h1v1h-1zM484.2 260.1h1v1h-1zM471.2 253.8h1v1h-1zM480.2 258.4h1v1h-1zM483.0 264.5h1v1h-1zM475.0 238.0h1v1h-1zM476.2 245.3h1v1h-1zM473.3 259.1h1v1h-1zM488.3 256.3h1v1h-1zM472.1 256.1h1v1h-1zM490.7 256.4h1v1h-1zM471.1 261.1h1v1h-1zM473.5 252.0h1v1h-1zM477.2 258.3h1v1h-1zM475.0 253.4h1v1h-1zM475.4 265.8h1v1h-1zM488.5 250.0h1v1h-1zM470.2 235.9h1v1h-1zM479.7 246.8h1v1h-1zM474.1 259.5h1v1h-1zM476.5 244.9h1v1h-1zM475.1 237.0h1v1h-1zM485.4 249.9h1v1h-1zM471.2 244.3h1v1h-1zM477.6 249.1h1v1h-1zM481.8 263.6h1v1h-1zM473.7 259.8h1v1h-1zM478.9 257.5h1v1h-1zM480.4 228.4h1v1h-1zM474.0 261.4h1v1h-1zM482.1 251.0h1v1h-1zM484.2 252.6h1v1h-1zM485.3 265.0h1v1h-1zM478.7 244.1h1v1h-1zM471.6 264.4h1v1h-1zM478.6 264.9h1v1h-1zM474.8 244.7h1v1h-1zM472.2 258.7h1v1h-1zM483.1 261.2h1v1h-1zM478.0 247.2h1v1h-1zM488.5 244.0h1v1h-1zM470.7 253.4h1v1h-1zM470.0 243.2h1v1h-1zM476.3 250.9h1v1h-1zM477.1 260.5h1v1h-1zM471.9 246.7h1v1h-1zM482.9 252.8h1v1h-1zM475.6 252.3h1v1h-1zM479.9 264.0h1v1h-1zM483.3 265.3h1v1h-1zM472.6 254.2h1v1h-1zM477.8 242.2h1v1h-1zM471.3 253.3h1v1h-1zM482.4 258.6h1v1h-1zM486.3 262.7h1v1h-1zM482.9 251.0h1v1h-1zM490.0 246.8h1v1h-1zM468.2 253.2h1v1h-1zM481.8 262.3h1v1h-1zM484.4 260.9h1v1h-1zM476.1 259.2h1v1h-1zM479.8 259.9h1v1h-1zM472.1 262.5h1v1h-1zM477.2 260.6h1v1h-1zM469.2 259.5h1v1h-1zM486.4 229.9h1v1h-1zM482.0 264.4h1v1h-1zM469.0 263.6h1v1h-1zM479.1 240.4h1v1h-1zM473.0 262.3h1v1h-1zM479.2 260.5h1v1h-1zM469.8 263.5h1v1h-1zM470.0 233.7h1v1h-1zM475.4 258.9h1v1h-1zM484.8 252.1h1v1h-1zM473.0 257.0h1v1h-1zM467.0 262.6h1v1h-1zM472.1 246.7h1v1h-1zM476.7 265.4h1v1h-1zM476.4 260.9h1v1h-1zM469.9 249.9h1v1h-1zM488.6 241.8h1v1h-1zM467.2 263.1h1v1h-1zM475.8 262.9h1v1h-1zM480.6 260.2h1v1h-1zM473.3 258.9h1v1h-1zM477.7 258.3h1v1h-1zM484.8 249.7h1v1h-1zM479.2 247.2h1v1h-1zM480.1 258.9h1v1h-1zM478.4 259.7h1v1h-1zM479.5 258.1h1v1h-1zM478.0 264.7h1v1h-1zM479.4 261.0h1v1h-1zM476.4 251.2h1v1h-1zM467.5 232.4h1v1h-1zM478.6 251.7h1v1h-1zM485.9 237.8h1v1h-1zM468.8 257.4h1v1h-1zM470.9 235.1h1v1h-1zM476.0 258.5h1v1h-1zM480.7 256.7h1v1h-1zM477.9 243.2h1v1h-1zM489.5 262.3h1v1h-1zM483.1 242.3h1v1h-1zM475.3 260.7h1v1h-1zM478.3 258.7h1v1h-1zM481.3 251.2h1v1h-1zM474.7 254.7h1v1h-1zM476.1 233.2h1v1h-1zM481.4 241.3h1v1h-1zM482.6 256.5h1v1h-1zM473.8 258.9h1v1h-1zM470.6 246.4h1v1h-1zM476.1 231.2h1v1h-1zM471.4 249.4h1v1h-1zM484.5 264.6h1v1h-1zM466.9 242.3h1v1h-1zM472.4 262.8h1v1h-1zM478.5 260.3h1v1h-1zM476.1 257.8h1v1h-1zM471.1 240.3h1v1h-1zM476.7 258.3h1v1h-1zM478.9 247.2h1v1h-1zM481.3 244.9h1v1h-1zM478.4 254.8h1v1h-1zM467.8 249.6h1v1h-1zM466.9 258.9h1v1h-1zM467.9 264.2h1v1h-1zM473.7 244.2h1v1h-1zM473.6 259.4h1v1h-1zM479.4 258.8h1v1h-1zM472.4 255.3h1v1h-1zM474.8 248.0h1v1h-1zM477.7 254.5h1v1h-1zM474.8 246.8h1v1h-1zM470.0 230.7h1v1h-1zM469.9 246.9h1v1h-1zM469.2 263.1h1v1h-1zM476.4 263.5h1v1h-1zM487.0 249.9h1v1h-1zM483.7 258.4h1v1h-1zM482.7 253.6h1v1h-1zM469.4 219.8h1v1h-1zM472.4 247.2h1v1h-1zM472.7 235.8h1v1h-1zM484.2 259.9h1v1h-1zM478.0 261.9h1v1h-1zM466.3 249.1h1v1h-1zM490.2 243.1h1v1h-1zM476.9 237.6h1v1h-1zM475.6 236.7h1v1h-1zM479.2 243.7h1v1h-1zM472.9 253.8h1v1h-1zM480.4 263.4h1v1h-1zM470.6 258.6h1v1h-1zM483.7 255.8h1v1h-1zM483.1 245.7h1v1h-1zM483.6 258.8h1v1h-1zM493.0 249.2h1v1h-1zM483.2 261.0h1v1h-1zM473.3 253.0h1v1h-1zM470.7 259.9h1v1h-1zM474.0 236.0h1v1h-1zM478.9 258.6h1v1h-1zM473.5 250.4h1v1h-1zM489.4 249.7h1v1h-1zM479.6 250.0h1v1h-1zM476.4 259.9h1v1h-1zM477.1 257.8h1v1h-1zM470.5 263.2h1v1h-1zM484.4 261.4h1v1h-1zM477.9 254.4h1v1h-1zM466.6 263.1h1v1h-1zM482.8 254.8h1v1h-1zM479.8 239.8h1v1h-1zM475.5 235.0h1v1h-1zM476.5 246.0h1v1h-1zM476.9 259.2h1v1h-1zM478.0 263.8h1v1h-1zM473.7 263.4h1v1h-1zM475.6 215.1h1v1h-1zM484.9 250.0h1v1h-1zM481.9 261.0h1v1h-1zM475.0 259.6h1v1h-1zM482.8 265.7h1v1h-1zM472.8 231.3h1v1h-1zM480.7 260.8h1v1h-1zM482.8 226.5h1v1h-1zM478.7 247.8h1v1h-1zM479.1 263.9h1v1h-1zM474.4 255.9h1v1h-1zM479.0 265.6h1v1h-1zM466.2 242.1h1v1h-1zM472.5 255.9h1v1h-1zM475.3 256.6h1v1h-1zM492.0 251.5h1v1h-1zM493.1 228.3h1v1h-1zM467.7 245.8h1v1h-1zM468.9 255.1h1v1h-1zM482.6 241.8h1v1h-1zM470.4 236.5h1v1h-1zM484.5 263.7h1v1h-1zM485.3 261.6h1v1h-1zM479.1 246.6h1v1h-1zM472.9 243.9h1v1h-1zM484.6 243.3h1v1h-1zM474.0 254.9h1v1h-1zM480.2 258.1h1v1h-1zM477.5 262.6h1v1h-1zM473.9 254.4h1v1h-1zM473.1 251.9h1v1h-1zM475.5 239.3h1v1h-1zM476.1 265.3h1v1h-1zM483.1 235.5h1v1h-1zM475.0 238.9h1v1h-1zM485.6 257.1h1v1h-1zM468.8 254.1h1v1h-1zM480.8 245.6h1v1h-1zM483.2 242.8h1v1h-1zM480.9 262.8h1v1h-1zM474.9 227.8h1v1h-1zM479.0 257.1h1v1h-1zM489.0 258.0h1v1h-1zM479.8 250.1h1v1h-1zM477.6 263.4h1v1h-1zM475.6 254.0h1v1h-1zM477.4 247.2h1v1h-1zM484.1 244.9h1v1h-1zM482.5 264.5h1v1h-1zM483.4 255.5h1v1h-1zM476.9 242.5h1v1h-1zM482.0 262.2h1v1h-1zM476.9 255.1h1v1h-1zM483.9 252.9h1v1h-1zM474.6 253.8h1v1h-1zM490.0 234.1h1v1h-1zM483.1 250.1h1v1h-1zM482.0 251.2h1v1h-1zM475.0 243.2h1v1h-1zM466.7 265.5h1v1h-1zM479.2 257.2h1v1h-1zM490.7 244.8h1v1h-1zM470.2 256.4h1v1h-1zM481.0 259.9h1v1h-1zM468.6 259.4h1v1h-1zM474.9 253.6h1v1h-1zM485.9 252.1h1v1h-1zM473.7 258.3h1v1h-1zM472.2 263.0h1v1h-1zM471.5 262.8h1v1h-1zM482.1 263.6h1v1h-1zM466.1 253.0h1v1h-1zM473.2 239.7h1v1h-1zM488.1 249.6h1v1h-1zM477.5 256.0h1v1h-1zM469.2 245.3h1v1h-1zM468.4 220.6h1v1h-1zM472.8 250.8h1v1h-1zM477.1 262.5h1v1h-1zM476.5 261.3h1v1h-1zM474.1 256.2h1v1h-1zM474.3 254.0h1v1h-1zM482.3 265.4h1v1h-1zM481.2 256.1h1v1h-1zM468.5 228.0h1v1h-1zM486.1 258.5h1v1h-1zM480.1 264.8h1v1h-1zM483.5 231.3h1v1h-1zM477.9 250.1h1v1h-1zM482.4 258.7h1v1h-1zM473.2 256.7h1v1h-1zM483.0 245.7h1v1h-1zM469.1 261.6h1v1h-1zM477.3 248.4h1v1h-1zM487.0 252.5h1v1h-1zM479.8 264.9h1v1h-1zM475.5 252.5h1v1h-1zM468.5 254.6h1v1h-1zM481.7 259.8h1v1h-1zM472.7 252.6h1v1h-1zM475.8 252.0h1v1h-1zM474.7 246.4h1v1h-1zM490.2 246.2h1v1h-1zM483.8 245.3h1v1h-1zM487.5 250.8h1v1h-1zM484.8 258.6h1v1h-1zM484.8 263.4h1v1h-1zM492.4 239.9h1v1h-1zM489.9 253.8h1v1h-1zM474.4 230.7h1v1h-1zM471.9 257.0h1v1h-1zM473.1 247.5h1v1h-1zM487.2 252.4h1v1h-1zM469.2 258.4h1v1h-1zM488.2 253.3h1v1h-1zM476.0 238.8h1v1h-1zM476.4 253.9h1v1h-1zM470.5 232.5h1v1h-1zM472.8 259.4h1v1h-1zM470.4 262.8h1v1h-1zM477.0 243.4h1v1h-1zM468.5 252.2h1v1h-1zM475.6 257.5h1v1h-1zM480.1 255.6h1v1h-1zM472.9 239.6h1v1h-1zM467.7 260.9h1v1h-1zM478.8 235.8h1v1h-1zM478.1 250.0h1v1h-1zM478.5 260.2h1v1h-1zM477.6 231.9h1v1h-1zM477.1 253.7h1v1h-1zM478.8 246.1h1v1h-1zM478.5 263.8h1v1h-1zM486.9 236.5h1v1h-1zM480.3 256.8h1v1h-1zM478.7 263.2h1v1h-1zM475.5 239.6h1v1h-1zM469.9 252.4h1v1h-1zM470.0 239.8h1v1h-1zM482.9 252.5h1v1h-1zM475.6 248.8h1v1h-1zM477.2 258.2h1v1h-1zM486.7 255.5h1v1h-1zM468.2 250.7h1v1h-1zM473.3 242.2h1v1h-1zM476.6 253.1h1v1h-1zM475.7 241.6h1v1h-1zM478.2 256.4h1v1h-1zM485.2 241.1h1v1h-1zM475.3 233.0h1v1h-1zM487.2 248.9h1v1h-1zM484.5 262.4h1v1h-1zM470.2 250.7h1v1h-1zM474.6 241.6h1v1h-1zM479.3 247.0h1v1h-1zM489.1 250.5h1v1h-1zM489.7 262.6h1v1h-1zM479.8 257.4h1v1h-1zM474.2 257.4h1v1h-1zM478.7 263.5h1v1h-1zM473.5 246.5h1v1h-1zM479.7 244.5h1v1h-1zM482.4 230.3h1v1h-1zM472.3 257.7h1v1h-1zM467.7 258.5h1v1h-1zM479.4 260.8h1v1h-1zM467.1 254.3h1v1h-1zM470.8 231.4h1v1h-1zM481.4 261.3h1v1h-1zM479.7 240.6h1v1h-1zM473.4 228.7h1v1h-1zM478.6 248.3h1v1h-1zM477.4 245.3h1v1h-1zM495.6 264.7h1v1h-1zM482.6 262.0h1v1h-1zM472.5 265.9h1v1h-1zM471.5 251.9h1v1h-1zM490.0 232.0h1v1h-1zM471.2 265.9h1v1h-1zM478.3 242.0h1v1h-1zM481.2 226.6h1v1h-1zM471.8 242.3h1v1h-1zM484.1 252.4h1v1h-1zM470.9 259.6h1v1h-1zM485.0 248.6h1v1h-1zM470.9 254.1h1v1h-1zM481.7 263.9h1v1h-1zM489.7 252.0h1v1h-1zM480.7 257.7h1v1h-1zM472.9 222.8h1v1h-1zM483.2 260.6h1v1h-1zM485.2 258.9h1v1h-1zM471.9 255.7h1v1h-1zM471.7 257.4h1v1h-1zM469.2 264.8h1v1h-1zM468.0 262.5h1v1h-1zM470.4 258.3h1v1h-1zM478.1 265.5h1v1h-1zM468.5 241.7h1v1h-1zM478.4 259.9h1v1h-1zM475.0 254.2h1v1h-1zM470.9 235.1h1v1h-1zM474.1 254.9h1v1h-1zM480.5 241.4h1v1h-1zM481.8 241.6h1v1h-1zM479.7 239.8h1v1h-1zM476.4 240.1h1v1h-1zM476.0 245.6h1v1h-1zM477.3 233.1h1v1h-1zM484.9 246.0h1v1h-1zM476.3 260.6h1v1h-1zM475.8 232.1h1v1h-1zM488.1 263.4h1v1h-1zM475.2 256.9h1v1h-1zM483.0 241.7h1v1h-1zM473.1 265.2h1v1h-1zM479.4 265.2h1v1h-1zM486.9 244.3h1v1h-1zM483.8 265.7h1v1h-1zM470.4 259.9h1v1h-1zM474.9 249.0h1v1h-1zM470.6 265.9h1v1h-1zM487.3 238.8h1v1h-1zM491.3 231.3h1v1h-1zM472.3 262.2h1v1h-1zM472.8 265.4h1v1h-1zM467.4 249.1h1v1h-1zM466.5 259.2h1v1h-1zM494.8 252.7h1v1h-1zM473.0 219.7h1v1h-1zM467.1 261.8h1v1h-1zM485.1 260.3h1v1h-1zM475.6 254.7h1v1h-1zM472.4 264.7h1v1h-1zM471.8 256.3h1v1h-1zM477.7 234.2h1v1h-1zM478.4 258.5h1v1h-1zM481.4 253.0h1v1h-1zM474.3 259.0h1v1h-1zM476.0 238.5h1v1h-1zM484.5 253.9h1v1h-1zM474.4 259.5h1v1h-1zM478.2 255.5h1v1h-1zM469.9 249.7h1v1h-1zM485.1 263.6h1v1h-1zM486.4 259.9h1v1h-1zM472.6 259.1h1v1h-1zM480.0 265.4h1v1h-1zM480.7 262.6h1v1h-1zM470.6 253.0h1v1h-1zM469.6 248.1h1v1h-1zM488.6 261.0h1v1h-1zM481.2 256.0h1v1h-1zM475.3 244.4h1v1h-1zM472.0 259.3h1v1h-1zM470.6 261.0h1v1h-1zM478.2 265.3h1v1h-1zM491.1 260.0h1v1h-1zM491.7 248.8h1v1h-1zM482.7 260.6h1v1h-1zM478.4 247.0h1v1h-1zM475.2 264.9h1v1h-1zM482.3 261.0h1v1h-1zM473.8 260.3h1v1h-1zM478.8 255.2h1v1h-1zM474.5 246.9h1v1h-1zM483.7 255.4h1v1h-1zM488.2 254.3h1v1h-1zM473.7 257.7h1v1h-1zM474.5 246.1h1v1h-1zM479.0 260.1h1v1h-1zM486.0 263.1h1v1h-1zM476.5 255.1h1v1h-1zM481.9 255.2h1v1h-1zM484.0 248.2h1v1h-1zM471.6 250.5h1v1h-1zM473.6 240.7h1v1h-1zM469.9 250.7h1v1h-1zM474.7 257.6h1v1h-1zM483.8 261.1h1v1h-1zM471.8 252.6h1v1h-1zM474.7 250.2h1v1h-1zM477.9 239.7h1v1h-1zM472.5 254.9h1v1h-1zM469.7 254.4h1v1h-1zM472.1 262.4h1v1h-1zM476.3 254.4h1v1h-1zM484.6 257.7h1v1h-1zM468.5 257.9h1v1h-1zM474.8 247.8h1v1h-1zM479.5 257.8h1v1h-1zM482.6 240.1h1v1h-1zM485.8 262.3h1v1h-1zM487.5 255.3h1v1h-1zM474.6 256.9h1v1h-1zM474.2 264.5h1v1h-1zM481.3 260.1h1v1h-1zM466.7 262.4h1v1h-1zM479.6 255.3h1v1h-1zM473.4 244.4h1v1h-1zM473.8 262.8h1v1h-1zM477.0 253.6h1v1h-1zM479.6 239.2h1v1h-1zM482.9 252.6h1v1h-1zM493.3 236.9h1v1h-1zM485.2 246.4h1v1h-1zM480.3 241.2h1v1h-1zM475.0 254.5h1v1h-1zM473.6 232.7h1v1h-1zM472.8 263.5h1v1h-1zM488.9 257.8h1v1h-1zM474.6 245.3h1v1h-1zM484.6 234.0h1v1h-1zM470.0 251.1h1v1h-1zM480.1 261.2h1v1h-1zM481.9 258.7h1v1h-1zM473.1 243.6h1v1h-1zM469.3 255.0h1v1h-1zM474.5 259.5h1v1h-1zM477.0 247.8h1v1h-1zM475.7 251.1h1v1h-1zM474.1 242.9h1v1h-1zM488.3 257.2h1v1h-1zM480.2 262.6h1v1h-1zM482.0 260.1h1v1h-1zM485.5 263.3h1v1h-1zM481.5 256.3h1v1h-1zM472.3 265.7h1v1h-1zM477.0 264.0h1v1h-1zM476.5 264.4h1v1h-1zM476.4 244.8h1v1h-1zM478.9 256.5h1v1h-1zM475.8 243.9h1v1h-1zM475.8 251.1h1v1h-1zM475.0 265.7h1v1h-1zM472.9 265.3h1v1h-1zM484.6 217.9h1v1h-1zM477.5 241.5h1v1h-1zM486.3 251.1h1v1h-1zM481.8 241.7h1v1h-1zM469.2 257.2h1v1h-1zM485.5 224.5h1v1h-1zM471.5 253.8h1v1h-1zM474.5 251.9h1v1h-1zM467.8 257.2h1v1h-1zM467.5 247.8h1v1h-1zM484.4 260.6h1v1h-1zM481.1 250.5h1v1h-1zM482.2 261.3h1v1h-1zM482.0 263.2h1v1h-1zM483.5 228.1h1v1h-1zM486.5 246.8h1v1h-1zM475.5 250.6h1v1h-1zM482.2 259.9h1v1h-1zM469.2 252.2h1v1h-1zM476.5 263.3h1v1h-1zM481.4 256.2h1v1h-1zM480.0 250.9h1v1h-1zM478.8 260.5h1v1h-1zM469.3 255.1h1v1h-1zM471.8 260.9h1v1h-1zM466.8 252.4h1v1h-1zM483.1 265.4h1v1h-1zM488.6 259.7h1v1h-1zM480.6 219.4h1v1h-1zM481.3 258.5h1v1h-1zM480.6 263.0h1v1h-1zM476.0 252.7h1v1h-1zM481.0 255.4h1v1h-1zM476.0 257.8h1v1h-1zM479.5 254.5h1v1h-1zM477.2 241.8h1v1h-1zM466.8 257.1h1v1h-1zM480.2 250.6h1v1h-1zM471.0 262.7h1v1h-1zM478.6 256.8h1v1h-1zM478.7 263.6h1v1h-1zM475.4 236.6h1v1h-1zM476.8 254.0h1v1h-1zM477.1 248.0h1v1h-1zM482.0 265.7h1v1h-1zM466.5 253.9h1v1h-1zM479.6 254.8h1v1h-1zM471.5 249.2h1v1h-1zM473.3 246.4h1v1h-1zM471.7 248.3h1v1h-1zM477.9 256.1h1v1h-1zM468.9 253.5h1v1h-1zM476.9 222.0h1v1h-1zM477.7 259.5h1v1h-1zM468.8 264.4h1v1h-1zM481.1 252.5h1v1h-1zM480.7 256.1h1v1h-1zM479.2 246.0h1v1h-1zM478.1 248.0h1v1h-1zM483.1 265.2h1v1h-1zM479.0 242.9h1v1h-1zM478.9 248.7h1v1h-1zM481.9 264.0h1v1h-1zM475.7 248.9h1v1h-1zM479.8 244.3h1v1h-1zM472.0 255.6h1v1h-1zM478.8 251.4h1v1h-1zM470.0 256.2h1v1h-1zM479.9 260.2h1v1h-1zM485.6 265.1h1v1h-1zM478.0 258.0h1v1h-1zM474.1 264.1h1v1h-1zM483.8 264.2h1v1h-1zM477.2 249.6h1v1h-1zM478.8 232.4h1v1h-1zM470.0 261.4h1v1h-1zM469.6 254.3h1v1h-1zM479.1 252.6h1v1h-1zM479.6 251.3h1v1h-1zM469.2 262.2h1v1h-1zM484.5 261.4h1v1h-1zM474.2 259.5h1v1h-1zM473.3 242.8h1v1h-1zM469.9 252.2h1v1h-1zM474.8 253.0h1v1h-1zM476.7 243.0h1v1h-1zM490.9 214.4h1v1h-1zM472.7 251.5h1v1h-1zM472.6 248.2h1v1h-1zM483.6 263.9h1v1h-1zM471.5 251.5h1v1h-1zM485.3 261.3h1v1h-1zM481.6 265.2h1v1h-1zM480.1 218.5h1v1h-1zM466.3 248.8h1v1h-1zM480.1 259.2h1v1h-1zM480.7 259.1h1v1h-1zM482.5 261.2h1v1h-1zM472.6 265.3h1v1h-1zM491.2 260.1h1v1h-1zM472.5 235.9h1v1h-1zM478.0 263.8h1v1h-1zM472.3 245.5h1v1h-1zM478.0 255.3h1v1h-1zM466.6 247.1h1v1h-1zM480.0 252.6h1v1h-1zM475.9 243.9h1v1h-1zM482.9 265.4h1v1h-1zM469.6 264.1h1v1h-1zM476.6 250.6h1v1h-1zM474.3 263.2h1v1h-1zM482.4 244.6h1v1h-1zM483.0 259.3h1v1h-1zM482.8 263.6h1v1h-1zM489.6 258.9h1v1h-1zM472.5 260.6h1v1h-1zM468.0 265.6h1v1h-1zM467.4 241.9h1v1h-1zM476.0 245.9h1v1h-1zM479.1 255.3h1v1h-1zM474.7 257.5h1v1h-1zM488.8 249.8h1v1h-1zM469.4 247.0h1v1h-1zM483.7 243.9h1v1h-1zM479.1 264.6h1v1h-1zM469.7 263.6h1v1h-1zM478.4 231.7h1v1h-1zM477.4 263.2h1v1h-1zM466.7 257.4h1v1h-1zM474.0 257.7h1v1h-1zM468.7 248.0h1v1h-1zM475.3 245.4h1v1h-1zM489.1 257.0h1v1h-1zM472.5 262.2h1v1h-1zM473.7 254.7h1v1h-1zM490.5 238.2h1v1h-1zM479.9 263.8h1v1h-1zM484.7 265.5h1v1h-1zM489.6 254.1h1v1h-1zM473.0 259.2h1v1h-1zM480.2 261.6h1v1h-1zM487.4 265.0h1v1h-1zM480.0 253.9h1v1h-1zM482.1 251.3h1v1h-1zM476.5 230.7h1v1h-1zM487.7 264.6h1v1h-1zM469.4 258.3h1v1h-1zM480.0 257.0h1v1h-1zM483.5 262.9h1v1h-1zM474.4 257.6h1v1h-1zM477.6 255.5h1v1h-1zM473.2 253.0h1v1h-1zM466.4 254.2h1v1h-1zM480.9 257.7h1v1h-1zM479.3 245.7h1v1h-1zM468.2 238.1h1v1h-1zM491.6 254.1h1v1h-1zM473.6 243.4h1v1h-1zM474.5 260.2h1v1h-1zM482.9 264.5h1v1h-1zM469.1 247.8h1v1h-1zM480.5 253.7h1v1h-1zM482.3 265.2h1v1h-1zM481.1 241.8h1v1h-1zM475.3 248.3h1v1h-1zM475.7 259.4h1v1h-1zM470.6 256.3h1v1h-1zM476.4 246.0h1v1h-1zM477.5 262.4h1v1h-1zM470.5 255.4h1v1h-1zM489.4 259.0h1v1h-1zM472.7 250.7h1v1h-1zM473.9 249.3h1v1h-1zM485.4 217.1h1v1h-1zM472.8 237.0h1v1h-1zM480.4 265.0h1v1h-1zM473.9 263.9h1v1h-1zM474.8 238.8h1v1h-1zM484.4 249.5h1v1h-1zM476.3 238.7h1v1h-1zM474.9 264.0h1v1h-1zM487.8 253.7h1v1h-1zM482.2 263.3h1v1h-1zM481.6 263.6h1v1h-1zM482.3 255.0h1v1h-1zM490.2 252.2h1v1h-1zM483.2 258.4h1v1h-1zM467.2 244.7h1v1h-1zM491.4 238.4h1v1h-1zM471.4 252.7h1v1h-1zM488.6 265.3h1v1h-1zM475.6 249.1h1v1h-1zM484.5 228.3h1v1h-1zM472.3 259.8h1v1h-1zM476.7 265.8h1v1h-1zM474.1 249.7h1v1h-1zM477.0 246.2h1v1h-1zM481.3 265.2h1v1h-1zM489.0 264.8h1v1h-1zM476.8 253.8h1v1h-1zM492.7 265.7h1v1h-1zM482.7 234.2h1v1h-1zM481.4 261.9h1v1h-1zM470.6 266.0h1v1h-1zM475.6 252.9h1v1h-1zM479.7 261.8h1v1h-1zM474.1 235.9h1v1h-1zM480.7 265.8h1v1h-1zM479.2 262.1h1v1h-1zM478.5 263.0h1v1h-1zM486.0 260.3h1v1h-1zM472.2 252.8h1v1h-1zM476.4 260.8h1v1h-1zM476.9 257.7h1v1h-1zM474.8 257.6h1v1h-1zM475.5 255.5h1v1h-1zM478.9 249.3h1v1h-1zM467.6 242.3h1v1h-1zM479.4 259.7h1v1h-1zM481.6 222.3h1v1h-1zM476.0 241.5h1v1h-1zM481.0 257.9h1v1h-1zM485.5 265.4h1v1h-1zM488.1 253.4h1v1h-1zM477.2 237.7h1v1h-1zM485.8 253.1h1v1h-1zM480.5 265.8h1v1h-1zM475.3 257.5h1v1h-1zM475.0 250.4h1v1h-1zM475.2 248.2h1v1h-1zM472.1 250.9h1v1h-1zM466.5 255.9h1v1h-1zM482.2 263.1h1v1h-1zM473.8 255.7h1v1h-1zM474.8 246.2h1v1h-1zM491.8 247.9h1v1h-1zM469.2 250.8h1v1h-1zM471.4 263.7h1v1h-1zM475.2 259.4h1v1h-1zM480.4 254.0h1v1h-1zM473.0 257.1h1v1h-1zM474.6 263.4h1v1h-1zM492.5 264.7h1v1h-1zM469.7 248.6h1v1h-1zM485.1 251.8h1v1h-1zM486.0 263.5h1v1h-1zM489.5 234.3h1v1h-1zM483.9 265.6h1v1h-1zM475.8 247.8h1v1h-1zM490.1 262.1h1v1h-1zM471.7 261.0h1v1h-1zM487.7 259.9h1v1h-1zM479.0 252.0h1v1h-1zM484.4 261.3h1v1h-1zM485.5 260.8h1v1h-1zM485.0 215.0h1v1h-1zM474.9 243.7h1v1h-1zM477.5 260.5h1v1h-1zM480.6 254.8h1v1h-1zM483.2 223.9h1v1h-1zM476.3 243.6h1v1h-1zM488.1 265.5h1v1h-1zM474.4 257.0h1v1h-1zM473.7 259.0h1v1h-1zM476.5 251.5h1v1h-1zM472.1 257.2h1v1h-1zM476.6 239.4h1v1h-1zM477.9 223.3h1v1h-1zM470.2 232.0h1v1h-1zM473.7 249.4h1v1h-1zM485.5 239.5h1v1h-1zM468.5 258.3h1v1h-1zM483.7 263.0h1v1h-1zM472.0 245.2h1v1h-1zM486.8 256.3h1v1h-1zM470.5 239.3h1v1h-1zM478.2 257.2h1v1h-1zM479.6 261.0h1v1h-1zM479.5 251.6h1v1h-1zM466.5 243.1h1v1h-1zM474.8 258.6h1v1h-1zM477.0 262.7h1v1h-1zM480.3 261.5h1v1h-1zM481.9 263.3h1v1h-1zM475.2 255.9h1v1h-1zM471.5 264.4h1v1h-1zM479.9 252.4h1v1h-1zM476.0 259.9h1v1h-1zM477.0 255.6h1v1h-1zM483.6 250.7h1v1h-1zM481.2 255.8h1v1h-1zM469.1 251.5h1v1h-1zM484.2 259.8h1v1h-1zM478.9 247.1h1v1h-1zM477.5 262.0h1v1h-1zM482.1 241.8h1v1h-1zM487.2 252.4h1v1h-1zM485.3 261.6h1v1h-1zM469.8 254.7h1v1h-1zM473.9 257.2h1v1h-1zM467.3 244.6h1v1h-1zM482.1 255.7h1v1h-1zM483.2 260.1h1v1h-1zM484.4 252.5h1v1h-1zM467.6 265.4h1v1h-1zM479.1 232.1h1v1h-1zM481.8 245.6h1v1h-1zM473.9 265.6h1v1h-1zM467.1 227.9h1v1h-1zM471.5 265.8h1v1h-1zM481.3 262.6h1v1h-1zM468.1 249.0h1v1h-1zM467.8 262.9h1v1h-1zM480.7 263.5h1v1h-1zM474.2 254.4h1v1h-1zM477.2 247.9h1v1h-1zM482.9 252.3h1v1h-1zM469.8 234.6h1v1h-1zM482.5 257.6h1v1h-1zM470.4 246.5h1v1h-1zM469.5 264.8h1v1h-1zM475.5 241.3h1v1h-1zM478.7 258.4h1v1h-1zM471.3 263.5h1v1h-1zM484.3 252.5h1v1h-1zM467.1 260.2h1v1h-1zM480.4 260.6h1v1h-1zM491.7 258.5h1v1h-1zM479.4 260.0h1v1h-1zM478.9 265.3h1v1h-1zM476.0 253.6h1v1h-1zM480.4 256.3h1v1h-1zM478.2 234.4h1v1h-1zM476.1 237.7h1v1h-1zM483.8 239.9h1v1h-1zM469.5 264.7h1v1h-1zM468.0 241.1h1v1h-1zM476.2 231.3h1v1h-1zM469.4 259.9h1v1h-1zM472.3 250.7h1v1h-1zM482.8 255.6h1v1h-1zM476.0 253.7h1v1h-1zM468.6 255.4h1v1h-1zM474.2 249.6h1v1h-1zM469.8 255.1h1v1h-1zM468.6 257.5h1v1h-1zM475.5 221.6h1v1h-1zM474.8 263.3h1v1h-1zM476.3 263.8h1v1h-1zM481.9 262.1h1v1h-1zM472.4 243.6h1v1h-1zM492.8 252.2h1v1h-1zM483.5 263.6h1v1h-1zM488.6 244.7h1v1h-1zM481.3 266.0h1v1h-1zM494.6 256.0h1v1h-1zM486.2 228.4h1v1h-1zM480.0 242.8h1v1h-1zM470.2 257.1h1v1h-1zM491.0 259.9h1v1h-1zM471.4 245.9h1v1h-1zM481.4 256.3h1v1h-1zM478.9 258.0h1v1h-1zM471.5 254.3h1v1h-1zM476.5 259.6h1v1h-1zM466.1 253.6h1v1h-1zM469.5 247.6h1v1h-1zM487.1 249.5h1v1h-1zM473.0 265.2h1v1h-1zM495.7 262.3h1v1h-1zM482.2 263.5h1v1h-1zM476.7 260.7h1v1h-1zM478.6 243.0h1v1h-1zM472.2 244.7h1v1h-1zM474.2 221.0h1v1h-1zM480.9 264.5h1v1h-1zM472.8 250.3h1v1h-1zM471.0 265.4h1v1h-1zM475.7 261.1h1v1h-1zM489.1 256.9h1v1h-1zM477.4 247.6h1v1h-1zM480.9 248.7h1v1h-1zM486.3 239.7h1v1h-1zM480.7 229.2h1v1h-1zM467.3 262.2h1v1h-1zM483.2 263.8h1v1h-1zM470.9 253.8h1v1h-1zM474.6 258.9h1v1h-1zM473.2 265.7h1v1h-1zM471.4 244.0h1v1h-1zM482.3 263.6h1v1h-1zM473.6 262.5h1v1h-1zM481.3 265.2h1v1h-1zM466.6 261.7h1v1h-1zM485.2 252.2h1v1h-1zM477.2 257.4h1v1h-1zM473.8 264.7h1v1h-1zM472.4 243.9h1v1h-1zM480.8 263.6h1v1h-1zM487.2 263.7h1v1h-1zM478.3 248.5h1v1h-1zM483.3 256.7h1v1h-1zM467.5 251.6h1v1h-1zM469.1 262.2h1v1h-1zM472.1 261.4h1v1h-1zM481.4 260.9h1v1h-1zM478.7 257.0h1v1h-1zM480.7 238.5h1v1h-1zM471.9 263.7h1v1h-1zM491.7 262.4h1v1h-1zM473.1 258.5h1v1h-1zM474.5 257.0h1v1h-1zM477.8 237.6h1v1h-1zM479.0 245.5h1v1h-1zM466.5 264.7h1v1h-1zM477.7 257.7h1v1h-1zM471.7 253.1h1v1h-1zM486.0 253.1h1v1h-1zM475.8 263.1h1v1h-1zM479.8 259.3h1v1h-1zM478.2 254.8h1v1h-1zM476.1 248.0h1v1h-1zM480.5 240.9h1v1h-1zM483.2 254.4h1v1h-1zM483.6 259.8h1v1h-1zM468.6 245.7h1v1h-1zM490.2 256.7h1v1h-1zM484.7 237.0h1v1h-1zM481.1 252.3h1v1h-1zM471.0 232.4h1v1h-1zM475.6 262.6h1v1h-1zM480.0 262.3h1v1h-1zM481.7 229.6h1v1h-1zM487.9 239.4h1v1h-1zM472.7 248.2h1v1h-1zM479.4 262.5h1v1h-1zM491.6 252.8h1v1h-1zM476.9 239.8h1v1h-1zM483.0 257.8h1v1h-1zM479.1 253.6h1v1h-1zM489.0 254.1h1v1h-1zM485.0 265.3h1v1h-1zM480.3 262.3h1v1h-1zM467.8 258.8h1v1h-1zM484.3 253.2h1v1h-1zM466.4 247.8h1v1h-1zM471.7 265.3h1v1h-1zM484.1 259.9h1v1h-1zM466.7 241.8h1v1h-1zM482.2 257.1h1v1h-1zM481.4 233.4h1v1h-1zM487.7 250.4h1v1h-1zM473.3 232.9h1v1h-1zM489.0 264.2h1v1h-1zM482.3 254.3h1v1h-1zM483.6 263.3h1v1h-1zM485.9 265.3h1v1h-1zM472.1 254.1h1v1h-1zM483.2 253.1h1v1h-1zM481.5 261.1h1v1h-1zM480.1 248.3h1v1h-1zM484.9 250.8h1v1h-1zM469.0 254.9h1v1h-1zM470.6 255.6h1v1h-1zM491.6 249.6h1v1h-1zM483.8 250.8h1v1h-1zM476.1 265.1h1v1h-1zM473.6 257.0h1v1h-1zM482.9 248.6h1v1h-1zM483.1 239.8h1v1h-1zM484.6 249.2h1v1h-1zM488.4 240.2h1v1h-1zM481.8 257.7h1v1h-1zM480.3 248.9h1v1h-1zM470.9 264.4h1v1h-1zM468.6 257.5h1v1h-1zM481.8 244.1h1v1h-1zM468.1 254.1h1v1h-1zM472.2 232.7h1v1h-1zM485.8 265.0h1v1h-1zM481.0 261.2h1v1h-1zM482.2 253.5h1v1h-1zM480.4 263.6h1v1h-1zM477.5 256.9h1v1h-1zM484.0 249.6h1v1h-1zM479.7 247.5h1v1h-1zM471.3 236.2h1v1h-1zM472.4 264.5h1v1h-1zM477.1 247.3h1v1h-1zM480.4 259.6h1v1h-1zM471.8 248.6h1v1h-1zM485.7 249.5h1v1h-1zM475.1 253.0h1v1h-1zM483.4 244.1h1v1h-1zM472.1 262.5h1v1h-1zM475.4 260.7h1v1h-1zM471.6 254.5h1v1h-1zM480.3 261.5h1v1h-1zM469.9 250.6h1v1h-1zM478.0 252.2h1v1h-1zM477.1 244.1h1v1h-1zM488.4 222.2h1v1h-1zM471.7 227.3h1v1h-1zM472.4 261.9h1v1h-1zM470.5 258.9h1v1h-1zM478.2 261.4h1v1h-1zM467.0 265.0h1v1h-1zM481.0 243.0h1v1h-1zM500.8 256.7h1v1h-1zM476.0 257.0h1v1h-1zM487.1 257.7h1v1h-1zM480.9 264.9h1v1h-1zM481.8 257.1h1v1h-1zM479.6 261.5h1v1h-1zM484.3 265.3h1v1h-1zM477.4 265.5h1v1h-1zM475.0 232.6h1v1h-1zM478.9 257.1h1v1h-1zM473.1 253.3h1v1h-1zM481.3 265.6h1v1h-1zM479.1 262.8h1v1h-1zM480.2 264.0h1v1h-1zM483.1 249.2h1v1h-1zM482.8 261.7h1v1h-1zM485.0 261.0h1v1h-1zM478.6 242.8h1v1h-1zM479.8 258.5h1v1h-1zM481.3 258.7h1v1h-1zM479.2 253.1h1v1h-1zM472.0 249.2h1v1h-1zM482.0 258.5h1v1h-1zM473.6 235.5h1v1h-1zM467.5 250.5h1v1h-1zM478.6 235.3h1v1h-1zM473.3 244.1h1v1h-1zM479.2 229.8h1v1h-1zM479.1 234.0h1v1h-1zM473.1 255.9h1v1h-1zM475.6 254.6h1v1h-1zM476.0 262.2h1v1h-1zM482.0 227.7h1v1h-1zM476.5 256.3h1v1h-1zM483.4 254.3h1v1h-1zM473.0 265.7h1v1h-1zM485.3 246.6h1v1h-1zM473.1 260.2h1v1h-1zM473.7 230.1h1v1h-1zM476.3 240.7h1v1h-1zM471.7 261.5h1v1h-1zM469.9 258.3h1v1h-1zM467.0 248.9h1v1h-1zM480.1 255.1h1v1h-1zM476.4 258.4h1v1h-1zM469.1 260.5h1v1h-1zM472.8 255.2h1v1h-1zM478.1 259.2h1v1h-1zM466.6 259.9h1v1h-1zM477.1 253.7h1v1h-1zM484.3 265.5h1v1h-1zM470.7 248.2h1v1h-1zM481.4 254.4h1v1h-1zM472.1 266.0h1v1h-1zM483.4 264.6h1v1h-1zM489.7 248.2h1v1h-1zM484.5 256.3h1v1h-1zM475.5 263.3h1v1h-1zM487.2 243.2h1v1h-1zM481.5 259.1h1v1h-1zM479.6 247.5h1v1h-1zM484.3 248.4h1v1h-1zM472.3 257.9h1v1h-1zM482.4 259.5h1v1h-1zM481.4 250.1h1v1h-1zM473.3 261.6h1v1h-1zM482.0 248.9h1v1h-1zM471.0 256.0h1v1h-1zM473.3 259.3h1v1h-1zM488.3 243.3h1v1h-1zM478.0 244.8h1v1h-1zM474.3 263.7h1v1h-1zM477.5 265.6h1v1h-1zM472.6 246.2h1v1h-1zM481.8 261.6h1v1h-1zM471.9 252.5h1v1h-1zM478.4 254.4h1v1h-1zM487.5 265.9h1v1h-1zM480.4 245.7h1v1h-1zM491.2 264.0h1v1h-1zM482.8 224.9h1v1h-1zM470.5 265.2h1v1h-1zM474.7 261.9h1v1h-1zM477.2 261.6h1v1h-1zM481.5 256.3h1v1h-1zM471.1 256.3h1v1h-1zM470.5 257.2h1v1h-1zM481.6 250.1h1v1h-1zM479.3 224.7h1v1h-1zM471.4 261.0h1v1h-1zM475.7 237.9h1v1h-1zM481.7 264.5h1v1h-1zM476.8 259.2h1v1h-1zM479.6 238.2h1v1h-1zM475.4 258.1h1v1h-1zM478.9 262.3h1v1h-1zM473.4 259.1h1v1h-1zM478.6 251.6h1v1h-1zM481.4 236.2h1v1h-1zM473.4 252.1h1v1h-1zM477.2 248.6h1v1h-1zM480.9 260.3h1v1h-1zM482.4 243.8h1v1h-1zM475.1 256.6h1v1h-1zM468.7 260.3h1v1h-1zM487.1 260.8h1v1h-1zM476.4 259.7h1v1h-1zM471.6 260.5h1v1h-1zM486.7 261.9h1v1h-1zM473.6 261.5h1v1h-1zM484.8 262.3h1v1h-1zM485.0 264.1h1v1h-1zM476.9 257.7h1v1h-1zM479.1 256.7h1v1h-1zM485.1 249.9h1v1h-1zM474.4 243.4h1v1h-1zM473.1 239.9h1v1h-1zM480.8 247.9h1v1h-1zM472.2 260.9h1v1h-1zM474.4 265.9h1v1h-1zM473.6 262.2h1v1h-1zM479.6 256.6h1v1h-1zM482.5 246.0h1v1h-1zM480.9 253.9h1v1h-1zM488.2 260.2h1v1h-1zM466.8 251.7h1v1h-1zM479.6 263.3h1v1h-1zM481.8 245.4h1v1h-1zM476.9 250.7h1v1h-1zM481.9 253.8h1v1h-1zM477.3 252.3h1v1h-1zM480.7 239.3h1v1h-1zM468.2 263.5h1v1h-1zM484.5 260.7h1v1h-1zM494.0 255.2h1v1h-1zM483.1 249.2h1v1h-1zM477.6 265.2h1v1h-1zM477.3 256.4h1v1h-1zM483.7 253.7h1v1h-1zM478.0 253.8h1v1h-1zM479.1 263.4h1v1h-1zM479.7 258.3h1v1h-1zM474.1 241.8h1v1h-1zM474.8 248.1h1v1h-1zM477.7 244.5h1v1h-1zM472.7 256.9h1v1h-1zM466.2 229.4h1v1h-1zM478.3 232.6h1v1h-1zM481.6 254.7h1v1h-1zM483.8 265.0h1v1h-1zM472.9 265.0h1v1h-1zM477.0 226.6h1v1h-1zM481.0 264.6h1v1h-1zM484.2 239.3h1v1h-1zM488.2 234.6h1v1h-1zM476.4 265.4h1v1h-1zM486.3 262.1h1v1h-1zM468.2 255.4h1v1h-1zM473.9 264.8h1v1h-1zM476.6 255.4h1v1h-1zM486.0 235.5h1v1h-1zM493.8 246.7h1v1h-1zM479.4 253.8h1v1h-1zM469.2 241.6h1v1h-1zM466.7 253.6h1v1h-1zM490.5 257.6h1v1h-1zM486.7 254.8h1v1h-1zM485.4 250.9h1v1h-1zM498.5 259.4h1v1h-1zM471.0 259.8h1v1h-1zM466.9 249.2h1v1h-1zM477.8 215.4h1v1h-1zM496.4 248.4h1v1h-1zM482.8 259.5h1v1h-1zM476.0 247.7h1v1h-1zM473.3 258.2h1v1h-1zM473.3 259.4h1v1h-1zM482.1 256.9h1v1h-1zM478.0 251.1h1v1h-1zM473.1 262.4h1v1h-1zM485.2 262.3h1v1h-1zM471.4 265.6h1v1h-1zM480.5 257.1h1v1h-1zM482.2 264.3h1v1h-1zM472.0 252.9h1v1h-1zM478.9 230.9h1v1h-1zM474.3 262.4h1v1h-1zM482.2 256.7h1v1h-1zM478.2 260.0h1v1h-1zM470.1 246.6h1v1h-1zM486.5 244.8h1v1h-1zM495.1 263.1h1v1h-1zM471.2 249.2h1v1h-1zM480.3 251.3h1v1h-1zM480.5 254.6h1v1h-1zM481.8 249.1h1v1h-1zM474.0 259.4h1v1h-1zM474.6 249.9h1v1h-1zM478.6 260.2h1v1h-1zM480.1 252.2h1v1h-1zM482.9 262.9h1v1h-1zM482.8 228.2h1v1h-1zM474.2 252.4h1v1h-1zM477.7 247.9h1v1h-1zM478.8 263.3h1v1h-1zM479.9 244.8h1v1h-1zM478.6 251.5h1v1h-1zM486.2 263.9h1v1h-1zM475.1 248.2h1v1h-1zM479.6 250.9h1v1h-1zM471.5 266.0h1v1h-1zM483.4 264.6h1v1h-1zM470.1 256.0h1v1h-1zM476.1 254.6h1v1h-1zM471.2 239.5h1v1h-1zM477.2 251.6h1v1h-1zM473.1 254.9h1v1h-1zM478.1 262.9h1v1h-1zM470.0 264.3h1v1h-1zM480.1 246.9h1v1h-1zM473.0 261.2h1v1h-1zM486.6 243.7h1v1h-1zM487.6 246.4h1v1h-1zM470.6 254.4h1v1h-1zM469.3 243.3h1v1h-1zM470.4 257.6h1v1h-1zM469.3 250.2h1v1h-1zM470.9 262.5h1v1h-1zM471.4 251.0h1v1h-1zM482.6 260.3h1v1h-1zM495.2 261.5h1v1h-1zM491.6 262.5h1v1h-1zM481.0 254.7h1v1h-1zM474.1 244.4h1v1h-1zM476.6 256.2h1v1h-1zM480.6 252.9h1v1h-1zM482.3 253.4h1v1h-1zM475.9 259.4h1v1h-1zM470.3 257.1h1v1h-1zM490.2 255.8h1v1h-1zM477.9 226.8h1v1h-1zM480.1 236.2h1v1h-1zM474.0 260.6h1v1h-1zM476.8 265.2h1v1h-1zM476.2 258.9h1v1h-1zM486.7 265.9h1v1h-1zM481.0 249.2h1v1h-1zM481.0 257.2h1v1h-1zM476.3 261.2h1v1h-1zM476.5 259.9h1v1h-1zM486.9 256.0h1v1h-1zM483.9 244.6h1v1h-1zM487.8 258.5h1v1h-1zM492.7 229.7h1v1h-1zM468.1 262.8h1v1h-1zM487.4 226.8h1v1h-1zM475.2 262.8h1v1h-1zM479.5 244.9h1v1h-1zM490.5 264.3h1v1h-1zM476.1 251.8h1v1h-1zM475.1 234.1h1v1h-1zM484.2 237.2h1v1h-1zM469.5 254.5h1v1h-1zM482.7 250.7h1v1h-1zM471.6 255.8h1v1h-1zM477.8 265.9h1v1h-1zM481.4 263.2h1v1h-1zM490.2 243.6h1v1h-1zM482.9 256.1h1v1h-1zM488.3 256.1h1v1h-1zM471.6 245.9h1v1h-1zM478.8 236.3h1v1h-1zM468.4 228.4h1v1h-1zM469.7 249.7h1v1h-1zM478.1 253.2h1v1h-1zM478.1 265.4h1v1h-1zM477.1 260.2h1v1h-1zM478.3 264.1h1v1h-1zM491.4 260.8h1v1h-1zM475.3 251.3h1v1h-1zM472.8 254.5h1v1h-1zM478.9 250.5h1v1h-1zM475.4 262.3h1v1h-1zM475.9 250.3h1v1h-1zM470.7 259.9h1v1h-1zM485.4 235.2h1v1h-1zM471.1 252.7h1v1h-1zM469.3 263.6h1v1h-1zM470.5 242.0h1v1h-1zM473.1 248.1h1v1h-1zM472.1 256.2h1v1h-1zM481.3 257.6h1v1h-1zM470.7 252.5h1v1h-1zM479.5 262.0h1v1h-1zM486.5 259.9h1v1h-1zM473.8 255.7h1v1h-1zM470.0 251.7h1v1h-1zM477.6 254.5h1v1h-1zM483.4 241.3h1v1h-1zM468.5 250.2h1v1h-1zM487.0 243.7h1v1h-1zM487.6 249.4h1v1h-1zM477.5 260.4h1v1h-1zM468.8 259.4h1v1h-1zM476.9 247.0h1v1h-1zM482.0 247.1h1v1h-1zM476.9 263.7h1v1h-1zM482.3 237.2h1v1h-1zM470.4 232.1h1v1h-1zM489.1 262.2h1v1h-1zM475.0 253.3h1v1h-1zM470.5 249.8h1v1h-1zM476.3 266.0h1v1h-1zM477.4 256.9h1v1h-1zM474.6 259.1h1v1h-1zM473.6 256.6h1v1h-1zM472.8 258.6h1v1h-1zM466.6 247.7h1v1h-1zM473.3 259.5h1v1h-1zM480.3 263.5h1v1h-1zM476.3 247.8h1v1h-1zM476.9 253.7h1v1h-1zM486.0 260.6h1v1h-1zM488.1 251.1h1v1h-1zM489.6 265.1h1v1h-1zM479.9 261.3h1v1h-1zM480.8 258.0h1v1h-1zM481.5 251.8h1v1h-1zM475.8 245.7h1v1h-1zM484.2 261.5h1v1h-1zM478.3 257.6h1v1h-1zM472.5 263.1h1v1h-1zM483.6 256.9h1v1h-1zM478.1 261.9h1v1h-1zM489.4 253.9h1v1h-1zM475.2 245.1h1v1h-1zM474.8 261.6h1v1h-1zM473.3 258.5h1v1h-1zM489.9 265.1h1v1h-1zM476.8 263.3h1v1h-1zM472.7 247.7h1v1h-1zM481.4 241.1h1v1h-1zM484.6 260.2h1v1h-1zM472.2 255.5h1v1h-1zM475.1 265.5h1v1h-1zM473.6 260.6h1v1h-1zM479.9 249.6h1v1h-1zM481.2 256.6h1v1h-1zM491.7 245.5h1v1h-1zM470.6 243.5h1v1h-1zM476.3 258.5h1v1h-1zM483.8 251.0h1v1h-1zM474.8 236.8h1v1h-1zM481.7 240.3h1v1h-1zM476.2 258.9h1v1h-1zM472.4 257.2h1v1h-1zM479.2 239.1h1v1h-1zM477.0 264.2h1v1h-1zM471.2 249.7h1v1h-1zM479.7 251.5h1v1h-1zM489.4 250.5h1v1h-1zM472.1 263.9h1v1h-1zM476.1 238.9h1v1h-1zM473.4 222.9h1v1h-1zM468.1 250.7h1v1h-1zM486.6 253.8h1v1h-1zM475.1 252.3h1v1h-1zM483.6 260.8h1v1h-1zM473.8 227.8h1v1h-1zM485.3 252.7h1v1h-1zM477.6 258.2h1v1h-1zM480.8 237.6h1v1h-1zM472.2 249.0h1v1h-1zM474.5 261.9h1v1h-1zM477.0 247.9h1v1h-1zM481.1 261.8h1v1h-1zM476.9 265.1h1v1h-1zM475.2 256.8h1v1h-1zM476.2 259.7h1v1h-1zM467.7 262.8h1v1h-1zM484.5 258.6h1v1h-1zM479.0 263.1h1v1h-1zM478.5 256.1h1v1h-1zM475.2 258.6h1v1h-1zM466.3 254.8h1v1h-1zM481.1 249.1h1v1h-1zM484.6 233.8h1v1h-1zM478.3 238.3h1v1h-1zM482.3 260.6h1v1h-1zM485.0 258.4h1v1h-1zM474.2 264.1h1v1h-1zM469.7 258.6h1v1h-1zM483.8 264.9h1v1h-1zM476.5 261.3h1v1h-1zM468.7 253.7h1v1h-1zM490.7 247.8h1v1h-1zM479.2 251.7h1v1h-1zM488.9 247.0h1v1h-1zM490.1 244.6h1v1h-1zM489.8 244.4h1v1h-1zM480.3 245.6h1v1h-1zM475.0 257.1h1v1h-1zM474.7 245.9h1v1h-1zM476.6 263.3h1v1h-1zM472.0 240.9h1v1h-1zM476.8 256.3h1v1h-1zM477.9 252.2h1v1h-1zM470.8 232.8h1v1h-1zM473.9 260.9h1v1h-1zM478.4 262.4h1v1h-1zM488.7 265.1h1v1h-1zM466.3 240.8h1v1h-1zM489.1 260.9h1v1h-1zM481.1 255.7h1v1h-1zM479.0 265.2h1v1h-1zM470.8 255.0h1v1h-1zM474.1 248.1h1v1h-1zM474.4 249.1h1v1h-1zM488.1 256.7h1v1h-1zM466.0 257.1h1v1h-1zM479.2 253.8h1v1h-1zM478.0 246.3h1v1h-1zM485.3 256.0h1v1h-1zM486.9 265.0h1v1h-1zM476.2 233.9h1v1h-1zM476.1 248.1h1v1h-1zM466.1 232.7h1v1h-1zM478.8 258.8h1v1h-1zM488.1 261.1h1v1h-1zM475.9 256.6h1v1h-1zM487.1 260.0h1v1h-1zM474.3 234.6h1v1h-1zM482.0 230.9h1v1h-1zM469.6 240.1h1v1h-1zM476.6 249.0h1v1h-1zM473.4 228.2h1v1h-1zM473.3 250.2h1v1h-1zM475.4 261.7h1v1h-1zM485.3 240.6h1v1h-1zM482.9 247.1h1v1h-1zM472.4 249.7h1v1h-1zM481.3 253.4h1v1h-1zM483.3 257.4h1v1h-1zM467.5 258.2h1v1h-1zM477.8 236.7h1v1h-1zM471.1 262.4h1v1h-1zM477.2 260.3h1v1h-1zM470.7 254.8h1v1h-1zM480.8 256.0h1v1h-1zM470.1 242.3h1v1h-1zM481.9 257.9h1v1h-1zM476.9 265.6h1v1h-1zM485.9 255.9h1v1h-1zM470.4 265.6h1v1h-1zM480.6 244.8h1v1h-1zM467.4 238.2h1v1h-1zM473.1 258.0h1v1h-1zM482.9 259.2h1v1h-1zM472.7 246.6h1v1h-1zM477.9 259.8h1v1h-1zM477.4 258.6h1v1h-1zM474.1 241.9h1v1h-1zM494.5 252.6h1v1h-1zM487.8 238.5h1v1h-1zM473.8 264.7h1v1h-1zM481.3 263.0h1v1h-1zM484.5 246.6h1v1h-1zM475.6 262.3h1v1h-1zM475.9 255.5h1v1h-1zM470.2 251.6h1v1h-1zM481.8 261.3h1v1h-1zM483.9 262.5h1v1h-1zM481.9 244.5h1v1h-1zM475.1 258.8h1v1h-1zM479.7 263.5h1v1h-1zM474.1 251.7h1v1h-1zM485.1 261.7h1v1h-1zM473.1 265.1h1v1h-1zM477.5 240.7h1v1h-1zM478.4 265.7h1v1h-1zM476.4 264.9h1v1h-1zM478.8 255.5h1v1h-1zM480.4 256.9h1v1h-1zM489.0 249.0h1v1h-1zM483.0 252.6h1v1h-1zM485.0 260.3h1v1h-1zM480.4 254.6h1v1h-1zM476.6 244.2h1v1h-1zM480.1 246.5h1v1h-1zM476.9 249.2h1v1h-1zM483.9 258.9h1v1h-1zM468.5 244.4h1v1h-1zM485.6 248.3h1v1h-1zM480.4 231.4h1v1h-1zM472.7 265.7h1v1h-1zM471.9 251.0h1v1h-1zM483.3 263.5h1v1h-1zM478.7 249.3h1v1h-1zM476.6 261.8h1v1h-1zM480.1 230.8h1v1h-1zM478.5 254.0h1v1h-1zM483.9 240.7h1v1h-1zM472.9 256.3h1v1h-1zM473.9 253.8h1v1h-1zM481.9 248.5h1v1h-1zM482.0 250.5h1v1h-1zM471.0 265.1h1v1h-1zM488.2 263.3h1v1h-1zM479.7 245.8h1v1h-1zM477.5 251.3h1v1h-1zM473.3 257.7h1v1h-1zM475.5 262.4h1v1h-1zM486.0 251.6h1v1h-1zM481.7 251.6h1v1h-1zM474.5 262.4h1v1h-1zM477.1 264.5h1v1h-1zM484.3 232.0h1v1h-1zM482.7 243.0h1v1h-1zM477.6 234.8h1v1h-1zM482.5 225.3h1v1h-1zM489.0 217.7h1v1h-1zM475.8 226.4h1v1h-1zM473.2 220.7h1v1h-1zM485.9 231.3h1v1h-1zM481.2 238.6h1v1h-1zM492.3 241.3h1v1h-1zM481.6 226.5h1v1h-1zM472.4 223.2h1v1h-1zM482.2 225.5h1v1h-1zM484.5 245.0h1v1h-1zM481.7 247.6h1v1h-1zM478.5 229.2h1v1h-1zM488.2 246.0h1v1h-1zM478.8 221.6h1v1h-1zM486.5 239.8h1v1h-1zM476.0 232.3h1v1h-1zM474.9 226.2h1v1h-1zM490.0 223.0h1v1h-1zM491.8 218.0h1v1h-1zM481.2 242.3h1v1h-1zM485.2 253.4h1v1h-1zM482.9 244.0h1v1h-1zM474.8 212.7h1v1h-1zM484.1 230.2h1v1h-1zM483.9 249.1h1v1h-1zM491.9 239.6h1v1h-1zM471.9 233.8h1v1h-1zM466.8 233.9h1v1h-1zM477.1 225.1h1v1h-1zM468.6 226.6h1v1h-1zM481.1 232.4h1v1h-1zM476.4 238.1h1v1h-1zM490.4 240.4h1v1h-1zM479.9 230.6h1v1h-1zM472.9 241.2h1v1h-1zM481.0 231.3h1v1h-1zM490.1 241.8h1v1h-1zM485.0 225.0h1v1h-1zM471.9 253.2h1v1h-1zM479.6 240.2h1v1h-1zM488.4 227.0h1v1h-1zM474.5 228.8h1v1h-1zM476.1 237.0h1v1h-1zM490.4 245.5h1v1h-1zM472.4 223.6h1v1h-1zM489.2 242.1h1v1h-1zM471.0 246.8h1v1h-1zM480.1 238.5h1v1h-1zM475.7 215.9h1v1h-1zM492.3 225.2h1v1h-1zM482.5 221.7h1v1h-1zM472.2 217.5h1v1h-1zM484.1 233.5h1v1h-1zM473.2 230.3h1v1h-1zM476.1 245.8h1v1h-1zM482.6 243.3h1v1h-1zM481.7 249.2h1v1h-1zM484.0 230.1h1v1h-1zM486.1 246.3h1v1h-1zM489.9 242.2h1v1h-1zM487.3 234.2h1v1h-1zM490.0 243.8h1v1h-1zM485.4 237.0h1v1h-1zM478.9 237.2h1v1h-1zM482.5 242.9h1v1h-1zM471.1 237.0h1v1h-1zM495.0 240.9h1v1h-1zM487.2 234.5h1v1h-1zM470.6 238.6h1v1h-1zM480.9 244.7h1v1h-1zM495.5 242.1h1v1h-1zM476.5 248.2h1v1h-1zM482.9 242.1h1v1h-1zM494.0 249.7h1v1h-1zM474.0 238.6h1v1h-1zM468.0 240.3h1v1h-1zM474.0 235.7h1v1h-1zM478.9 232.7h1v1h-1zM472.9 251.7h1v1h-1zM478.8 222.5h1v1h-1zM483.2 225.3h1v1h-1zM475.0 242.4h1v1h-1zM480.3 235.3h1v1h-1zM490.9 246.9h1v1h-1zM475.1 236.7h1v1h-1zM470.1 240.2h1v1h-1zM484.3 222.9h1v1h-1zM474.2 223.9h1v1h-1zM485.2 232.0h1v1h-1zM485.3 240.5h1v1h-1zM486.3 232.2h1v1h-1zM478.4 237.1h1v1h-1zM479.6 235.0h1v1h-1zM473.6 242.8h1v1h-1zM477.8 249.6h1v1h-1zM481.7 224.0h1v1h-1zM488.9 231.1h1v1h-1zM473.5 228.8h1v1h-1zM471.0 233.2h1v1h-1zM484.1 229.3h1v1h-1zM472.5 241.1h1v1h-1zM481.2 232.5h1v1h-1zM481.3 227.1h1v1h-1zM478.9 231.8h1v1h-1zM491.2 235.7h1v1h-1zM477.4 212.9h1v1h-1zM467.5 215.6h1v1h-1zM467.4 236.7h1v1h-1zM484.9 232.9h1v1h-1zM484.5 239.7h1v1h-1zM484.5 219.6h1v1h-1zM479.9 236.4h1v1h-1zM478.0 237.3h1v1h-1zM470.1 235.9h1v1h-1zM480.8 239.1h1v1h-1zM477.1 235.8h1v1h-1zM486.0 242.2h1v1h-1zM473.1 241.7h1v1h-1zM473.5 242.2h1v1h-1zM481.8 238.8h1v1h-1zM482.7 241.2h1v1h-1zM484.6 243.2h1v1h-1zM481.8 240.1h1v1h-1zM475.9 218.5h1v1h-1zM479.2 250.4h1v1h-1zM481.1 233.9h1v1h-1zM479.5 248.4h1v1h-1zM472.1 254.4h1v1h-1zM490.6 224.7h1v1h-1zM475.4 236.5h1v1h-1zM481.7 232.0h1v1h-1zM469.4 237.0h1v1h-1zM481.7 229.1h1v1h-1zM477.3 225.9h1v1h-1zM491.7 231.9h1v1h-1zM478.6 231.5h1v1h-1zM469.4 215.7h1v1h-1zM472.8 223.1h1v1h-1zM481.5 243.2h1v1h-1zM482.0 233.0h1v1h-1zM487.1 231.6h1v1h-1zM479.8 234.9h1v1h-1zM477.8 235.8h1v1h-1zM489.3 243.9h1v1h-1zM480.9 241.3h1v1h-1zM469.4 232.1h1v1h-1zM483.0 236.0h1v1h-1zM483.6 222.8h1v1h-1zM476.8 240.9h1v1h-1zM492.4 223.5h1v1h-1zM472.1 248.9h1v1h-1zM476.6 232.4h1v1h-1zM474.8 234.7h1v1h-1zM486.7 240.5h1v1h-1zM471.2 232.6h1v1h-1zM477.9 227.6h1v1h-1zM470.6 220.4h1v1h-1zM497.9 222.6h1v1h-1zM481.3 227.0h1v1h-1zM484.9 239.8h1v1h-1zM486.0 223.3h1v1h-1zM494.1 261.5h1v1h-1zM492.3 255.4h1v1h-1zM483.7 265.4h1v1h-1zM488.2 236.2h1v1h-1zM483.4 250.0h1v1h-1zM488.4 260.6h1v1h-1zM489.1 263.0h1v1h-1zM501.1 262.7h1v1h-1zM493.6 242.0h1v1h-1zM485.7 258.8h1v1h-1zM489.8 263.2h1v1h-1zM483.4 264.8h1v1h-1zM492.9 257.8h1v1h-1zM489.1 264.1h1v1h-1zM491.5 259.9h1v1h-1zM495.8 264.0h1v1h-1zM491.5 263.6h1v1h-1zM487.5 255.2h1v1h-1zM491.6 253.9h1v1h-1zM490.8 242.3h1v1h-1zM494.9 247.3h1v1h-1zM484.0 256.3h1v1h-1zM490.4 258.8h1v1h-1zM475.5 265.7h1v1h-1zM500.7 253.6h1v1h-1zM493.9 254.8h1v1h-1zM493.0 247.7h1v1h-1zM475.9 254.4h1v1h-1zM498.8 260.5h1v1h-1zM496.5 254.5h1v1h-1zM501.4 244.1h1v1h-1zM488.2 262.0h1v1h-1zM482.0 239.7h1v1h-1zM489.6 244.7h1v1h-1zM490.3 264.9h1v1h-1zM492.3 260.0h1v1h-1zM504.8 265.1h1v1h-1zM488.4 258.9h1v1h-1zM496.3 214.0h1v1h-1zM487.7 262.3h1v1h-1zM487.7 250.3h1v1h-1zM474.2 249.4h1v1h-1zM494.7 255.2h1v1h-1zM479.2 261.0h1v1h-1zM478.1 251.3h1v1h-1zM498.1 230.4h1v1h-1zM480.3 256.8h1v1h-1zM496.5 248.5h1v1h-1zM481.2 264.7h1v1h-1zM485.8 259.2h1v1h-1zM493.4 265.3h1v1h-1zM487.7 263.1h1v1h-1zM486.4 263.0h1v1h-1zM493.5 240.7h1v1h-1zM486.1 255.8h1v1h-1zM487.6 237.5h1v1h-1zM495.1 233.9h1v1h-1zM481.8 266.0h1v1h-1zM485.9 259.8h1v1h-1zM492.2 254.0h1v1h-1zM490.5 243.3h1v1h-1zM479.2 240.5h1v1h-1zM511.8 250.7h1v1h-1zM487.6 237.4h1v1h-1zM483.3 246.9h1v1h-1zM481.6 257.1h1v1h-1zM494.8 259.1h1v1h-1zM490.9 263.6h1v1h-1zM484.1 262.4h1v1h-1zM482.9 264.4h1v1h-1zM484.2 245.2h1v1h-1zM493.1 247.5h1v1h-1zM490.6 246.5h1v1h-1zM483.1 250.2h1v1h-1zM491.5 260.3h1v1h-1zM487.1 260.7h1v1h-1zM496.8 245.3h1v1h-1zM486.0 256.2h1v1h-1zM504.2 264.3h1v1h-1zM484.9 264.8h1v1h-1zM484.8 254.8h1v1h-1zM480.5 264.2h1v1h-1zM490.6 265.6h1v1h-1zM488.5 237.2h1v1h-1zM487.8 255.7h1v1h-1zM494.0 258.1h1v1h-1zM488.1 260.6h1v1h-1zM496.9 263.2h1v1h-1zM492.1 260.3h1v1h-1zM502.9 261.0h1v1h-1zM487.2 251.4h1v1h-1zM486.3 254.6h1v1h-1zM489.9 265.9h1v1h-1zM488.0 253.7h1v1h-1zM487.7 242.7h1v1h-1zM501.0 261.9h1v1h-1zM491.4 252.6h1v1h-1zM489.9 258.0h1v1h-1zM496.2 250.3h1v1h-1zM487.1 251.3h1v1h-1zM490.6 256.5h1v1h-1zM483.9 255.3h1v1h-1zM490.7 265.6h1v1h-1zM494.5 256.8h1v1h-1zM487.2 247.6h1v1h-1zM497.8 245.5h1v1h-1zM481.5 255.8h1v1h-1zM497.3 244.0h1v1h-1zM493.1 261.8h1v1h-1zM500.3 256.8h1v1h-1zM483.4 261.4h1v1h-1zM474.7 247.7h1v1h-1zM483.6 255.4h1v1h-1zM485.2 264.0h1v1h-1zM486.0 260.7h1v1h-1zM489.7 245.6h1v1h-1zM493.9 257.0h1v1h-1zM490.8 253.8h1v1h-1zM487.4 247.7h1v1h-1zM487.3 245.1h1v1h-1z" fill="#ee1c4c"/>
<rect x="415.6" y="169.8" width="98.0" height="97.5" fill="none" stroke="#111" stroke-width="1.2"/>
<line x1="464.4" y1="169.8" x2="464.4" y2="267.3" stroke="#111" stroke-width="1.2"/>
<line x1="415.6" y1="244.5" x2="513.6" y2="244.5" stroke="#111" stroke-width="1.2"/>
<path d="M415.60 267.3v2.8M422.98 267.3v1.8M427.29 267.3v1.8M430.35 267.3v1.8M432.72 267.3v1.8M434.66 267.3v1.8M436.30 267.3v1.8M437.73 267.3v1.8M438.98 267.3v1.8M440.10 267.3v2.8M447.48 267.3v1.8M451.79 267.3v1.8M454.85 267.3v1.8M457.22 267.3v1.8M459.16 267.3v1.8M460.80 267.3v1.8M462.23 267.3v1.8M463.48 267.3v1.8M464.60 267.3v2.8M471.98 267.3v1.8M476.29 267.3v1.8M479.35 267.3v1.8M481.72 267.3v1.8M483.66 267.3v1.8M485.30 267.3v1.8M486.73 267.3v1.8M487.98 267.3v1.8M489.10 267.3v2.8M496.48 267.3v1.8M500.79 267.3v1.8M503.85 267.3v1.8M506.22 267.3v1.8M508.16 267.3v1.8M509.80 267.3v1.8M511.23 267.3v1.8M512.48 267.3v1.8M513.60 267.3v2.8M415.6 267.30h-2.8M415.6 259.96h-1.8M415.6 255.67h-1.8M415.6 252.62h-1.8M415.6 250.26h-1.8M415.6 248.33h-1.8M415.6 246.70h-1.8M415.6 245.29h-1.8M415.6 244.04h-1.8M415.6 242.93h-2.8M415.6 235.59h-1.8M415.6 231.30h-1.8M415.6 228.25h-1.8M415.6 225.89h-1.8M415.6 223.96h-1.8M415.6 222.33h-1.8M415.6 220.91h-1.8M415.6 219.67h-1.8M415.6 218.55h-2.8M415.6 211.21h-1.8M415.6 206.92h-1.8M415.6 203.87h-1.8M415.6 201.51h-1.8M415.6 199.58h-1.8M415.6 197.95h-1.8M415.6 196.54h-1.8M415.6 195.29h-1.8M415.6 194.18h-2.8M415.6 186.84h-1.8M415.6 182.55h-1.8M415.6 179.50h-1.8M415.6 177.14h-1.8M415.6 175.21h-1.8M415.6 173.58h-1.8M415.6 172.16h-1.8M415.6 170.92h-1.8M415.6 169.80h-2.8" stroke="#222" stroke-width="0.7"/>
<text x="411.58" y="279.50" fill="#111" style="font-family:'Liberation Sans',sans-serif;font-size:7px;font-weight:normal;stroke:#111;stroke-width:0.4px;" textLength="7.59" lengthAdjust="spacingAndGlyphs">10</text>
<text x="419.97" y="275.60" fill="#111" style="font-family:'Liberation Sans',sans-serif;font-size:5.2px;font-weight:normal;stroke:#111;stroke-width:0.3px;" textLength="2.56" lengthAdjust="spacingAndGlyphs">0</text>
<text x="436.08" y="279.50" fill="#111" style="font-family:'Liberation Sans',sans-serif;font-size:7px;font-weight:normal;stroke:#111;stroke-width:0.4px;" textLength="7.59" lengthAdjust="spacingAndGlyphs">10</text>
<text x="444.26" y="275.60" fill="#111" style="font-family:'Liberation Sans',sans-serif;font-size:5.2px;font-weight:normal;stroke:#111;stroke-width:0.3px;" textLength="2.84" lengthAdjust="spacingAndGlyphs">1</text>
<text x="460.58" y="279.50" fill="#111" style="font-family:'Liberation Sans',sans-serif;font-size:7px;font-weight:normal;stroke:#111;stroke-width:0.4px;" textLength="7.59" lengthAdjust="spacingAndGlyphs">10</text>
<text x="468.91" y="275.60" fill="#111" style="font-family:'Liberation Sans',sans-serif;font-size:5.2px;font-weight:normal;stroke:#111;stroke-width:0.3px;" textLength="2.69" lengthAdjust="spacingAndGlyphs">2</text>
<text x="485.08" y="279.50" fill="#111" style="font-family:'Liberation Sans',sans-serif;font-size:7px;font-weight:normal;stroke:#111;stroke-width:0.4px;" textLength="7.59" lengthAdjust="spacingAndGlyphs">10</text>
<text x="493.47" y="275.60" fill="#111" style="font-family:'Liberation Sans',sans-serif;font-size:5.2px;font-weight:normal;stroke:#111;stroke-width:0.3px;" textLength="2.58" lengthAdjust="spacingAndGlyphs">3</text>
<text x="509.58" y="279.50" fill="#111" style="font-family:'Liberation Sans',sans-serif;font-size:7px;font-weight:normal;stroke:#111;stroke-width:0.4px;" textLength="7.59" lengthAdjust="spacingAndGlyphs">10</text>
<text x="518.05" y="275.60" fill="#111" style="font-family:'Liberation Sans',sans-serif;font-size:5.2px;font-weight:normal;stroke:#111;stroke-width:0.3px;" textLength="2.43" lengthAdjust="spacingAndGlyphs">4</text>
<text x="455.22" y="286.10" fill="#111" style="font-family:'Liberation Sans',sans-serif;font-size:6.5px;font-weight:normal;stroke:#111;stroke-width:0.35px;" textLength="18.65" lengthAdjust="spacingAndGlyphs">FL1-H</text>
<text x="342.74" y="28.60" fill="#000" style="font-family:'Liberation Serif',serif;font-size:9.5px;font-weight:bold;stroke:#000;stroke-width:0.2px;" textLength="23.07" lengthAdjust="spacingAndGlyphs">CD38</text>
<path d="M367.80 22.80H371.80M369.80 20.80V24.80" stroke="#000" stroke-width="0.85"/>
<text x="372.49" y="28.60" fill="#000" style="font-family:'Liberation Serif',serif;font-size:9.5px;font-weight:bold;stroke:#000;stroke-width:0.2px;" textLength="26.61" lengthAdjust="spacingAndGlyphs">/Fas-L</text>
<path d="M398.10 22.80H402.10M400.10 20.80V24.80" stroke="#000" stroke-width="0.85"/>
<text x="358.80" y="41.00" fill="#000" style="font-family:'Liberation Serif',serif;font-size:9.5px;font-weight:bold;stroke:#000;stroke-width:0.3px;" textLength="23.33" lengthAdjust="spacingAndGlyphs">6.4%</text>
<text x="465.57" y="28.20" fill="#000" style="font-family:'Liberation Serif',serif;font-size:9.5px;font-weight:bold;stroke:#000;stroke-width:0.2px;" textLength="18.30" lengthAdjust="spacingAndGlyphs">GpA</text>
<path d="M484.50 21.50H488.50M486.50 19.50V23.50" stroke="#000" stroke-width="0.85"/>
<text x="490.59" y="28.20" fill="#000" style="font-family:'Liberation Serif',serif;font-size:9.5px;font-weight:bold;stroke:#000;stroke-width:0.2px;" textLength="16.94" lengthAdjust="spacingAndGlyphs">/Fas</text>
<path d="M507.00 21.30H511.00M509.00 19.30V23.30" stroke="#000" stroke-width="0.85"/>
<text x="473.63" y="39.80" fill="#000" style="font-family:'Liberation Serif',serif;font-size:9.0px;font-weight:bold;stroke:#000;stroke-width:0.3px;" textLength="28.07" lengthAdjust="spacingAndGlyphs">15.8%</text>
<text x="342.79" y="180.50" fill="#000" style="font-family:'Liberation Serif',serif;font-size:9.5px;font-weight:bold;stroke:#000;stroke-width:0.2px;" textLength="25.66" lengthAdjust="spacingAndGlyphs">CD38</text>
<path d="M367.60 174.10H371.60M369.60 172.10V176.10" stroke="#000" stroke-width="0.85"/>
<text x="372.89" y="180.50" fill="#000" style="font-family:'Liberation Serif',serif;font-size:9.5px;font-weight:bold;stroke:#000;stroke-width:0.2px;" textLength="25.80" lengthAdjust="spacingAndGlyphs">/Fas-L</text>
<path d="M398.10 174.90H402.10M400.10 172.90V176.90" stroke="#000" stroke-width="0.85"/>
<text x="364.60" y="190.90" fill="#000" style="font-family:'Liberation Serif',serif;font-size:9.5px;font-weight:bold;stroke:#000;stroke-width:0.3px;" textLength="28.94" lengthAdjust="spacingAndGlyphs">88.9%</text>
<text x="466.46" y="179.30" fill="#000" style="font-family:'Liberation Serif',serif;font-size:9.5px;font-weight:bold;stroke:#000;stroke-width:0.2px;" textLength="18.71" lengthAdjust="spacingAndGlyphs">GpA</text>
<path d="M484.90 174.00H488.90M486.90 172.00V176.00" stroke="#000" stroke-width="0.85"/>
<text x="491.19" y="179.30" fill="#000" style="font-family:'Liberation Serif',serif;font-size:9.5px;font-weight:bold;stroke:#000;stroke-width:0.2px;" textLength="17.24" lengthAdjust="spacingAndGlyphs">/Fas</text>
<path d="M508.70 174.10H512.70M510.70 172.10V176.10" stroke="#000" stroke-width="0.85"/>
<text x="478.50" y="190.80" fill="#000" style="font-family:'Liberation Serif',serif;font-size:8.5px;font-weight:bold;stroke:#000;stroke-width:0.3px;" textLength="28.53" lengthAdjust="spacingAndGlyphs">60.0%</text>
<text x="273.86" y="13.60" fill="#000" style="font-family:'Liberation Sans',sans-serif;font-size:16.5px;font-weight:bold;stroke:#000;stroke-width:0.4px;" textLength="12.32" lengthAdjust="spacingAndGlyphs">B</text>
<text x="339.71" y="9.60" fill="#000" style="font-family:'Liberation Serif',serif;font-size:10.2px;font-weight:bold;stroke:#000;stroke-width:0.2px;" textLength="33.16" lengthAdjust="spacingAndGlyphs">MGUS</text>
<text x="376.42" y="9.60" fill="#000" style="font-family:'Liberation Serif',serif;font-size:10.2px;font-weight:bold;stroke:#000;stroke-width:0.2px;" textLength="16.21" lengthAdjust="spacingAndGlyphs">pt.</text>
<text x="396.88" y="9.60" fill="#000" style="font-family:'Liberation Serif',serif;font-size:10.2px;font-weight:bold;stroke:#000;stroke-width:0.2px;" textLength="4.64" lengthAdjust="spacingAndGlyphs">#</text>
<text x="406.67" y="9.60" fill="#000" style="font-family:'Liberation Serif',serif;font-size:10.2px;font-weight:bold;stroke:#000;stroke-width:0.2px;" textLength="6.26" lengthAdjust="spacingAndGlyphs">2</text>
<text x="417.89" y="9.60" fill="#000" style="font-family:'Liberation Serif',serif;font-size:10.2px;font-weight:bold;stroke:#000;stroke-width:0.2px;" textLength="30.22" lengthAdjust="spacingAndGlyphs">(O.B.)</text>
<text x="339.52" y="162.20" fill="#000" style="font-family:'Liberation Serif',serif;font-size:10.2px;font-weight:bold;stroke:#000;stroke-width:0.2px;" textLength="20.29" lengthAdjust="spacingAndGlyphs">MM</text>
<text x="366.11" y="162.20" fill="#000" style="font-family:'Liberation Serif',serif;font-size:10.2px;font-weight:bold;stroke:#000;stroke-width:0.2px;" textLength="16.87" lengthAdjust="spacingAndGlyphs">(III</text>
<text x="387.74" y="162.20" fill="#000" style="font-family:'Liberation Serif',serif;font-size:10.2px;font-weight:bold;stroke:#000;stroke-width:0.2px;" textLength="15.37" lengthAdjust="spacingAndGlyphs">st.)</text>
<text x="408.54" y="162.20" fill="#000" style="font-family:'Liberation Serif',serif;font-size:10.2px;font-weight:bold;stroke:#000;stroke-width:0.2px;" textLength="14.10" lengthAdjust="spacingAndGlyphs">pt.</text>
<text x="427.88" y="162.20" fill="#000" style="font-family:'Liberation Serif',serif;font-size:10.2px;font-weight:bold;stroke:#000;stroke-width:0.2px;" textLength="4.64" lengthAdjust="spacingAndGlyphs">#</text>
<text x="437.66" y="162.20" fill="#000" style="font-family:'Liberation Serif',serif;font-size:10.2px;font-weight:bold;stroke:#000;stroke-width:0.2px;" textLength="11.68" lengthAdjust="spacingAndGlyphs">16</text>
<text x="455.31" y="162.20" fill="#000" style="font-family:'Liberation Serif',serif;font-size:10.2px;font-weight:bold;stroke:#000;stroke-width:0.2px;" textLength="31.79" lengthAdjust="spacingAndGlyphs">(M.N.)</text>
</svg>
</body></html>
